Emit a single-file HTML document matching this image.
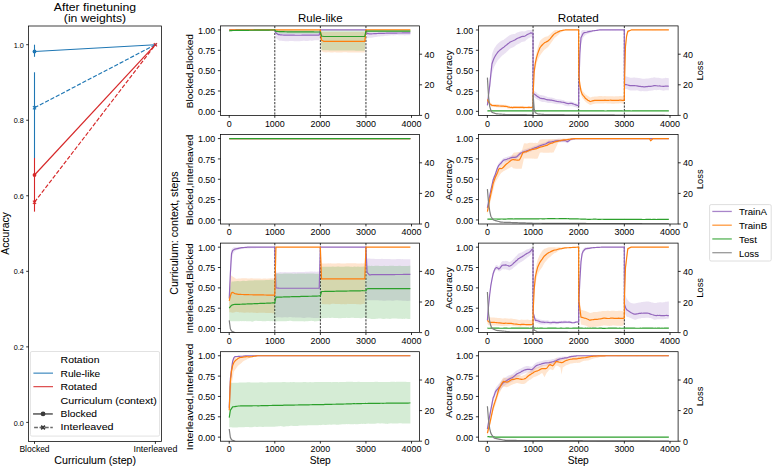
<!DOCTYPE html>
<html><head><meta charset="utf-8"><title>Figure</title>
<style>html,body{margin:0;padding:0;background:#fff;}svg{display:block;}</style>
</head><body>
<svg width="774" height="468" viewBox="0 0 774 468" font-family='"Liberation Sans", sans-serif'>
<rect x="0" y="0" width="774" height="468" fill="#ffffff"/>
<defs>
<clipPath id="c00"><rect x="220.50" y="25.90" width="199.00" height="89.50"/></clipPath>
<clipPath id="c01"><rect x="220.50" y="134.50" width="199.00" height="89.50"/></clipPath>
<clipPath id="c02"><rect x="220.50" y="243.10" width="199.00" height="89.50"/></clipPath>
<clipPath id="c03"><rect x="220.50" y="351.70" width="199.00" height="89.50"/></clipPath>
<clipPath id="c10"><rect x="478.50" y="25.90" width="199.60" height="89.50"/></clipPath>
<clipPath id="c11"><rect x="478.50" y="134.50" width="199.60" height="89.50"/></clipPath>
<clipPath id="c12"><rect x="478.50" y="243.10" width="199.60" height="89.50"/></clipPath>
<clipPath id="c13"><rect x="478.50" y="351.70" width="199.60" height="89.50"/></clipPath>
</defs>
<g clip-path="url(#c00)">
<polygon points="229.23,29.97 230.37,29.97 231.51,29.97 232.65,29.97 233.79,29.97 234.93,29.97 236.07,29.97 237.20,29.97 238.34,29.97 239.48,29.97 240.62,29.97 241.76,29.97 242.90,29.97 244.04,29.97 245.18,29.97 246.32,29.97 247.46,29.97 248.60,29.97 249.74,29.97 250.88,29.97 252.01,29.97 253.15,29.97 254.29,29.97 255.43,29.97 256.57,29.97 257.71,29.97 258.85,29.97 259.99,29.97 261.13,29.97 262.27,29.97 263.41,29.97 264.55,29.97 265.69,29.97 266.83,29.97 267.96,29.97 269.10,29.97 270.24,29.97 271.38,29.97 272.52,29.97 273.66,29.97 274.75,29.97 274.80,30.00 274.85,30.03 275.94,30.78 277.08,30.79 278.22,30.80 279.36,30.81 280.50,30.82 281.64,30.84 282.77,30.85 283.91,30.86 285.05,30.87 286.19,30.88 287.33,30.89 288.47,30.90 289.61,30.91 290.75,30.92 291.89,30.93 293.03,30.94 294.17,30.95 295.31,30.96 296.45,30.97 297.58,30.99 298.72,31.00 299.86,31.01 301.00,31.02 302.14,31.03 303.28,31.04 304.42,31.05 305.56,31.06 306.70,31.07 307.84,31.08 308.98,31.09 310.12,31.10 311.26,31.11 312.40,31.12 313.53,31.14 314.67,31.15 315.81,31.16 316.95,31.17 318.09,31.18 319.23,31.19 320.32,30.02 320.37,29.97 320.42,29.97 321.51,29.97 322.65,29.97 323.79,29.97 324.93,29.97 326.07,29.97 327.21,29.97 328.34,29.97 329.48,29.97 330.62,29.97 331.76,29.97 332.90,29.97 334.04,29.97 335.18,29.97 336.32,29.97 337.46,29.97 338.60,29.97 339.74,29.97 340.88,29.97 342.02,29.97 343.15,29.97 344.29,29.97 345.43,29.97 346.57,29.97 347.71,29.97 348.85,29.97 349.99,29.97 351.13,29.97 352.27,29.97 353.41,29.97 354.55,29.97 355.69,29.97 356.83,29.97 357.97,29.97 359.10,29.97 360.24,29.97 361.38,29.97 362.52,29.97 363.66,29.97 364.80,29.97 365.89,29.97 365.94,30.02 365.99,30.06 367.08,31.19 368.22,31.18 369.36,31.17 370.50,31.16 371.64,31.15 372.78,31.14 373.91,31.12 375.05,31.11 376.19,31.10 377.33,31.09 378.47,31.08 379.61,31.07 380.75,31.06 381.89,31.05 383.03,31.04 384.17,31.03 385.31,31.02 386.45,31.01 387.59,31.00 388.73,30.99 389.86,30.97 391.00,30.96 392.14,30.95 393.28,30.94 394.42,30.93 395.56,30.92 396.70,30.91 397.84,30.90 398.98,30.89 400.12,30.88 401.26,30.87 402.40,30.86 403.54,30.85 404.67,30.84 405.81,30.82 406.95,30.81 408.09,30.80 409.23,30.79 410.37,30.78 410.37,35.24 409.23,35.26 408.09,35.23 406.95,35.32 405.81,35.34 404.67,35.43 403.54,35.36 402.40,35.34 401.26,35.27 400.12,35.28 398.98,35.24 397.84,35.09 396.70,35.02 395.56,35.21 394.42,35.37 393.28,35.39 392.14,35.32 391.00,35.36 389.86,35.50 388.73,35.61 387.59,35.72 386.45,35.77 385.31,35.83 384.17,35.97 383.03,36.13 381.89,36.29 380.75,36.33 379.61,36.50 378.47,36.61 377.33,36.85 376.19,36.88 375.05,37.02 373.91,37.21 372.78,37.45 371.64,37.64 370.50,37.66 369.36,37.84 368.22,37.96 367.08,38.05 365.99,30.55 365.94,30.27 365.89,29.97 364.80,29.97 363.66,29.97 362.52,29.97 361.38,29.97 360.24,29.97 359.10,29.97 357.97,29.97 356.83,29.97 355.69,29.97 354.55,29.97 353.41,29.97 352.27,29.97 351.13,29.97 349.99,29.97 348.85,29.97 347.71,29.97 346.57,29.97 345.43,29.97 344.29,29.97 343.15,29.97 342.02,29.97 340.88,29.97 339.74,29.97 338.60,29.97 337.46,29.97 336.32,29.97 335.18,29.97 334.04,29.97 332.90,29.97 331.76,29.97 330.62,29.97 329.48,29.97 328.34,29.97 327.21,29.97 326.07,29.97 324.93,29.97 323.79,29.97 322.65,29.97 321.51,29.97 320.42,29.97 320.37,29.97 320.32,30.37 319.23,40.15 318.09,40.18 316.95,40.22 315.81,40.21 314.67,40.35 313.53,40.56 312.40,40.66 311.26,40.64 310.12,40.56 308.98,40.68 307.84,40.90 306.70,41.06 305.56,40.95 304.42,40.82 303.28,40.72 302.14,40.93 301.00,41.07 299.86,41.22 298.72,41.25 297.58,41.26 296.45,41.27 295.31,41.22 294.17,41.26 293.03,41.12 291.89,41.10 290.75,41.05 289.61,41.10 288.47,41.15 287.33,41.24 286.19,41.22 285.05,41.16 283.91,41.02 282.77,40.96 281.64,40.82 280.50,40.82 279.36,40.84 278.22,40.03 277.08,38.98 275.94,38.04 274.85,30.59 274.80,30.29 274.75,29.97 273.66,29.97 272.52,29.97 271.38,29.97 270.24,29.97 269.10,29.97 267.96,29.97 266.83,29.97 265.69,29.97 264.55,29.97 263.41,29.97 262.27,29.97 261.13,29.97 259.99,29.97 258.85,29.97 257.71,29.97 256.57,29.97 255.43,29.97 254.29,29.97 253.15,29.97 252.01,29.97 250.88,29.97 249.74,29.97 248.60,29.97 247.46,29.97 246.32,29.97 245.18,29.97 244.04,29.97 242.90,29.97 241.76,29.97 240.62,29.97 239.48,29.97 238.34,29.97 237.20,29.97 236.07,29.97 234.93,29.97 233.79,29.97 232.65,29.97 231.51,29.97 230.37,29.97 229.23,29.97" fill="#9467bd" fill-opacity="0.20" stroke="none"/>
<polygon points="229.23,29.97 230.37,29.97 231.51,29.97 232.65,29.97 233.79,29.97 234.93,29.97 236.07,29.97 237.20,29.97 238.34,29.97 239.48,29.97 240.62,29.97 241.76,29.97 242.90,29.97 244.04,29.97 245.18,29.97 246.32,29.97 247.46,29.97 248.60,29.97 249.74,29.97 250.88,29.97 252.01,29.97 253.15,29.97 254.29,29.97 255.43,29.97 256.57,29.97 257.71,29.97 258.85,29.97 259.99,29.97 261.13,29.97 262.27,29.97 263.41,29.97 264.55,29.97 265.69,29.97 266.83,29.97 267.96,29.97 269.10,29.97 270.24,29.97 271.38,29.97 272.52,29.97 273.66,29.97 274.75,29.97 274.80,29.97 274.85,29.97 275.94,29.97 277.08,29.97 278.22,29.97 279.36,29.97 280.50,29.97 281.64,29.97 282.77,29.97 283.91,29.97 285.05,29.97 286.19,29.97 287.33,29.97 288.47,29.97 289.61,29.97 290.75,29.97 291.89,29.97 293.03,29.97 294.17,29.97 295.31,29.97 296.45,29.97 297.58,29.97 298.72,29.97 299.86,29.97 301.00,29.97 302.14,29.97 303.28,29.97 304.42,29.97 305.56,29.97 306.70,29.97 307.84,29.97 308.98,29.97 310.12,29.97 311.26,29.97 312.40,29.97 313.53,29.97 314.67,29.97 315.81,29.97 316.95,29.97 318.09,29.97 319.23,29.97 320.32,29.97 320.37,30.05 320.42,30.12 321.51,32.00 322.65,32.00 323.79,32.00 324.93,32.00 326.07,32.00 327.21,32.00 328.34,32.00 329.48,32.00 330.62,32.00 331.76,32.00 332.90,32.00 334.04,32.00 335.18,32.00 336.32,32.00 337.46,32.00 338.60,32.00 339.74,32.00 340.88,32.00 342.02,32.00 343.15,32.00 344.29,32.00 345.43,32.00 346.57,32.00 347.71,32.00 348.85,32.00 349.99,32.00 351.13,32.00 352.27,32.00 353.41,32.00 354.55,32.00 355.69,32.00 356.83,32.00 357.97,32.00 359.10,32.00 360.24,32.00 361.38,32.00 362.52,32.00 363.66,32.00 364.80,32.00 365.89,30.05 365.94,29.97 365.99,29.97 367.08,29.97 368.22,29.97 369.36,29.97 370.50,29.97 371.64,29.97 372.78,29.97 373.91,29.97 375.05,29.97 376.19,29.97 377.33,29.97 378.47,29.97 379.61,29.97 380.75,29.97 381.89,29.97 383.03,29.97 384.17,29.97 385.31,29.97 386.45,29.97 387.59,29.97 388.73,29.97 389.86,29.97 391.00,29.97 392.14,29.97 393.28,29.97 394.42,29.97 395.56,29.97 396.70,29.97 397.84,29.97 398.98,29.97 400.12,29.97 401.26,29.97 402.40,29.97 403.54,29.97 404.67,29.97 405.81,29.97 406.95,29.97 408.09,29.97 409.23,29.97 410.37,29.97 410.37,29.97 409.23,29.97 408.09,29.97 406.95,29.97 405.81,29.97 404.67,29.97 403.54,29.97 402.40,29.97 401.26,29.97 400.12,29.97 398.98,29.97 397.84,29.97 396.70,29.97 395.56,29.97 394.42,29.97 393.28,29.97 392.14,29.97 391.00,29.97 389.86,29.97 388.73,29.97 387.59,29.97 386.45,29.97 385.31,29.97 384.17,29.97 383.03,29.97 381.89,29.97 380.75,29.97 379.61,29.97 378.47,29.97 377.33,29.97 376.19,29.97 375.05,29.97 373.91,29.97 372.78,29.97 371.64,29.97 370.50,29.97 369.36,29.97 368.22,29.97 367.08,29.97 365.99,29.97 365.94,29.97 365.89,30.83 364.80,52.38 363.66,52.40 362.52,52.47 361.38,52.53 360.24,52.42 359.10,52.42 357.97,52.38 356.83,52.53 355.69,52.50 354.55,52.49 353.41,52.51 352.27,52.52 351.13,52.51 349.99,52.50 348.85,52.50 347.71,52.47 346.57,52.35 345.43,52.19 344.29,52.22 343.15,52.29 342.02,52.47 340.88,52.44 339.74,52.40 338.60,52.46 337.46,52.42 336.32,52.49 335.18,52.36 334.04,52.37 332.90,52.44 331.76,52.39 330.62,52.43 329.48,52.32 328.34,52.37 327.21,52.36 326.07,52.41 324.93,52.37 323.79,52.32 322.65,51.72 321.51,51.14 320.42,31.61 320.37,30.76 320.32,29.97 319.23,29.97 318.09,29.97 316.95,29.97 315.81,29.97 314.67,29.97 313.53,29.97 312.40,29.97 311.26,29.97 310.12,29.97 308.98,29.97 307.84,29.97 306.70,29.97 305.56,29.97 304.42,29.97 303.28,29.97 302.14,29.97 301.00,29.97 299.86,29.97 298.72,29.97 297.58,29.97 296.45,29.97 295.31,29.97 294.17,29.97 293.03,29.97 291.89,29.97 290.75,29.97 289.61,29.97 288.47,29.97 287.33,29.97 286.19,29.97 285.05,29.97 283.91,29.97 282.77,29.97 281.64,29.97 280.50,29.97 279.36,29.97 278.22,29.97 277.08,29.97 275.94,29.97 274.85,29.97 274.80,29.97 274.75,29.97 273.66,29.97 272.52,29.97 271.38,29.97 270.24,29.97 269.10,29.97 267.96,29.97 266.83,29.97 265.69,29.97 264.55,29.97 263.41,29.97 262.27,29.97 261.13,29.97 259.99,29.97 258.85,29.97 257.71,29.97 256.57,29.97 255.43,29.97 254.29,29.97 253.15,29.97 252.01,29.97 250.88,29.97 249.74,29.97 248.60,29.97 247.46,29.97 246.32,29.97 245.18,29.97 244.04,29.97 242.90,29.97 241.76,29.97 240.62,29.97 239.48,29.97 238.34,29.97 237.20,29.97 236.07,29.97 234.93,29.97 233.79,29.97 232.65,29.97 231.51,29.97 230.37,29.97 229.23,29.97" fill="#ff7f0e" fill-opacity="0.20" stroke="none"/>
<polygon points="229.23,30.38 230.37,30.36 231.51,30.35 232.65,30.34 233.79,30.33 234.93,30.32 236.07,30.31 237.20,30.30 238.34,30.29 239.48,30.28 240.62,30.27 241.76,30.26 242.90,30.25 244.04,30.24 245.18,30.23 246.32,30.22 247.46,30.21 248.60,30.20 249.74,30.19 250.88,30.18 252.01,30.17 253.15,30.16 254.29,30.15 255.43,30.14 256.57,30.13 257.71,30.12 258.85,30.11 259.99,30.10 261.13,30.09 262.27,30.08 263.41,30.07 264.55,30.06 265.69,30.05 266.83,30.04 267.96,30.03 269.10,30.02 270.24,30.01 271.38,30.00 272.52,29.99 273.66,29.98 274.75,29.97 274.80,29.97 274.85,29.97 275.94,29.98 277.08,29.99 278.22,30.00 279.36,30.01 280.50,30.02 281.64,30.03 282.77,30.04 283.91,30.05 285.05,30.06 286.19,30.07 287.33,30.08 288.47,30.09 289.61,30.10 290.75,30.11 291.89,30.12 293.03,30.14 294.17,30.15 295.31,30.16 296.45,30.17 297.58,30.18 298.72,30.19 299.86,30.20 301.00,30.21 302.14,30.22 303.28,30.23 304.42,30.24 305.56,30.25 306.70,30.26 307.84,30.27 308.98,30.28 310.12,30.29 311.26,30.30 312.40,30.31 313.53,30.32 314.67,30.33 315.81,30.34 316.95,30.35 318.09,30.36 319.23,30.38 320.32,30.38 320.37,30.38 320.42,30.37 321.51,30.13 322.65,30.13 323.79,30.13 324.93,30.13 326.07,30.13 327.21,30.13 328.34,30.13 329.48,30.13 330.62,30.13 331.76,30.13 332.90,30.13 334.04,30.13 335.18,30.13 336.32,30.13 337.46,30.13 338.60,30.13 339.74,30.13 340.88,30.13 342.02,30.13 343.15,30.13 344.29,30.13 345.43,30.13 346.57,30.13 347.71,30.13 348.85,30.13 349.99,30.13 351.13,30.13 352.27,30.13 353.41,30.13 354.55,30.13 355.69,30.13 356.83,30.13 357.97,30.13 359.10,30.13 360.24,30.13 361.38,30.13 362.52,30.13 363.66,30.13 364.80,30.13 365.89,29.97 365.94,29.97 365.99,29.97 367.08,29.98 368.22,29.99 369.36,30.00 370.50,30.01 371.64,30.02 372.78,30.03 373.91,30.04 375.05,30.05 376.19,30.06 377.33,30.07 378.47,30.08 379.61,30.09 380.75,30.10 381.89,30.11 383.03,30.12 384.17,30.14 385.31,30.15 386.45,30.16 387.59,30.17 388.73,30.18 389.86,30.19 391.00,30.20 392.14,30.21 393.28,30.22 394.42,30.23 395.56,30.24 396.70,30.25 397.84,30.26 398.98,30.27 400.12,30.28 401.26,30.29 402.40,30.30 403.54,30.31 404.67,30.32 405.81,30.33 406.95,30.34 408.09,30.35 409.23,30.36 410.37,30.38 410.37,32.00 409.23,32.01 408.09,32.02 406.95,32.03 405.81,32.04 404.67,32.05 403.54,32.06 402.40,32.08 401.26,32.09 400.12,32.10 398.98,32.11 397.84,32.12 396.70,32.13 395.56,32.14 394.42,32.15 393.28,32.16 392.14,32.17 391.00,32.18 389.86,32.19 388.73,32.20 387.59,32.21 386.45,32.22 385.31,32.23 384.17,32.24 383.03,32.25 381.89,32.26 380.75,32.27 379.61,32.28 378.47,32.29 377.33,32.30 376.19,32.32 375.05,32.33 373.91,32.34 372.78,32.35 371.64,32.36 370.50,32.37 369.36,32.38 368.22,32.39 367.08,32.40 365.99,32.41 365.94,32.41 365.89,33.14 364.80,50.72 363.66,50.71 362.52,50.69 361.38,50.68 360.24,50.67 359.10,50.66 357.97,50.65 356.83,50.64 355.69,50.63 354.55,50.62 353.41,50.61 352.27,50.60 351.13,50.59 349.99,50.58 348.85,50.57 347.71,50.56 346.57,50.54 345.43,50.53 344.29,50.52 343.15,50.51 342.02,50.50 340.88,50.49 339.74,50.48 338.60,50.47 337.46,50.46 336.32,50.45 335.18,50.44 334.04,50.43 332.90,50.42 331.76,50.41 330.62,50.39 329.48,50.38 328.34,50.37 327.21,50.36 326.07,50.35 324.93,50.34 323.79,50.33 322.65,50.32 321.51,50.31 320.42,34.30 320.37,33.63 320.32,33.63 319.23,33.63 318.09,33.63 316.95,33.63 315.81,33.63 314.67,33.63 313.53,33.63 312.40,33.63 311.26,33.63 310.12,33.63 308.98,33.63 307.84,33.63 306.70,33.63 305.56,33.63 304.42,33.63 303.28,33.63 302.14,33.63 301.00,33.63 299.86,33.63 298.72,33.63 297.58,33.63 296.45,33.63 295.31,33.63 294.17,33.63 293.03,33.63 291.89,33.63 290.75,33.63 289.61,33.63 288.47,33.63 287.33,33.63 286.19,33.63 285.05,33.63 283.91,33.63 282.77,33.63 281.64,33.63 280.50,33.63 279.36,33.63 278.22,33.63 277.08,33.63 275.94,33.63 274.85,30.63 274.80,30.50 274.75,30.38 273.66,30.39 272.52,30.41 271.38,30.44 270.24,30.46 269.10,30.48 267.96,30.50 266.83,30.52 265.69,30.54 264.55,30.56 263.41,30.58 262.27,30.60 261.13,30.62 259.99,30.64 258.85,30.66 257.71,30.68 256.57,30.70 255.43,30.72 254.29,30.74 253.15,30.76 252.01,30.78 250.88,30.80 249.74,30.82 248.60,30.84 247.46,30.86 246.32,30.88 245.18,30.90 244.04,30.92 242.90,30.94 241.76,30.96 240.62,30.99 239.48,31.01 238.34,31.03 237.20,31.05 236.07,31.07 234.93,31.09 233.79,31.11 232.65,31.13 231.51,31.15 230.37,31.17 229.23,31.19" fill="#2ca02c" fill-opacity="0.20" stroke="none"/>
<line x1="274.80" y1="25.90" x2="274.80" y2="115.40" stroke="#000" stroke-width="0.80" stroke-dasharray="2.2,1.26"/>
<line x1="320.37" y1="25.90" x2="320.37" y2="115.40" stroke="#000" stroke-width="0.80" stroke-dasharray="2.2,1.26"/>
<line x1="365.94" y1="25.90" x2="365.94" y2="115.40" stroke="#000" stroke-width="0.80" stroke-dasharray="2.2,1.26"/>
<polyline points="229.23,29.97 230.37,29.97 231.51,29.97 232.65,29.97 233.79,29.97 234.93,29.97 236.07,29.97 237.20,29.97 238.34,29.97 239.48,29.97 240.62,29.97 241.76,29.97 242.90,29.97 244.04,29.97 245.18,29.97 246.32,29.97 247.46,29.97 248.60,29.97 249.74,29.97 250.88,29.97 252.01,29.97 253.15,29.97 254.29,29.97 255.43,29.97 256.57,29.97 257.71,29.97 258.85,29.97 259.99,29.97 261.13,29.97 262.27,29.97 263.41,29.97 264.55,29.97 265.69,29.97 266.83,29.97 267.96,29.97 269.10,29.97 270.24,29.97 271.38,29.97 272.52,29.97 273.66,29.97 274.75,29.97 274.80,30.09 274.85,30.21 275.94,33.06 277.08,33.83 278.22,34.61 279.36,34.70 280.50,34.80 281.64,34.90 282.77,35.00 283.91,35.09 285.05,35.11 286.19,35.12 287.33,35.13 288.47,35.15 289.61,35.16 290.75,35.18 291.89,35.19 293.03,35.20 294.17,35.22 295.31,35.23 296.45,35.24 297.58,35.26 298.72,35.25 299.86,35.24 301.00,35.23 302.14,35.22 303.28,35.21 304.42,35.20 305.56,35.19 306.70,35.18 307.84,35.17 308.98,35.16 310.12,35.15 311.26,35.15 312.40,35.14 313.53,35.13 314.67,35.12 315.81,35.12 316.95,35.11 318.09,35.10 319.23,35.09 320.32,30.17 320.37,29.97 320.42,29.97 321.51,29.97 322.65,29.97 323.79,29.97 324.93,29.97 326.07,29.97 327.21,29.97 328.34,29.97 329.48,29.97 330.62,29.97 331.76,29.97 332.90,29.97 334.04,29.97 335.18,29.97 336.32,29.97 337.46,29.97 338.60,29.97 339.74,29.97 340.88,29.97 342.02,29.97 343.15,29.97 344.29,29.97 345.43,29.97 346.57,29.97 347.71,29.97 348.85,29.97 349.99,29.97 351.13,29.97 352.27,29.97 353.41,29.97 354.55,29.97 355.69,29.97 356.83,29.97 357.97,29.97 359.10,29.97 360.24,29.97 361.38,29.97 362.52,29.97 363.66,29.97 364.80,29.97 365.89,29.97 365.94,30.11 365.99,30.25 367.08,33.63 368.22,33.71 369.36,33.79 370.50,33.87 371.64,33.81 372.78,33.75 373.91,33.69 375.05,33.63 376.19,33.57 377.33,33.51 378.47,33.45 379.61,33.39 380.75,33.36 381.89,33.33 383.03,33.30 384.17,33.28 385.31,33.25 386.45,33.22 387.59,33.20 388.73,33.17 389.86,33.14 391.00,33.11 392.14,33.09 393.28,33.06 394.42,33.05 395.56,33.04 396.70,33.03 397.84,33.02 398.98,33.01 400.12,32.99 401.26,32.98 402.40,32.97 403.54,32.96 404.67,32.95 405.81,32.94 406.95,32.93 408.09,32.92 409.23,32.91 410.37,32.90" fill="none" stroke="#9467bd" stroke-width="1.20" stroke-linejoin="round"/>
<polyline points="229.23,29.97 230.37,29.97 231.51,29.97 232.65,29.97 233.79,29.97 234.93,29.97 236.07,29.97 237.20,29.97 238.34,29.97 239.48,29.97 240.62,29.97 241.76,29.97 242.90,29.97 244.04,29.97 245.18,29.97 246.32,29.97 247.46,29.97 248.60,29.97 249.74,29.97 250.88,29.97 252.01,29.97 253.15,29.97 254.29,29.97 255.43,29.97 256.57,29.97 257.71,29.97 258.85,29.97 259.99,29.97 261.13,29.97 262.27,29.97 263.41,29.97 264.55,29.97 265.69,29.97 266.83,29.97 267.96,29.97 269.10,29.97 270.24,29.97 271.38,29.97 272.52,29.97 273.66,29.97 274.75,29.97 274.80,29.97 274.85,29.97 275.94,29.97 277.08,29.97 278.22,29.97 279.36,29.97 280.50,29.97 281.64,29.97 282.77,29.97 283.91,29.97 285.05,29.97 286.19,29.97 287.33,29.97 288.47,29.97 289.61,29.97 290.75,29.97 291.89,29.97 293.03,29.97 294.17,29.97 295.31,29.97 296.45,29.97 297.58,29.97 298.72,29.97 299.86,29.97 301.00,29.97 302.14,29.97 303.28,29.97 304.42,29.97 305.56,29.97 306.70,29.97 307.84,29.97 308.98,29.97 310.12,29.97 311.26,29.97 312.40,29.97 313.53,29.97 314.67,29.97 315.81,29.97 316.95,29.97 318.09,29.97 319.23,29.97 320.32,29.97 320.37,30.36 320.42,30.75 321.51,40.14 322.65,40.75 323.79,41.36 324.93,41.36 326.07,41.36 327.21,41.36 328.34,41.36 329.48,41.36 330.62,41.36 331.76,41.36 332.90,41.36 334.04,41.36 335.18,41.36 336.32,41.36 337.46,41.36 338.60,41.36 339.74,41.36 340.88,41.36 342.02,41.36 343.15,41.36 344.29,41.36 345.43,41.36 346.57,41.36 347.71,41.36 348.85,41.36 349.99,41.36 351.13,41.36 352.27,41.36 353.41,41.36 354.55,41.36 355.69,41.36 356.83,41.36 357.97,41.36 359.10,41.36 360.24,41.36 361.38,41.36 362.52,41.36 363.66,41.36 364.80,41.36 365.89,30.42 365.94,29.97 365.99,29.97 367.08,29.97 368.22,29.97 369.36,29.97 370.50,29.97 371.64,29.97 372.78,29.97 373.91,29.97 375.05,29.97 376.19,29.97 377.33,29.97 378.47,29.97 379.61,29.97 380.75,29.97 381.89,29.97 383.03,29.97 384.17,29.97 385.31,29.97 386.45,29.97 387.59,29.97 388.73,29.97 389.86,29.97 391.00,29.97 392.14,29.97 393.28,29.97 394.42,29.97 395.56,29.97 396.70,29.97 397.84,29.97 398.98,29.97 400.12,29.97 401.26,29.97 402.40,29.97 403.54,29.97 404.67,29.97 405.81,29.97 406.95,29.97 408.09,29.97 409.23,29.97 410.37,29.97" fill="none" stroke="#ff7f0e" stroke-width="1.20" stroke-linejoin="round"/>
<polyline points="229.23,30.78 230.37,30.66 231.51,30.54 232.65,30.52 233.79,30.50 234.93,30.49 236.07,30.47 237.20,30.45 238.34,30.43 239.48,30.42 240.62,30.40 241.76,30.38 242.90,30.36 244.04,30.35 245.18,30.33 246.32,30.31 247.46,30.29 248.60,30.28 249.74,30.27 250.88,30.25 252.01,30.24 253.15,30.23 254.29,30.21 255.43,30.20 256.57,30.18 257.71,30.17 258.85,30.16 259.99,30.14 261.13,30.13 262.27,30.12 263.41,30.10 264.55,30.09 265.69,30.08 266.83,30.06 267.96,30.05 269.10,30.04 270.24,30.02 271.38,30.01 272.52,29.99 273.66,29.98 274.75,29.97 274.80,30.02 274.85,30.08 275.94,31.43 277.08,31.47 278.22,31.51 279.36,31.54 280.50,31.58 281.64,31.62 282.77,31.65 283.91,31.69 285.05,31.73 286.19,31.77 287.33,31.80 288.47,31.84 289.61,31.85 290.75,31.85 291.89,31.86 293.03,31.86 294.17,31.87 295.31,31.88 296.45,31.88 297.58,31.89 298.72,31.89 299.86,31.90 301.00,31.91 302.14,31.91 303.28,31.92 304.42,31.92 305.56,31.93 306.70,31.94 307.84,31.94 308.98,31.95 310.12,31.95 311.26,31.96 312.40,31.97 313.53,31.97 314.67,31.98 315.81,31.98 316.95,31.99 318.09,32.00 319.23,32.00 320.32,32.00 320.37,32.00 320.42,32.17 321.51,36.07 322.65,36.27 323.79,36.48 324.93,36.48 326.07,36.48 327.21,36.48 328.34,36.48 329.48,36.48 330.62,36.48 331.76,36.48 332.90,36.48 334.04,36.48 335.18,36.48 336.32,36.48 337.46,36.48 338.60,36.48 339.74,36.48 340.88,36.48 342.02,36.48 343.15,36.48 344.29,36.48 345.43,36.48 346.57,36.48 347.71,36.48 348.85,36.48 349.99,36.48 351.13,36.48 352.27,36.48 353.41,36.48 354.55,36.48 355.69,36.48 356.83,36.48 357.97,36.48 359.10,36.48 360.24,36.48 361.38,36.48 362.52,36.48 363.66,36.48 364.80,36.48 365.89,31.40 365.94,31.19 365.99,31.19 367.08,31.19 368.22,31.19 369.36,31.19 370.50,31.19 371.64,31.19 372.78,31.19 373.91,31.19 375.05,31.19 376.19,31.19 377.33,31.19 378.47,31.19 379.61,31.19 380.75,31.19 381.89,31.19 383.03,31.19 384.17,31.19 385.31,31.19 386.45,31.19 387.59,31.19 388.73,31.19 389.86,31.19 391.00,31.19 392.14,31.19 393.28,31.19 394.42,31.19 395.56,31.19 396.70,31.19 397.84,31.19 398.98,31.19 400.12,31.19 401.26,31.19 402.40,31.19 403.54,31.19 404.67,31.19 405.81,31.19 406.95,31.19 408.09,31.19 409.23,31.19 410.37,31.19" fill="none" stroke="#2ca02c" stroke-width="1.20" stroke-linejoin="round"/>
</g>
<g clip-path="url(#c01)">
<polyline points="229.23,138.57 230.37,138.57 231.51,138.57 232.65,138.57 233.79,138.57 234.93,138.57 236.07,138.57 237.20,138.57 238.34,138.57 239.48,138.57 240.62,138.57 241.76,138.57 242.90,138.57 244.04,138.57 245.18,138.57 246.32,138.57 247.46,138.57 248.60,138.57 249.74,138.57 250.88,138.57 252.01,138.57 253.15,138.57 254.29,138.57 255.43,138.57 256.57,138.57 257.71,138.57 258.85,138.57 259.99,138.57 261.13,138.57 262.27,138.57 263.41,138.57 264.55,138.57 265.69,138.57 266.83,138.57 267.96,138.57 269.10,138.57 270.24,138.57 271.38,138.57 272.52,138.57 273.66,138.57 274.75,138.57 274.80,138.57 274.85,138.57 275.94,138.57 277.08,138.57 278.22,138.57 279.36,138.57 280.50,138.57 281.64,138.57 282.77,138.57 283.91,138.57 285.05,138.57 286.19,138.57 287.33,138.57 288.47,138.57 289.61,138.57 290.75,138.57 291.89,138.57 293.03,138.57 294.17,138.57 295.31,138.57 296.45,138.57 297.58,138.57 298.72,138.57 299.86,138.57 301.00,138.57 302.14,138.57 303.28,138.57 304.42,138.57 305.56,138.57 306.70,138.57 307.84,138.57 308.98,138.57 310.12,138.57 311.26,138.57 312.40,138.57 313.53,138.57 314.67,138.57 315.81,138.57 316.95,138.57 318.09,138.57 319.23,138.57 320.32,138.57 320.37,138.57 320.42,138.57 321.51,138.57 322.65,138.57 323.79,138.57 324.93,138.57 326.07,138.57 327.21,138.57 328.34,138.57 329.48,138.57 330.62,138.57 331.76,138.57 332.90,138.57 334.04,138.57 335.18,138.57 336.32,138.57 337.46,138.57 338.60,138.57 339.74,138.57 340.88,138.57 342.02,138.57 343.15,138.57 344.29,138.57 345.43,138.57 346.57,138.57 347.71,138.57 348.85,138.57 349.99,138.57 351.13,138.57 352.27,138.57 353.41,138.57 354.55,138.57 355.69,138.57 356.83,138.57 357.97,138.57 359.10,138.57 360.24,138.57 361.38,138.57 362.52,138.57 363.66,138.57 364.80,138.57 365.89,138.57 365.94,138.57 365.99,138.57 367.08,138.57 368.22,138.57 369.36,138.57 370.50,138.57 371.64,138.57 372.78,138.57 373.91,138.57 375.05,138.57 376.19,138.57 377.33,138.57 378.47,138.57 379.61,138.57 380.75,138.57 381.89,138.57 383.03,138.57 384.17,138.57 385.31,138.57 386.45,138.57 387.59,138.57 388.73,138.57 389.86,138.57 391.00,138.57 392.14,138.57 393.28,138.57 394.42,138.57 395.56,138.57 396.70,138.57 397.84,138.57 398.98,138.57 400.12,138.57 401.26,138.57 402.40,138.57 403.54,138.57 404.67,138.57 405.81,138.57 406.95,138.57 408.09,138.57 409.23,138.57 410.37,138.57" fill="none" stroke="#9467bd" stroke-width="1.20" stroke-linejoin="round"/>
<polyline points="229.23,138.57 230.37,138.57 231.51,138.57 232.65,138.57 233.79,138.57 234.93,138.57 236.07,138.57 237.20,138.57 238.34,138.57 239.48,138.57 240.62,138.57 241.76,138.57 242.90,138.57 244.04,138.57 245.18,138.57 246.32,138.57 247.46,138.57 248.60,138.57 249.74,138.57 250.88,138.57 252.01,138.57 253.15,138.57 254.29,138.57 255.43,138.57 256.57,138.57 257.71,138.57 258.85,138.57 259.99,138.57 261.13,138.57 262.27,138.57 263.41,138.57 264.55,138.57 265.69,138.57 266.83,138.57 267.96,138.57 269.10,138.57 270.24,138.57 271.38,138.57 272.52,138.57 273.66,138.57 274.75,138.57 274.80,138.57 274.85,138.57 275.94,138.57 277.08,138.57 278.22,138.57 279.36,138.57 280.50,138.57 281.64,138.57 282.77,138.57 283.91,138.57 285.05,138.57 286.19,138.57 287.33,138.57 288.47,138.57 289.61,138.57 290.75,138.57 291.89,138.57 293.03,138.57 294.17,138.57 295.31,138.57 296.45,138.57 297.58,138.57 298.72,138.57 299.86,138.57 301.00,138.57 302.14,138.57 303.28,138.57 304.42,138.57 305.56,138.57 306.70,138.57 307.84,138.57 308.98,138.57 310.12,138.57 311.26,138.57 312.40,138.57 313.53,138.57 314.67,138.57 315.81,138.57 316.95,138.57 318.09,138.57 319.23,138.57 320.32,138.57 320.37,138.57 320.42,138.57 321.51,138.57 322.65,138.57 323.79,138.57 324.93,138.57 326.07,138.57 327.21,138.57 328.34,138.57 329.48,138.57 330.62,138.57 331.76,138.57 332.90,138.57 334.04,138.57 335.18,138.57 336.32,138.57 337.46,138.57 338.60,138.57 339.74,138.57 340.88,138.57 342.02,138.57 343.15,138.57 344.29,138.57 345.43,138.57 346.57,138.57 347.71,138.57 348.85,138.57 349.99,138.57 351.13,138.57 352.27,138.57 353.41,138.57 354.55,138.57 355.69,138.57 356.83,138.57 357.97,138.57 359.10,138.57 360.24,138.57 361.38,138.57 362.52,138.57 363.66,138.57 364.80,138.57 365.89,138.57 365.94,138.57 365.99,138.57 367.08,138.57 368.22,138.57 369.36,138.57 370.50,138.57 371.64,138.57 372.78,138.57 373.91,138.57 375.05,138.57 376.19,138.57 377.33,138.57 378.47,138.57 379.61,138.57 380.75,138.57 381.89,138.57 383.03,138.57 384.17,138.57 385.31,138.57 386.45,138.57 387.59,138.57 388.73,138.57 389.86,138.57 391.00,138.57 392.14,138.57 393.28,138.57 394.42,138.57 395.56,138.57 396.70,138.57 397.84,138.57 398.98,138.57 400.12,138.57 401.26,138.57 402.40,138.57 403.54,138.57 404.67,138.57 405.81,138.57 406.95,138.57 408.09,138.57 409.23,138.57 410.37,138.57" fill="none" stroke="#ff7f0e" stroke-width="1.20" stroke-linejoin="round"/>
<polyline points="229.23,138.57 230.37,138.57 231.51,138.57 232.65,138.57 233.79,138.57 234.93,138.57 236.07,138.57 237.20,138.57 238.34,138.57 239.48,138.57 240.62,138.57 241.76,138.57 242.90,138.57 244.04,138.57 245.18,138.57 246.32,138.57 247.46,138.57 248.60,138.57 249.74,138.57 250.88,138.57 252.01,138.57 253.15,138.57 254.29,138.57 255.43,138.57 256.57,138.57 257.71,138.57 258.85,138.57 259.99,138.57 261.13,138.57 262.27,138.57 263.41,138.57 264.55,138.57 265.69,138.57 266.83,138.57 267.96,138.57 269.10,138.57 270.24,138.57 271.38,138.57 272.52,138.57 273.66,138.57 274.75,138.57 274.80,138.57 274.85,138.57 275.94,138.57 277.08,138.57 278.22,138.57 279.36,138.57 280.50,138.57 281.64,138.57 282.77,138.57 283.91,138.57 285.05,138.57 286.19,138.57 287.33,138.57 288.47,138.57 289.61,138.57 290.75,138.57 291.89,138.57 293.03,138.57 294.17,138.57 295.31,138.57 296.45,138.57 297.58,138.57 298.72,138.57 299.86,138.57 301.00,138.57 302.14,138.57 303.28,138.57 304.42,138.57 305.56,138.57 306.70,138.57 307.84,138.57 308.98,138.57 310.12,138.57 311.26,138.57 312.40,138.57 313.53,138.57 314.67,138.57 315.81,138.57 316.95,138.57 318.09,138.57 319.23,138.57 320.32,138.57 320.37,138.57 320.42,138.57 321.51,138.57 322.65,138.57 323.79,138.57 324.93,138.57 326.07,138.57 327.21,138.57 328.34,138.57 329.48,138.57 330.62,138.57 331.76,138.57 332.90,138.57 334.04,138.57 335.18,138.57 336.32,138.57 337.46,138.57 338.60,138.57 339.74,138.57 340.88,138.57 342.02,138.57 343.15,138.57 344.29,138.57 345.43,138.57 346.57,138.57 347.71,138.57 348.85,138.57 349.99,138.57 351.13,138.57 352.27,138.57 353.41,138.57 354.55,138.57 355.69,138.57 356.83,138.57 357.97,138.57 359.10,138.57 360.24,138.57 361.38,138.57 362.52,138.57 363.66,138.57 364.80,138.57 365.89,138.57 365.94,138.57 365.99,138.57 367.08,138.57 368.22,138.57 369.36,138.57 370.50,138.57 371.64,138.57 372.78,138.57 373.91,138.57 375.05,138.57 376.19,138.57 377.33,138.57 378.47,138.57 379.61,138.57 380.75,138.57 381.89,138.57 383.03,138.57 384.17,138.57 385.31,138.57 386.45,138.57 387.59,138.57 388.73,138.57 389.86,138.57 391.00,138.57 392.14,138.57 393.28,138.57 394.42,138.57 395.56,138.57 396.70,138.57 397.84,138.57 398.98,138.57 400.12,138.57 401.26,138.57 402.40,138.57 403.54,138.57 404.67,138.57 405.81,138.57 406.95,138.57 408.09,138.57 409.23,138.57 410.37,138.57" fill="none" stroke="#2ca02c" stroke-width="1.20" stroke-linejoin="round"/>
</g>
<g clip-path="url(#c02)">
<polygon points="229.23,291.84 230.37,261.73 231.51,249.61 232.65,247.99 233.79,247.17 234.93,247.17 236.07,247.17 237.20,247.17 238.34,247.17 239.48,247.17 240.62,247.17 241.76,247.17 242.90,247.17 244.04,247.17 245.18,247.17 246.32,247.17 247.46,247.17 248.60,247.17 249.74,247.17 250.88,247.17 252.01,247.17 253.15,247.17 254.29,247.17 255.43,247.17 256.57,247.17 257.71,247.17 258.85,247.17 259.99,247.17 261.13,247.17 262.27,247.17 263.41,247.17 264.55,247.17 265.69,247.17 266.83,247.17 267.96,247.17 269.10,247.17 270.24,247.17 271.38,247.17 272.52,247.17 273.66,247.17 274.75,247.17 274.80,248.11 274.85,249.12 275.94,272.51 277.08,272.65 278.22,272.55 279.36,272.27 280.50,272.12 281.64,272.15 282.77,272.15 283.91,272.14 285.05,272.07 286.19,272.16 287.33,272.16 288.47,272.17 289.61,272.26 290.75,272.19 291.89,272.16 293.03,271.97 294.17,272.00 295.31,272.10 296.45,272.16 297.58,272.00 298.72,271.88 299.86,271.91 301.00,272.08 302.14,272.10 303.28,272.04 304.42,272.02 305.56,271.83 306.70,271.81 307.84,271.71 308.98,271.69 310.12,271.55 311.26,271.55 312.40,271.60 313.53,271.63 314.67,271.61 315.81,271.72 316.95,271.71 318.09,271.61 319.23,271.45 320.32,248.14 320.37,247.17 320.42,247.17 321.51,247.17 322.65,247.17 323.79,247.17 324.93,247.17 326.07,247.17 327.21,247.17 328.34,247.17 329.48,247.17 330.62,247.17 331.76,247.17 332.90,247.17 334.04,247.17 335.18,247.17 336.32,247.17 337.46,247.17 338.60,247.17 339.74,247.17 340.88,247.17 342.02,247.17 343.15,247.17 344.29,247.17 345.43,247.17 346.57,247.17 347.71,247.17 348.85,247.17 349.99,247.17 351.13,247.17 352.27,247.17 353.41,247.17 354.55,247.17 355.69,247.17 356.83,247.17 357.97,247.17 359.10,247.17 360.24,247.17 361.38,247.17 362.52,247.17 363.66,247.17 364.80,247.17 365.89,247.17 365.94,247.60 365.99,248.02 367.08,258.44 368.22,258.48 369.36,258.56 370.50,258.67 371.64,258.74 372.78,258.71 373.91,258.78 375.05,258.88 376.19,258.91 377.33,258.95 378.47,258.98 379.61,258.98 380.75,258.97 381.89,258.83 383.03,258.91 384.17,258.96 385.31,259.09 386.45,259.11 387.59,259.08 388.73,259.07 389.86,259.08 391.00,259.18 392.14,259.15 393.28,259.27 394.42,259.20 395.56,259.18 396.70,259.01 397.84,258.91 398.98,259.08 400.12,259.12 401.26,259.17 402.40,259.03 403.54,259.16 404.67,259.24 405.81,259.20 406.95,259.26 408.09,259.28 409.23,259.35 410.37,259.27 410.37,300.79 409.23,300.76 408.09,300.90 406.95,300.92 405.81,300.83 404.67,300.81 403.54,300.69 402.40,300.64 401.26,300.49 400.12,300.49 398.98,300.43 397.84,300.35 396.70,300.23 395.56,300.36 394.42,300.54 393.28,300.73 392.14,300.64 391.00,300.54 389.86,300.53 388.73,300.49 387.59,300.57 386.45,300.40 385.31,300.82 384.17,300.73 383.03,300.70 381.89,300.48 380.75,300.38 379.61,300.44 378.47,300.28 377.33,300.27 376.19,300.22 375.05,300.20 373.91,300.16 372.78,300.16 371.64,300.15 370.50,300.22 369.36,300.25 368.22,300.23 367.08,300.29 365.99,251.44 365.94,249.33 365.89,247.17 364.80,247.17 363.66,247.17 362.52,247.17 361.38,247.17 360.24,247.17 359.10,247.17 357.97,247.17 356.83,247.17 355.69,247.17 354.55,247.17 353.41,247.17 352.27,247.17 351.13,247.17 349.99,247.17 348.85,247.17 347.71,247.17 346.57,247.17 345.43,247.17 344.29,247.17 343.15,247.17 342.02,247.17 340.88,247.17 339.74,247.17 338.60,247.17 337.46,247.17 336.32,247.17 335.18,247.17 334.04,247.17 332.90,247.17 331.76,247.17 330.62,247.17 329.48,247.17 328.34,247.17 327.21,247.17 326.07,247.17 324.93,247.17 323.79,247.17 322.65,247.17 321.51,247.17 320.42,247.17 320.37,247.17 320.32,250.02 319.23,318.04 318.09,317.82 316.95,317.91 315.81,318.04 314.67,318.02 313.53,318.06 312.40,317.86 311.26,317.66 310.12,317.43 308.98,317.40 307.84,317.46 306.70,317.57 305.56,317.80 304.42,317.97 303.28,317.92 302.14,317.77 301.00,317.61 299.86,317.56 298.72,317.47 297.58,317.57 296.45,317.57 295.31,317.45 294.17,317.30 293.03,317.38 291.89,317.30 290.75,317.10 289.61,317.07 288.47,317.16 287.33,317.40 286.19,317.23 285.05,317.21 283.91,317.25 282.77,317.39 281.64,317.49 280.50,317.25 279.36,317.30 278.22,317.21 277.08,317.22 275.94,317.14 274.85,252.58 274.80,249.85 274.75,247.17 273.66,247.22 272.52,247.29 271.38,247.36 270.24,247.42 269.10,247.47 267.96,247.50 266.83,247.55 265.69,247.63 264.55,247.71 263.41,247.77 262.27,247.81 261.13,247.84 259.99,247.88 258.85,247.95 257.71,248.01 256.57,248.12 255.43,248.18 254.29,248.21 253.15,248.24 252.01,248.23 250.88,248.32 249.74,248.40 248.60,248.48 247.46,248.56 246.32,248.61 245.18,248.61 244.04,248.69 242.90,248.72 241.76,248.90 240.62,249.16 239.48,249.33 238.34,249.91 237.20,250.04 236.07,250.37 234.93,251.28 233.79,252.29 232.65,255.61 231.51,261.81 230.37,287.79 229.23,304.08" fill="#9467bd" fill-opacity="0.20" stroke="none"/>
<polygon points="229.23,287.87 230.37,274.92 231.51,275.74 232.65,276.56 233.79,277.19 234.93,277.97 236.07,278.66 237.20,278.64 238.34,278.58 239.48,278.51 240.62,278.38 241.76,278.32 242.90,278.31 244.04,278.31 245.18,278.30 246.32,278.25 247.46,278.42 248.60,278.46 249.74,278.48 250.88,278.37 252.01,278.36 253.15,278.39 254.29,278.41 255.43,278.38 256.57,278.46 257.71,278.47 258.85,278.48 259.99,278.49 261.13,278.64 262.27,278.67 263.41,278.47 264.55,278.51 265.69,278.57 266.83,278.74 267.96,278.55 269.10,278.42 270.24,278.33 271.38,278.27 272.52,278.25 273.66,278.36 274.75,278.45 274.80,277.37 274.85,276.09 275.94,247.17 277.08,247.17 278.22,247.17 279.36,247.17 280.50,247.17 281.64,247.17 282.77,247.17 283.91,247.17 285.05,247.17 286.19,247.17 287.33,247.17 288.47,247.17 289.61,247.17 290.75,247.17 291.89,247.17 293.03,247.17 294.17,247.17 295.31,247.17 296.45,247.17 297.58,247.17 298.72,247.17 299.86,247.17 301.00,247.17 302.14,247.17 303.28,247.17 304.42,247.17 305.56,247.17 306.70,247.17 307.84,247.17 308.98,247.17 310.12,247.17 311.26,247.17 312.40,247.17 313.53,247.17 314.67,247.17 315.81,247.17 316.95,247.17 318.09,247.17 319.23,247.17 320.32,247.17 320.37,247.78 320.42,248.36 321.51,263.32 322.65,263.43 323.79,263.44 324.93,263.52 326.07,263.38 327.21,263.45 328.34,263.35 329.48,263.38 330.62,263.37 331.76,263.54 332.90,263.45 334.04,263.46 335.18,263.38 336.32,263.38 337.46,263.35 338.60,263.31 339.74,263.36 340.88,263.39 342.02,263.48 343.15,263.59 344.29,263.53 345.43,263.40 346.57,263.28 347.71,263.32 348.85,263.32 349.99,263.28 351.13,263.28 352.27,263.27 353.41,263.29 354.55,263.35 355.69,263.36 356.83,263.49 357.97,263.60 359.10,263.61 360.24,263.57 361.38,263.30 362.52,263.42 363.66,263.33 364.80,263.48 365.89,247.81 365.94,247.17 365.99,247.17 367.08,247.17 368.22,247.17 369.36,247.17 370.50,247.17 371.64,247.17 372.78,247.17 373.91,247.17 375.05,247.17 376.19,247.17 377.33,247.17 378.47,247.17 379.61,247.17 380.75,247.17 381.89,247.17 383.03,247.17 384.17,247.17 385.31,247.17 386.45,247.17 387.59,247.17 388.73,247.17 389.86,247.17 391.00,247.17 392.14,247.17 393.28,247.17 394.42,247.17 395.56,247.17 396.70,247.17 397.84,247.17 398.98,247.17 400.12,247.17 401.26,247.17 402.40,247.17 403.54,247.17 404.67,247.17 405.81,247.17 406.95,247.17 408.09,247.17 409.23,247.17 410.37,247.17 410.37,247.17 409.23,247.17 408.09,247.17 406.95,247.17 405.81,247.17 404.67,247.17 403.54,247.17 402.40,247.17 401.26,247.17 400.12,247.17 398.98,247.17 397.84,247.17 396.70,247.17 395.56,247.17 394.42,247.17 393.28,247.17 392.14,247.17 391.00,247.17 389.86,247.17 388.73,247.17 387.59,247.17 386.45,247.17 385.31,247.17 384.17,247.17 383.03,247.17 381.89,247.17 380.75,247.17 379.61,247.17 378.47,247.17 377.33,247.17 376.19,247.17 375.05,247.17 373.91,247.17 372.78,247.17 371.64,247.17 370.50,247.17 369.36,247.17 368.22,247.17 367.08,247.17 365.99,247.17 365.94,247.17 365.89,249.42 364.80,303.98 363.66,303.87 362.52,304.09 361.38,304.34 360.24,304.48 359.10,304.34 357.97,304.27 356.83,304.13 355.69,304.11 354.55,304.09 353.41,304.06 352.27,303.98 351.13,304.11 349.99,304.03 348.85,303.96 347.71,303.86 346.57,304.17 345.43,304.20 344.29,304.15 343.15,304.08 342.02,304.17 340.88,304.14 339.74,304.03 338.60,304.04 337.46,304.08 336.32,303.95 335.18,303.93 334.04,303.82 332.90,303.82 331.76,303.86 330.62,304.13 329.48,304.44 328.34,304.37 327.21,304.27 326.07,304.16 324.93,304.30 323.79,304.16 322.65,304.13 321.51,304.01 320.42,251.49 320.37,249.33 320.32,247.17 319.23,247.17 318.09,247.17 316.95,247.17 315.81,247.17 314.67,247.17 313.53,247.17 312.40,247.17 311.26,247.17 310.12,247.17 308.98,247.17 307.84,247.17 306.70,247.17 305.56,247.17 304.42,247.17 303.28,247.17 302.14,247.17 301.00,247.17 299.86,247.17 298.72,247.17 297.58,247.17 296.45,247.17 295.31,247.17 294.17,247.17 293.03,247.17 291.89,247.17 290.75,247.17 289.61,247.17 288.47,247.17 287.33,247.17 286.19,247.17 285.05,247.17 283.91,247.17 282.77,247.17 281.64,247.17 280.50,247.17 279.36,247.17 278.22,247.17 277.08,247.17 275.94,247.17 274.85,307.98 274.80,310.60 274.75,313.18 273.66,313.20 272.52,313.20 271.38,313.11 270.24,313.09 269.10,312.98 267.96,312.99 266.83,312.92 265.69,312.91 264.55,312.79 263.41,312.83 262.27,312.77 261.13,312.78 259.99,312.66 258.85,312.69 257.71,312.90 256.57,312.89 255.43,312.84 254.29,312.74 253.15,312.64 252.01,312.62 250.88,312.56 249.74,312.67 248.60,312.56 247.46,312.60 246.32,312.59 245.18,312.69 244.04,312.70 242.90,312.49 241.76,312.51 240.62,312.32 239.48,312.39 238.34,312.10 237.20,312.02 236.07,311.87 234.93,312.21 233.79,312.44 232.65,312.78 231.51,312.48 230.37,312.34 229.23,312.16" fill="#ff7f0e" fill-opacity="0.20" stroke="none"/>
<polygon points="229.23,291.82 230.37,286.57 231.51,281.56 232.65,281.50 233.79,281.45 234.93,281.27 236.07,281.20 237.20,281.11 238.34,281.11 239.48,281.14 240.62,281.16 241.76,281.00 242.90,280.86 244.04,280.87 245.18,280.95 246.32,280.89 247.46,280.66 248.60,280.55 249.74,280.60 250.88,280.59 252.01,280.56 253.15,280.43 254.29,280.36 255.43,280.25 256.57,280.25 257.71,280.26 258.85,280.30 259.99,280.27 261.13,280.32 262.27,280.25 263.41,280.22 264.55,280.15 265.69,280.12 266.83,280.04 267.96,279.98 269.10,279.90 270.24,279.77 271.38,279.83 272.52,279.72 273.66,279.79 274.75,279.72 274.80,279.59 274.85,279.33 275.94,273.55 277.08,273.61 278.22,273.60 279.36,273.66 280.50,273.70 281.64,273.79 282.77,273.76 283.91,273.60 285.05,273.46 286.19,273.46 287.33,273.48 288.47,273.54 289.61,273.50 290.75,273.58 291.89,273.60 293.03,273.65 294.17,273.70 295.31,273.60 296.45,273.68 297.58,273.58 298.72,273.53 299.86,273.53 301.00,273.56 302.14,273.60 303.28,273.61 304.42,273.61 305.56,273.68 306.70,273.58 307.84,273.51 308.98,273.52 310.12,273.46 311.26,273.43 312.40,273.42 313.53,273.55 314.67,273.66 315.81,273.83 316.95,273.74 318.09,273.81 319.23,273.63 320.32,270.23 320.37,270.05 320.42,270.01 321.51,266.84 322.65,266.72 323.79,266.73 324.93,266.71 326.07,266.79 327.21,266.75 328.34,266.66 329.48,266.69 330.62,266.67 331.76,266.74 332.90,266.62 334.04,266.70 335.18,266.65 336.32,266.68 337.46,266.54 338.60,266.61 339.74,266.74 340.88,266.84 342.02,266.79 343.15,266.68 344.29,266.64 345.43,266.58 346.57,266.44 347.71,266.44 348.85,266.43 349.99,266.70 351.13,266.83 352.27,266.90 353.41,266.79 354.55,266.62 355.69,266.64 356.83,266.63 357.97,266.62 359.10,266.65 360.24,266.74 361.38,266.77 362.52,266.77 363.66,266.55 364.80,266.64 365.89,266.26 365.94,266.39 365.99,266.31 367.08,265.81 368.22,265.76 369.36,265.78 370.50,265.88 371.64,265.85 372.78,265.89 373.91,265.91 375.05,265.86 376.19,265.74 377.33,265.73 378.47,265.86 379.61,265.93 380.75,266.02 381.89,265.93 383.03,265.90 384.17,265.79 385.31,265.94 386.45,266.00 387.59,265.98 388.73,265.88 389.86,265.86 391.00,265.86 392.14,265.82 393.28,265.83 394.42,265.90 395.56,266.02 396.70,266.05 397.84,265.96 398.98,265.87 400.12,265.77 401.26,265.90 402.40,266.00 403.54,266.03 404.67,265.98 405.81,265.91 406.95,265.95 408.09,265.88 409.23,265.77 410.37,265.72 410.37,319.11 409.23,319.04 408.09,318.88 406.95,318.66 405.81,318.61 404.67,318.95 403.54,318.85 402.40,318.91 401.26,318.69 400.12,318.78 398.98,318.85 397.84,318.74 396.70,318.61 395.56,318.55 394.42,318.55 393.28,318.57 392.14,318.58 391.00,318.66 389.86,318.88 388.73,318.76 387.59,318.68 386.45,318.62 385.31,318.78 384.17,318.95 383.03,318.93 381.89,318.79 380.75,318.46 379.61,318.43 378.47,318.44 377.33,318.66 376.19,318.78 375.05,318.88 373.91,318.92 372.78,318.91 371.64,318.96 370.50,318.84 369.36,318.56 368.22,318.52 367.08,318.49 365.99,318.23 365.94,318.09 365.89,317.94 364.80,317.46 363.66,317.72 362.52,318.02 361.38,318.30 360.24,318.14 359.10,318.07 357.97,317.96 356.83,318.02 355.69,318.06 354.55,318.09 353.41,317.82 352.27,317.84 351.13,317.74 349.99,318.05 348.85,317.93 347.71,317.88 346.57,317.83 345.43,317.94 344.29,318.04 343.15,317.96 342.02,318.01 340.88,318.19 339.74,318.22 338.60,318.32 337.46,318.05 336.32,318.06 335.18,317.91 334.04,317.90 332.90,317.84 331.76,317.87 330.62,317.96 329.48,318.01 328.34,317.83 327.21,318.02 326.07,318.02 324.93,318.09 323.79,317.90 322.65,318.13 321.51,318.17 320.42,319.75 320.37,319.79 320.32,319.68 319.23,321.03 318.09,320.92 316.95,321.20 315.81,321.33 314.67,321.40 313.53,321.05 312.40,321.08 311.26,320.84 310.12,321.10 308.98,321.09 307.84,321.15 306.70,321.14 305.56,321.23 304.42,321.39 303.28,321.28 302.14,321.30 301.00,321.17 299.86,321.34 298.72,321.17 297.58,321.22 296.45,321.17 295.31,321.32 294.17,321.28 293.03,321.17 291.89,320.90 290.75,320.87 289.61,320.87 288.47,321.04 287.33,321.11 286.19,321.16 285.05,321.24 283.91,321.20 282.77,321.17 281.64,321.14 280.50,321.16 279.36,321.23 278.22,321.34 277.08,321.36 275.94,321.43 274.85,321.38 274.80,321.27 274.75,321.25 273.66,321.09 272.52,321.19 271.38,321.08 270.24,321.18 269.10,321.02 267.96,321.11 266.83,321.11 265.69,321.30 264.55,321.28 263.41,321.23 262.27,321.20 261.13,321.04 259.99,321.09 258.85,320.90 257.71,320.93 256.57,320.70 255.43,320.84 254.29,321.12 253.15,321.55 252.01,321.68 250.88,321.36 249.74,321.16 248.60,321.16 247.46,321.26 246.32,321.25 245.18,321.04 244.04,321.18 242.90,321.09 241.76,321.14 240.62,321.07 239.48,321.18 238.34,321.22 237.20,321.17 236.07,321.24 234.93,321.19 233.79,321.22 232.65,321.30 231.51,321.29 230.37,321.16 229.23,321.01" fill="#2ca02c" fill-opacity="0.20" stroke="none"/>
<line x1="274.80" y1="243.10" x2="274.80" y2="332.60" stroke="#000" stroke-width="0.80" stroke-dasharray="2.2,1.26"/>
<line x1="320.37" y1="243.10" x2="320.37" y2="332.60" stroke="#000" stroke-width="0.80" stroke-dasharray="2.2,1.26"/>
<line x1="365.94" y1="243.10" x2="365.94" y2="332.60" stroke="#000" stroke-width="0.80" stroke-dasharray="2.2,1.26"/>
<polyline points="229.23,298.43 230.37,273.20 231.51,253.68 232.65,250.42 233.79,249.73 234.93,249.04 236.07,248.80 237.20,248.55 238.34,248.31 239.48,248.06 240.62,247.82 241.76,247.71 242.90,247.60 244.04,247.49 245.18,247.39 246.32,247.28 247.46,247.17 248.60,247.17 249.74,247.17 250.88,247.17 252.01,247.17 253.15,247.17 254.29,247.17 255.43,247.17 256.57,247.17 257.71,247.17 258.85,247.17 259.99,247.17 261.13,247.17 262.27,247.17 263.41,247.17 264.55,247.17 265.69,247.17 266.83,247.17 267.96,247.17 269.10,247.17 270.24,247.17 271.38,247.17 272.52,247.17 273.66,247.17 274.75,247.17 274.80,248.73 274.85,250.30 275.94,287.85 277.08,287.99 278.22,288.12 279.36,288.26 280.50,288.26 281.64,288.26 282.77,288.26 283.91,288.26 285.05,288.26 286.19,288.26 287.33,288.26 288.47,288.26 289.61,288.26 290.75,288.26 291.89,288.26 293.03,288.26 294.17,288.26 295.31,288.26 296.45,288.26 297.58,288.26 298.72,288.26 299.86,288.26 301.00,288.26 302.14,288.26 303.28,288.26 304.42,288.26 305.56,288.26 306.70,288.26 307.84,288.26 308.98,288.26 310.12,288.26 311.26,288.26 312.40,288.26 313.53,288.26 314.67,288.26 315.81,288.26 316.95,288.26 318.09,288.26 319.23,288.26 320.32,248.81 320.37,247.17 320.42,247.17 321.51,247.17 322.65,247.17 323.79,247.17 324.93,247.17 326.07,247.17 327.21,247.17 328.34,247.17 329.48,247.17 330.62,247.17 331.76,247.17 332.90,247.17 334.04,247.17 335.18,247.17 336.32,247.17 337.46,247.17 338.60,247.17 339.74,247.17 340.88,247.17 342.02,247.17 343.15,247.17 344.29,247.17 345.43,247.17 346.57,247.17 347.71,247.17 348.85,247.17 349.99,247.17 351.13,247.17 352.27,247.17 353.41,247.17 354.55,247.17 355.69,247.17 356.83,247.17 357.97,247.17 359.10,247.17 360.24,247.17 361.38,247.17 362.52,247.17 363.66,247.17 364.80,247.17 365.89,247.17 365.94,248.14 365.99,249.11 367.08,272.39 368.22,273.61 369.36,274.83 370.50,274.78 371.64,274.72 372.78,274.67 373.91,274.66 375.05,274.65 376.19,274.65 377.33,274.64 378.47,274.63 379.61,274.62 380.75,274.62 381.89,274.61 383.03,274.60 384.17,274.60 385.31,274.59 386.45,274.58 387.59,274.57 388.73,274.57 389.86,274.56 391.00,274.55 392.14,274.54 393.28,274.54 394.42,274.53 395.56,274.52 396.70,274.51 397.84,274.51 398.98,274.50 400.12,274.49 401.26,274.48 402.40,274.48 403.54,274.47 404.67,274.46 405.81,274.45 406.95,274.45 408.09,274.44 409.23,274.43 410.37,274.43" fill="none" stroke="#9467bd" stroke-width="1.20" stroke-linejoin="round"/>
<polyline points="229.23,300.87 230.37,295.99 231.51,292.73 232.65,292.33 233.79,293.00 234.93,293.60 236.07,293.85 237.20,294.10 238.34,294.36 239.48,294.40 240.62,294.44 241.76,294.48 242.90,294.52 244.04,294.56 245.18,294.60 246.32,294.64 247.46,294.68 248.60,294.70 249.74,294.73 250.88,294.75 252.01,294.77 253.15,294.79 254.29,294.81 255.43,294.83 256.57,294.85 257.71,294.87 258.85,294.89 259.99,294.91 261.13,294.93 262.27,294.95 263.41,294.97 264.55,294.99 265.69,295.01 266.83,295.03 267.96,295.05 269.10,295.07 270.24,295.09 271.38,295.11 272.52,295.13 273.66,295.15 274.75,295.17 274.80,293.33 274.85,291.48 275.94,247.17 277.08,247.17 278.22,247.17 279.36,247.17 280.50,247.17 281.64,247.17 282.77,247.17 283.91,247.17 285.05,247.17 286.19,247.17 287.33,247.17 288.47,247.17 289.61,247.17 290.75,247.17 291.89,247.17 293.03,247.17 294.17,247.17 295.31,247.17 296.45,247.17 297.58,247.17 298.72,247.17 299.86,247.17 301.00,247.17 302.14,247.17 303.28,247.17 304.42,247.17 305.56,247.17 306.70,247.17 307.84,247.17 308.98,247.17 310.12,247.17 311.26,247.17 312.40,247.17 313.53,247.17 314.67,247.17 315.81,247.17 316.95,247.17 318.09,247.17 319.23,247.17 320.32,247.17 320.37,248.39 320.42,249.61 321.51,278.90 322.65,278.90 323.79,278.90 324.93,278.90 326.07,278.90 327.21,278.90 328.34,278.90 329.48,278.90 330.62,278.90 331.76,278.90 332.90,278.90 334.04,278.90 335.18,278.90 336.32,278.90 337.46,278.90 338.60,278.90 339.74,278.90 340.88,278.90 342.02,278.90 343.15,278.90 344.29,278.90 345.43,278.90 346.57,278.90 347.71,278.90 348.85,278.90 349.99,278.90 351.13,278.90 352.27,278.90 353.41,278.90 354.55,278.90 355.69,278.90 356.83,278.90 357.97,278.90 359.10,278.90 360.24,278.90 361.38,278.90 362.52,278.90 363.66,278.90 364.80,278.90 365.89,248.44 365.94,247.17 365.99,247.17 367.08,247.17 368.22,247.17 369.36,247.17 370.50,247.17 371.64,247.17 372.78,247.17 373.91,247.17 375.05,247.17 376.19,247.17 377.33,247.17 378.47,247.17 379.61,247.17 380.75,247.17 381.89,247.17 383.03,247.17 384.17,247.17 385.31,247.17 386.45,247.17 387.59,247.17 388.73,247.17 389.86,247.17 391.00,247.17 392.14,247.17 393.28,247.17 394.42,247.17 395.56,247.17 396.70,247.17 397.84,247.17 398.98,247.17 400.12,247.17 401.26,247.17 402.40,247.17 403.54,247.17 404.67,247.17 405.81,247.17 406.95,247.17 408.09,247.17 409.23,247.17 410.37,247.17" fill="none" stroke="#ff7f0e" stroke-width="1.20" stroke-linejoin="round"/>
<polyline points="229.23,308.19 230.37,306.73 231.51,305.31 232.65,304.90 233.79,304.51 234.93,304.47 236.07,304.43 237.20,304.40 238.34,304.34 239.48,304.30 240.62,304.25 241.76,304.20 242.90,304.12 244.04,304.10 245.18,304.06 246.32,304.01 247.46,303.91 248.60,303.88 249.74,303.84 250.88,303.85 252.01,303.79 253.15,303.77 254.29,303.72 255.43,303.65 256.57,303.58 257.71,303.53 258.85,303.50 259.99,303.47 261.13,303.43 262.27,303.37 263.41,303.34 264.55,303.29 265.69,303.26 266.83,303.21 267.96,303.16 269.10,303.11 270.24,303.05 271.38,303.01 272.52,302.94 273.66,302.93 274.75,302.89 274.80,302.69 274.85,302.46 275.94,297.20 277.08,297.14 278.22,297.10 279.36,297.06 280.50,297.06 281.64,297.05 282.77,297.00 283.91,296.96 285.05,296.94 286.19,296.95 287.33,296.93 288.47,296.86 289.61,296.81 290.75,296.74 291.89,296.71 293.03,296.68 294.17,296.69 295.31,296.65 296.45,296.62 297.58,296.60 298.72,296.57 299.86,296.54 301.00,296.47 302.14,296.45 303.28,296.46 304.42,296.44 305.56,296.44 306.70,296.33 307.84,296.28 308.98,296.23 310.12,296.24 311.26,296.26 312.40,296.21 313.53,296.16 314.67,296.11 315.81,296.10 316.95,296.03 318.09,295.98 319.23,295.93 320.32,295.96 320.37,295.95 320.42,295.76 321.51,291.49 322.65,291.49 323.79,291.50 324.93,291.47 326.07,291.43 327.21,291.41 328.34,291.37 329.48,291.38 330.62,291.36 331.76,291.33 332.90,291.30 334.04,291.28 335.18,291.26 336.32,291.22 337.46,291.18 338.60,291.17 339.74,291.18 340.88,291.16 342.02,291.14 343.15,291.07 344.29,291.07 345.43,291.02 346.57,291.03 347.71,290.99 348.85,291.00 349.99,290.97 351.13,290.95 352.27,290.93 353.41,290.94 354.55,290.95 355.69,290.92 356.83,290.82 357.97,290.81 359.10,290.79 360.24,290.78 361.38,290.73 362.52,290.71 363.66,290.74 364.80,290.76 365.89,290.76 365.94,290.74 365.99,290.67 367.08,288.73 368.22,288.72 369.36,288.69 370.50,288.68 371.64,288.69 372.78,288.70 373.91,288.67 375.05,288.64 376.19,288.59 377.33,288.59 378.47,288.61 379.61,288.62 380.75,288.60 381.89,288.59 383.03,288.59 384.17,288.63 385.31,288.68 386.45,288.69 387.59,288.68 388.73,288.65 389.86,288.68 391.00,288.70 392.14,288.68 393.28,288.65 394.42,288.65 395.56,288.67 396.70,288.67 397.84,288.64 398.98,288.61 400.12,288.62 401.26,288.65 402.40,288.68 403.54,288.69 404.67,288.66 405.81,288.66 406.95,288.65 408.09,288.66 409.23,288.66 410.37,288.67" fill="none" stroke="#2ca02c" stroke-width="1.20" stroke-linejoin="round"/>
<polyline points="229.23,320.36 230.37,328.78 231.51,331.07 232.65,331.61 233.79,332.14 234.93,332.75 236.07,333.37 237.20,333.37 238.34,333.37 239.48,333.37 240.62,333.37 241.76,333.37 242.90,333.37 244.04,333.37 245.18,333.37 246.32,333.37 247.46,333.37 248.60,333.37 249.74,333.37 250.88,333.37 252.01,333.37 253.15,333.37 254.29,333.37 255.43,333.37 256.57,333.37 257.71,333.37 258.85,333.37 259.99,333.37 261.13,333.37 262.27,333.37 263.41,333.37 264.55,333.37 265.69,333.37 266.83,333.37 267.96,333.37 269.10,333.37 270.24,333.37 271.38,333.37 272.52,333.37 273.66,333.37 274.75,333.37 274.80,333.37 274.85,333.37 275.94,333.37 277.08,333.37 278.22,333.37 279.36,333.37 280.50,333.37 281.64,333.37 282.77,333.37 283.91,333.37 285.05,333.37 286.19,333.37 287.33,333.37 288.47,333.37 289.61,333.37 290.75,333.37 291.89,333.37 293.03,333.37 294.17,333.37 295.31,333.37 296.45,333.37 297.58,333.37 298.72,333.37 299.86,333.37 301.00,333.37 302.14,333.37 303.28,333.37 304.42,333.37 305.56,333.37 306.70,333.37 307.84,333.37 308.98,333.37 310.12,333.37 311.26,333.37 312.40,333.37 313.53,333.37 314.67,333.37 315.81,333.37 316.95,333.37 318.09,333.37 319.23,333.37 320.32,333.37 320.37,333.37 320.42,333.37 321.51,333.37 322.65,333.37 323.79,333.37 324.93,333.37 326.07,333.37 327.21,333.37 328.34,333.37 329.48,333.37 330.62,333.37 331.76,333.37 332.90,333.37 334.04,333.37 335.18,333.37 336.32,333.37 337.46,333.37 338.60,333.37 339.74,333.37 340.88,333.37 342.02,333.37 343.15,333.37 344.29,333.37 345.43,333.37 346.57,333.37 347.71,333.37 348.85,333.37 349.99,333.37 351.13,333.37 352.27,333.37 353.41,333.37 354.55,333.37 355.69,333.37 356.83,333.37 357.97,333.37 359.10,333.37 360.24,333.37 361.38,333.37 362.52,333.37 363.66,333.37 364.80,333.37 365.89,333.37 365.94,333.37 365.99,333.37 367.08,333.37 368.22,333.37 369.36,333.37 370.50,333.37 371.64,333.37 372.78,333.37 373.91,333.37 375.05,333.37 376.19,333.37 377.33,333.37 378.47,333.37 379.61,333.37 380.75,333.37 381.89,333.37 383.03,333.37 384.17,333.37 385.31,333.37 386.45,333.37 387.59,333.37 388.73,333.37 389.86,333.37 391.00,333.37 392.14,333.37 393.28,333.37 394.42,333.37 395.56,333.37 396.70,333.37 397.84,333.37 398.98,333.37 400.12,333.37 401.26,333.37 402.40,333.37 403.54,333.37 404.67,333.37 405.81,333.37 406.95,333.37 408.09,333.37 409.23,333.37 410.37,333.37" fill="none" stroke="#7f7f7f" stroke-width="1.20" stroke-linejoin="round"/>
</g>
<g clip-path="url(#c03)">
<polygon points="229.23,400.52 230.37,372.04 231.51,363.90 232.65,360.65 233.79,357.40 234.93,356.99 236.07,356.58 237.20,356.17 238.34,355.77 239.48,355.77 240.62,355.77 241.76,355.77 242.90,355.77 244.04,355.77 245.18,355.77 246.32,355.77 247.46,355.77 248.60,355.77 249.74,355.77 250.88,355.77 252.01,355.77 253.15,355.77 254.29,355.77 255.43,355.77 256.57,355.77 257.71,355.77 258.85,355.77 259.99,355.77 261.13,355.77 262.27,355.77 263.41,355.77 264.55,355.77 265.69,355.77 266.83,355.77 267.96,355.77 269.10,355.77 270.24,355.77 271.38,355.77 272.52,355.77 273.66,355.77 274.75,355.77 274.80,355.77 274.85,355.77 275.94,355.77 277.08,355.77 278.22,355.77 279.36,355.77 280.50,355.77 281.64,355.77 282.77,355.77 283.91,355.77 285.05,355.77 286.19,355.77 287.33,355.77 288.47,355.77 289.61,355.77 290.75,355.77 291.89,355.77 293.03,355.77 294.17,355.77 295.31,355.77 296.45,355.77 297.58,355.77 298.72,355.77 299.86,355.77 301.00,355.77 302.14,355.77 303.28,355.77 304.42,355.77 305.56,355.77 306.70,355.77 307.84,355.77 308.98,355.77 310.12,355.77 311.26,355.77 312.40,355.77 313.53,355.77 314.67,355.77 315.81,355.77 316.95,355.77 318.09,355.77 319.23,355.77 320.32,355.77 320.37,355.77 320.42,355.77 321.51,355.77 322.65,355.77 323.79,355.77 324.93,355.77 326.07,355.77 327.21,355.77 328.34,355.77 329.48,355.77 330.62,355.77 331.76,355.77 332.90,355.77 334.04,355.77 335.18,355.77 336.32,355.77 337.46,355.77 338.60,355.77 339.74,355.77 340.88,355.77 342.02,355.77 343.15,355.77 344.29,355.77 345.43,355.77 346.57,355.77 347.71,355.77 348.85,355.77 349.99,355.77 351.13,355.77 352.27,355.77 353.41,355.77 354.55,355.77 355.69,355.77 356.83,355.77 357.97,355.77 359.10,355.77 360.24,355.77 361.38,355.77 362.52,355.77 363.66,355.77 364.80,355.77 365.89,355.77 365.94,355.77 365.99,355.77 367.08,355.77 368.22,355.77 369.36,355.77 370.50,355.77 371.64,355.77 372.78,355.77 373.91,355.77 375.05,355.77 376.19,355.77 377.33,355.77 378.47,355.77 379.61,355.77 380.75,355.77 381.89,355.77 383.03,355.77 384.17,355.77 385.31,355.77 386.45,355.77 387.59,355.77 388.73,355.77 389.86,355.77 391.00,355.77 392.14,355.77 393.28,355.77 394.42,355.77 395.56,355.77 396.70,355.77 397.84,355.77 398.98,355.77 400.12,355.77 401.26,355.77 402.40,355.77 403.54,355.77 404.67,355.77 405.81,355.77 406.95,355.77 408.09,355.77 409.23,355.77 410.37,355.77 410.37,355.77 409.23,355.77 408.09,355.77 406.95,355.77 405.81,355.77 404.67,355.77 403.54,355.77 402.40,355.77 401.26,355.77 400.12,355.77 398.98,355.77 397.84,355.77 396.70,355.77 395.56,355.77 394.42,355.77 393.28,355.77 392.14,355.77 391.00,355.77 389.86,355.77 388.73,355.77 387.59,355.77 386.45,355.77 385.31,355.77 384.17,355.77 383.03,355.77 381.89,355.77 380.75,355.77 379.61,355.77 378.47,355.77 377.33,355.77 376.19,355.77 375.05,355.77 373.91,355.77 372.78,355.77 371.64,355.77 370.50,355.77 369.36,355.77 368.22,355.77 367.08,355.77 365.99,355.77 365.94,355.77 365.89,355.77 364.80,355.77 363.66,355.77 362.52,355.77 361.38,355.77 360.24,355.77 359.10,355.77 357.97,355.77 356.83,355.77 355.69,355.77 354.55,355.77 353.41,355.77 352.27,355.77 351.13,355.77 349.99,355.77 348.85,355.77 347.71,355.77 346.57,355.77 345.43,355.77 344.29,355.77 343.15,355.77 342.02,355.77 340.88,355.77 339.74,355.77 338.60,355.77 337.46,355.77 336.32,355.77 335.18,355.77 334.04,355.77 332.90,355.77 331.76,355.77 330.62,355.77 329.48,355.77 328.34,355.77 327.21,355.77 326.07,355.77 324.93,355.77 323.79,355.77 322.65,355.77 321.51,355.77 320.42,355.77 320.37,355.77 320.32,355.77 319.23,355.77 318.09,355.77 316.95,355.77 315.81,355.77 314.67,355.77 313.53,355.77 312.40,355.77 311.26,355.77 310.12,355.77 308.98,355.77 307.84,355.77 306.70,355.77 305.56,355.77 304.42,355.77 303.28,355.77 302.14,355.77 301.00,355.77 299.86,355.77 298.72,355.77 297.58,355.77 296.45,355.77 295.31,355.77 294.17,355.77 293.03,355.77 291.89,355.77 290.75,355.77 289.61,355.77 288.47,355.77 287.33,355.77 286.19,355.77 285.05,355.77 283.91,355.77 282.77,355.77 281.64,355.77 280.50,355.77 279.36,355.77 278.22,355.77 277.08,355.77 275.94,355.77 274.85,355.77 274.80,355.77 274.75,355.77 273.66,355.77 272.52,355.77 271.38,355.77 270.24,355.77 269.10,355.77 267.96,355.77 266.83,355.77 265.69,355.77 264.55,355.77 263.41,355.77 262.27,355.77 261.13,355.77 259.99,355.77 258.85,355.77 257.71,355.77 256.57,355.77 255.43,356.18 254.29,356.56 253.15,356.95 252.01,357.39 250.88,357.83 249.74,358.01 248.60,358.49 247.46,359.04 246.32,359.70 245.18,360.28 244.04,360.80 242.90,361.56 241.76,362.63 240.62,363.80 239.48,364.55 238.34,365.41 237.20,366.80 236.07,368.52 234.93,370.10 233.79,371.81 232.65,378.38 231.51,384.95 230.37,396.45 229.23,420.86" fill="#ff7f0e" fill-opacity="0.20" stroke="none"/>
<polygon points="229.23,386.69 230.37,384.66 231.51,382.63 232.65,382.63 233.79,382.70 234.93,382.71 236.07,382.77 237.20,382.69 238.34,382.65 239.48,382.59 240.62,382.55 241.76,382.48 242.90,382.44 244.04,382.47 245.18,382.47 246.32,382.49 247.46,382.37 248.60,382.35 249.74,382.33 250.88,382.41 252.01,382.48 253.15,382.46 254.29,382.50 255.43,382.43 256.57,382.51 257.71,382.50 258.85,382.44 259.99,382.26 261.13,382.13 262.27,382.28 263.41,382.42 264.55,382.54 265.69,382.52 266.83,382.43 267.96,382.37 269.10,382.28 270.24,382.30 271.38,382.31 272.52,382.20 273.66,382.13 274.75,382.13 274.80,382.17 274.85,382.23 275.94,382.19 277.08,382.18 278.22,382.18 279.36,382.18 280.50,382.26 281.64,382.13 282.77,382.02 283.91,381.99 285.05,381.98 286.19,382.14 287.33,382.16 288.47,382.18 289.61,382.13 290.75,382.10 291.89,382.14 293.03,382.10 294.17,382.10 295.31,382.18 296.45,382.23 297.58,382.27 298.72,382.17 299.86,382.23 301.00,382.23 302.14,382.20 303.28,382.09 304.42,381.93 305.56,381.98 306.70,382.13 307.84,382.20 308.98,382.18 310.12,382.06 311.26,382.18 312.40,382.19 313.53,382.14 314.67,382.06 315.81,382.04 316.95,382.03 318.09,382.04 319.23,382.09 320.32,382.10 320.37,382.09 320.42,381.94 321.51,381.95 322.65,382.02 323.79,382.06 324.93,382.02 326.07,381.99 327.21,382.10 328.34,382.06 329.48,382.11 330.62,382.08 331.76,382.14 332.90,382.11 334.04,382.08 335.18,382.07 336.32,382.03 337.46,382.08 338.60,382.13 339.74,382.11 340.88,381.99 342.02,382.01 343.15,381.93 344.29,382.02 345.43,381.90 346.57,381.86 347.71,381.76 348.85,381.83 349.99,381.85 351.13,381.85 352.27,381.82 353.41,381.90 354.55,381.98 355.69,382.00 356.83,381.88 357.97,381.83 359.10,381.80 360.24,381.93 361.38,381.94 362.52,381.97 363.66,381.98 364.80,381.99 365.89,381.99 365.94,381.95 365.99,381.96 367.08,381.97 368.22,381.95 369.36,381.91 370.50,382.01 371.64,382.04 372.78,382.08 373.91,381.95 375.05,381.87 376.19,381.85 377.33,381.86 378.47,381.95 379.61,381.92 380.75,381.98 381.89,381.95 383.03,382.01 384.17,381.95 385.31,381.94 386.45,381.97 387.59,382.00 388.73,381.99 389.86,381.97 391.00,381.84 392.14,381.82 393.28,381.82 394.42,381.87 395.56,381.89 396.70,381.82 397.84,381.77 398.98,381.71 400.12,381.76 401.26,381.81 402.40,381.87 403.54,381.77 404.67,381.79 405.81,381.85 406.95,382.06 408.09,382.09 409.23,382.05 410.37,381.88 410.37,423.43 409.23,423.45 408.09,423.45 406.95,423.45 405.81,423.48 404.67,423.48 403.54,423.55 402.40,423.47 401.26,423.30 400.12,423.22 398.98,423.17 397.84,423.44 396.70,423.44 395.56,423.58 394.42,423.45 393.28,423.40 392.14,423.40 391.00,423.30 389.86,423.51 388.73,423.61 387.59,423.91 386.45,423.86 385.31,423.86 384.17,423.53 383.03,423.40 381.89,423.21 380.75,423.38 379.61,423.40 378.47,423.34 377.33,423.35 376.19,423.47 375.05,423.67 373.91,423.74 372.78,423.69 371.64,423.85 370.50,423.69 369.36,423.71 368.22,423.57 367.08,423.65 365.99,423.76 365.94,423.94 365.89,423.96 364.80,423.88 363.66,423.79 362.52,423.90 361.38,423.85 360.24,423.90 359.10,423.93 357.97,424.32 356.83,424.26 355.69,424.30 354.55,424.11 353.41,424.29 352.27,424.37 351.13,424.34 349.99,424.25 348.85,424.12 347.71,424.13 346.57,424.07 345.43,424.24 344.29,424.28 343.15,424.34 342.02,424.28 340.88,424.38 339.74,424.50 338.60,424.71 337.46,424.73 336.32,424.77 335.18,424.49 334.04,424.57 332.90,424.61 331.76,424.69 330.62,424.64 329.48,424.59 328.34,424.67 327.21,424.81 326.07,424.93 324.93,424.88 323.79,424.72 322.65,424.85 321.51,425.01 320.42,425.16 320.37,425.05 320.32,425.07 319.23,425.12 318.09,425.23 316.95,425.28 315.81,425.24 314.67,425.15 313.53,425.13 312.40,425.24 311.26,425.32 310.12,425.26 308.98,425.13 307.84,425.24 306.70,425.58 305.56,425.60 304.42,425.62 303.28,425.48 302.14,425.50 301.00,425.47 299.86,425.58 298.72,425.75 297.58,425.99 296.45,426.05 295.31,426.05 294.17,425.99 293.03,425.93 291.89,425.80 290.75,425.79 289.61,425.91 288.47,426.16 287.33,426.18 286.19,426.28 285.05,426.51 283.91,426.63 282.77,426.53 281.64,426.28 280.50,426.10 279.36,426.18 278.22,426.20 277.08,426.44 275.94,426.46 274.85,426.67 274.80,426.61 274.75,426.66 273.66,426.69 272.52,426.83 271.38,426.84 270.24,426.83 269.10,426.74 267.96,426.82 266.83,426.72 265.69,426.72 264.55,426.78 263.41,426.91 262.27,426.91 261.13,426.75 259.99,426.70 258.85,426.81 257.71,426.94 256.57,426.94 255.43,426.80 254.29,426.71 253.15,426.93 252.01,427.19 250.88,427.30 249.74,427.16 248.60,426.96 247.46,426.92 246.32,427.02 245.18,427.05 244.04,427.21 242.90,427.22 241.76,427.31 240.62,427.16 239.48,427.23 238.34,427.22 237.20,427.45 236.07,427.42 234.93,427.62 233.79,427.53 232.65,427.52 231.51,427.35 230.37,427.22 229.23,427.24" fill="#2ca02c" fill-opacity="0.20" stroke="none"/>
<polyline points="229.23,407.87 230.37,378.59 231.51,369.82 232.65,361.19 233.79,357.99 234.93,356.60 236.07,356.52 237.20,356.48 238.34,356.39 239.48,356.34 240.62,356.27 241.76,356.23 242.90,356.17 244.04,356.07 245.18,355.97 246.32,355.87 247.46,355.77 248.60,355.77 249.74,355.77 250.88,355.77 252.01,355.77 253.15,355.77 254.29,355.77 255.43,355.77 256.57,355.77 257.71,355.77 258.85,355.77 259.99,355.77 261.13,355.77 262.27,355.77 263.41,355.77 264.55,355.77 265.69,355.77 266.83,355.77 267.96,355.77 269.10,355.77 270.24,355.77 271.38,355.77 272.52,355.77 273.66,355.77 274.75,355.77 274.80,355.77 274.85,355.77 275.94,355.77 277.08,355.77 278.22,355.77 279.36,355.77 280.50,355.77 281.64,355.77 282.77,355.77 283.91,355.77 285.05,355.77 286.19,355.77 287.33,355.77 288.47,355.77 289.61,355.77 290.75,355.77 291.89,355.77 293.03,355.77 294.17,355.77 295.31,355.77 296.45,355.77 297.58,355.77 298.72,355.77 299.86,355.77 301.00,355.77 302.14,355.77 303.28,355.77 304.42,355.77 305.56,355.77 306.70,355.77 307.84,355.77 308.98,355.77 310.12,355.77 311.26,355.77 312.40,355.77 313.53,355.77 314.67,355.77 315.81,355.77 316.95,355.77 318.09,355.77 319.23,355.77 320.32,355.77 320.37,355.77 320.42,355.77 321.51,355.77 322.65,355.77 323.79,355.77 324.93,355.77 326.07,355.77 327.21,355.77 328.34,355.77 329.48,355.77 330.62,355.77 331.76,355.77 332.90,355.77 334.04,355.77 335.18,355.77 336.32,355.77 337.46,355.77 338.60,355.77 339.74,355.77 340.88,355.77 342.02,355.77 343.15,355.77 344.29,355.77 345.43,355.77 346.57,355.77 347.71,355.77 348.85,355.77 349.99,355.77 351.13,355.77 352.27,355.77 353.41,355.77 354.55,355.77 355.69,355.77 356.83,355.77 357.97,355.77 359.10,355.77 360.24,355.77 361.38,355.77 362.52,355.77 363.66,355.77 364.80,355.77 365.89,355.77 365.94,355.77 365.99,355.77 367.08,355.77 368.22,355.77 369.36,355.77 370.50,355.77 371.64,355.77 372.78,355.77 373.91,355.77 375.05,355.77 376.19,355.77 377.33,355.77 378.47,355.77 379.61,355.77 380.75,355.77 381.89,355.77 383.03,355.77 384.17,355.77 385.31,355.77 386.45,355.77 387.59,355.77 388.73,355.77 389.86,355.77 391.00,355.77 392.14,355.77 393.28,355.77 394.42,355.77 395.56,355.77 396.70,355.77 397.84,355.77 398.98,355.77 400.12,355.77 401.26,355.77 402.40,355.77 403.54,355.77 404.67,355.77 405.81,355.77 406.95,355.77 408.09,355.77 409.23,355.77 410.37,355.77" fill="none" stroke="#9467bd" stroke-width="1.20" stroke-linejoin="round"/>
<polyline points="229.23,410.28 230.37,381.80 231.51,371.13 232.65,365.60 233.79,362.68 234.93,361.21 236.07,359.96 237.20,359.15 238.34,358.25 239.48,357.70 240.62,357.52 241.76,357.31 242.90,357.17 244.04,357.01 245.18,356.82 246.32,356.64 247.46,356.76 248.60,356.88 249.74,356.95 250.88,356.75 252.01,356.62 253.15,356.45 254.29,356.26 255.43,356.05 256.57,355.86 257.71,355.77 258.85,355.77 259.99,355.77 261.13,355.77 262.27,355.77 263.41,355.77 264.55,355.77 265.69,355.77 266.83,355.77 267.96,355.77 269.10,355.77 270.24,355.77 271.38,355.77 272.52,355.77 273.66,355.77 274.75,355.77 274.80,355.77 274.85,355.77 275.94,355.77 277.08,355.77 278.22,355.77 279.36,355.77 280.50,355.77 281.64,355.77 282.77,355.77 283.91,355.77 285.05,355.77 286.19,355.77 287.33,355.77 288.47,355.77 289.61,355.77 290.75,355.77 291.89,355.77 293.03,355.77 294.17,355.77 295.31,355.77 296.45,355.77 297.58,355.77 298.72,355.77 299.86,355.77 301.00,355.77 302.14,355.77 303.28,355.77 304.42,355.77 305.56,355.77 306.70,355.77 307.84,355.77 308.98,355.77 310.12,355.77 311.26,355.77 312.40,355.77 313.53,355.77 314.67,355.77 315.81,355.77 316.95,355.77 318.09,355.77 319.23,355.77 320.32,355.77 320.37,355.77 320.42,355.77 321.51,355.77 322.65,355.77 323.79,355.77 324.93,355.77 326.07,355.77 327.21,355.77 328.34,355.77 329.48,355.77 330.62,355.77 331.76,355.77 332.90,355.77 334.04,355.77 335.18,355.77 336.32,355.77 337.46,355.77 338.60,355.77 339.74,355.77 340.88,355.77 342.02,355.77 343.15,355.77 344.29,355.77 345.43,355.77 346.57,355.77 347.71,355.77 348.85,355.77 349.99,355.77 351.13,355.77 352.27,355.77 353.41,355.77 354.55,355.77 355.69,355.77 356.83,355.77 357.97,355.77 359.10,355.77 360.24,355.77 361.38,355.77 362.52,355.77 363.66,355.77 364.80,355.77 365.89,355.77 365.94,355.77 365.99,355.77 367.08,355.77 368.22,355.77 369.36,355.77 370.50,355.77 371.64,355.77 372.78,355.77 373.91,355.77 375.05,355.77 376.19,355.77 377.33,355.77 378.47,355.77 379.61,355.77 380.75,355.77 381.89,355.77 383.03,355.77 384.17,355.77 385.31,355.77 386.45,355.77 387.59,355.77 388.73,355.77 389.86,355.77 391.00,355.77 392.14,355.77 393.28,355.77 394.42,355.77 395.56,355.77 396.70,355.77 397.84,355.77 398.98,355.77 400.12,355.77 401.26,355.77 402.40,355.77 403.54,355.77 404.67,355.77 405.81,355.77 406.95,355.77 408.09,355.77 409.23,355.77 410.37,355.77" fill="none" stroke="#ff7f0e" stroke-width="1.20" stroke-linejoin="round"/>
<polyline points="229.23,417.61 230.37,410.28 231.51,408.61 232.65,406.88 233.79,406.74 234.93,406.55 236.07,406.40 237.20,406.23 238.34,406.02 239.48,406.01 240.62,405.97 241.76,405.97 242.90,405.96 244.04,405.93 245.18,405.93 246.32,405.87 247.46,405.89 248.60,405.88 249.74,405.86 250.88,405.82 252.01,405.78 253.15,405.77 254.29,405.74 255.43,405.75 256.57,405.77 257.71,405.79 258.85,405.78 259.99,405.76 261.13,405.72 262.27,405.68 263.41,405.62 264.55,405.59 265.69,405.57 266.83,405.55 267.96,405.53 269.10,405.52 270.24,405.51 271.38,405.49 272.52,405.46 273.66,405.44 274.75,405.42 274.80,405.39 274.85,405.37 275.94,405.36 277.08,405.37 278.22,405.36 279.36,405.29 280.50,405.31 281.64,405.28 282.77,405.30 283.91,405.21 285.05,405.22 286.19,405.17 287.33,405.14 288.47,405.11 289.61,405.12 290.75,405.13 291.89,405.10 293.03,405.09 294.17,405.04 295.31,405.02 296.45,404.99 297.58,404.98 298.72,404.95 299.86,404.93 301.00,404.94 302.14,404.92 303.28,404.92 304.42,404.89 305.56,404.89 306.70,404.84 307.84,404.78 308.98,404.79 310.12,404.75 311.26,404.73 312.40,404.69 313.53,404.69 314.67,404.71 315.81,404.69 316.95,404.69 318.09,404.69 319.23,404.66 320.32,404.61 320.37,404.56 320.42,404.57 321.51,404.58 322.65,404.58 323.79,404.54 324.93,404.47 326.07,404.45 327.21,404.44 328.34,404.43 329.48,404.38 330.62,404.32 331.76,404.30 332.90,404.27 334.04,404.27 335.18,404.23 336.32,404.22 337.46,404.19 338.60,404.17 339.74,404.14 340.88,404.09 342.02,404.05 343.15,404.03 344.29,404.02 345.43,404.00 346.57,403.91 347.71,403.88 348.85,403.81 349.99,403.84 351.13,403.78 352.27,403.76 353.41,403.71 354.55,403.72 355.69,403.73 356.83,403.69 357.97,403.67 359.10,403.64 360.24,403.61 361.38,403.53 362.52,403.48 363.66,403.48 364.80,403.49 365.89,403.46 365.94,403.46 365.99,403.47 367.08,403.48 368.22,403.46 369.36,403.44 370.50,403.43 371.64,403.42 372.78,403.36 373.91,403.33 375.05,403.32 376.19,403.30 377.33,403.31 378.47,403.31 379.61,403.31 380.75,403.27 381.89,403.23 383.03,403.28 384.17,403.27 385.31,403.25 386.45,403.20 387.59,403.19 388.73,403.16 389.86,403.15 391.00,403.16 392.14,403.20 393.28,403.19 394.42,403.17 395.56,403.14 396.70,403.15 397.84,403.12 398.98,403.09 400.12,403.05 401.26,403.06 402.40,403.04 403.54,403.03 404.67,403.04 405.81,403.03 406.95,403.06 408.09,403.03 409.23,403.01 410.37,402.96" fill="none" stroke="#2ca02c" stroke-width="1.20" stroke-linejoin="round"/>
<polyline points="229.23,428.96 230.37,437.37 231.51,439.67 232.65,440.21 233.79,440.74 234.93,441.35 236.07,441.96 237.20,441.96 238.34,441.96 239.48,441.96 240.62,441.96 241.76,441.96 242.90,441.96 244.04,441.96 245.18,441.96 246.32,441.96 247.46,441.96 248.60,441.96 249.74,441.96 250.88,441.96 252.01,441.96 253.15,441.96 254.29,441.96 255.43,441.96 256.57,441.96 257.71,441.96 258.85,441.96 259.99,441.96 261.13,441.96 262.27,441.96 263.41,441.96 264.55,441.96 265.69,441.96 266.83,441.96 267.96,441.96 269.10,441.96 270.24,441.96 271.38,441.96 272.52,441.96 273.66,441.96 274.75,441.96 274.80,441.96 274.85,441.96 275.94,441.96 277.08,441.96 278.22,441.96 279.36,441.96 280.50,441.96 281.64,441.96 282.77,441.96 283.91,441.96 285.05,441.96 286.19,441.96 287.33,441.96 288.47,441.96 289.61,441.96 290.75,441.96 291.89,441.96 293.03,441.96 294.17,441.96 295.31,441.96 296.45,441.96 297.58,441.96 298.72,441.96 299.86,441.96 301.00,441.96 302.14,441.96 303.28,441.96 304.42,441.96 305.56,441.96 306.70,441.96 307.84,441.96 308.98,441.96 310.12,441.96 311.26,441.96 312.40,441.96 313.53,441.96 314.67,441.96 315.81,441.96 316.95,441.96 318.09,441.96 319.23,441.96 320.32,441.96 320.37,441.96 320.42,441.96 321.51,441.96 322.65,441.96 323.79,441.96 324.93,441.96 326.07,441.96 327.21,441.96 328.34,441.96 329.48,441.96 330.62,441.96 331.76,441.96 332.90,441.96 334.04,441.96 335.18,441.96 336.32,441.96 337.46,441.96 338.60,441.96 339.74,441.96 340.88,441.96 342.02,441.96 343.15,441.96 344.29,441.96 345.43,441.96 346.57,441.96 347.71,441.96 348.85,441.96 349.99,441.96 351.13,441.96 352.27,441.96 353.41,441.96 354.55,441.96 355.69,441.96 356.83,441.96 357.97,441.96 359.10,441.96 360.24,441.96 361.38,441.96 362.52,441.96 363.66,441.96 364.80,441.96 365.89,441.96 365.94,441.96 365.99,441.96 367.08,441.96 368.22,441.96 369.36,441.96 370.50,441.96 371.64,441.96 372.78,441.96 373.91,441.96 375.05,441.96 376.19,441.96 377.33,441.96 378.47,441.96 379.61,441.96 380.75,441.96 381.89,441.96 383.03,441.96 384.17,441.96 385.31,441.96 386.45,441.96 387.59,441.96 388.73,441.96 389.86,441.96 391.00,441.96 392.14,441.96 393.28,441.96 394.42,441.96 395.56,441.96 396.70,441.96 397.84,441.96 398.98,441.96 400.12,441.96 401.26,441.96 402.40,441.96 403.54,441.96 404.67,441.96 405.81,441.96 406.95,441.96 408.09,441.96 409.23,441.96 410.37,441.96" fill="none" stroke="#7f7f7f" stroke-width="1.20" stroke-linejoin="round"/>
</g>
<g clip-path="url(#c10)">
<polygon points="487.40,102.84 488.54,90.66 489.68,79.58 490.82,66.56 491.96,54.36 493.11,51.11 494.25,48.23 495.39,46.63 496.53,44.96 497.67,43.76 498.81,42.65 499.95,41.65 501.09,40.99 502.24,40.26 503.38,40.03 504.52,38.90 505.66,38.22 506.80,37.24 507.94,36.57 509.08,35.54 510.22,35.11 511.37,34.47 512.51,34.35 513.65,33.92 514.79,33.95 515.93,33.34 517.07,32.61 518.21,32.17 519.36,31.78 520.50,31.49 521.64,31.29 522.78,31.35 523.92,31.49 525.06,31.18 526.20,30.87 527.34,30.35 528.49,30.02 529.63,29.97 530.77,29.97 531.91,30.05 533.00,30.26 533.05,60.21 533.10,90.25 534.19,90.81 535.33,91.67 536.47,92.61 537.62,93.66 538.76,94.28 539.90,94.94 541.04,95.04 542.18,95.18 543.32,95.57 544.46,95.76 545.60,96.32 546.75,96.59 547.89,97.20 549.03,97.29 550.17,97.60 551.31,97.48 552.45,97.75 553.59,97.88 554.73,98.58 555.88,98.93 557.02,99.36 558.16,99.26 559.30,99.50 560.44,99.55 561.58,99.76 562.72,100.01 563.86,100.36 565.00,100.95 566.15,101.24 567.29,101.47 568.43,101.48 569.57,101.52 570.71,101.50 571.85,101.64 572.99,102.04 574.13,102.41 575.28,102.78 576.42,103.29 577.56,103.94 578.65,97.52 578.70,90.23 578.75,82.81 579.84,46.41 580.98,31.55 582.12,29.99 583.26,29.97 584.41,29.97 585.55,30.32 586.69,30.35 587.83,30.01 588.97,30.07 590.11,29.99 591.25,30.26 592.39,30.12 593.54,30.14 594.68,30.17 595.82,30.42 596.96,30.43 598.10,30.18 599.24,30.06 600.38,30.03 601.52,30.13 602.67,29.97 603.81,29.97 604.95,29.97 606.09,29.97 607.23,29.97 608.37,29.97 609.51,29.97 610.65,30.01 611.80,30.09 612.94,30.17 614.08,30.11 615.22,30.07 616.36,30.03 617.50,29.97 618.64,29.97 619.78,29.97 620.93,29.97 622.07,29.97 623.21,29.97 624.30,29.97 624.35,48.61 624.40,75.54 625.49,76.61 626.63,76.56 627.77,76.91 628.91,77.23 630.06,77.64 631.20,77.63 632.34,77.74 633.48,77.54 634.62,77.62 635.76,77.70 636.90,77.84 638.04,78.00 639.19,77.92 640.33,78.22 641.47,78.45 642.61,78.70 643.75,78.66 644.89,78.80 646.03,78.56 647.17,78.62 648.32,78.39 649.46,78.19 650.60,78.04 651.74,77.75 652.88,77.78 654.02,77.29 655.16,77.57 656.30,77.72 657.45,77.85 658.59,77.87 659.73,77.90 660.87,78.35 662.01,78.43 663.15,78.34 664.29,78.19 665.43,77.83 666.58,77.96 667.72,78.03 668.86,78.18 668.86,90.22 667.72,90.23 666.58,90.22 665.43,90.34 664.29,90.40 663.15,90.63 662.01,90.28 660.87,90.24 659.73,89.79 658.59,89.97 657.45,90.09 656.30,90.21 655.16,90.07 654.02,89.95 652.88,90.43 651.74,90.62 650.60,90.84 649.46,90.85 648.32,90.96 647.17,91.26 646.03,91.14 644.89,91.32 643.75,91.14 642.61,91.11 641.47,91.31 640.33,91.14 639.19,90.93 638.04,90.52 636.90,90.34 635.76,90.51 634.62,90.62 633.48,90.57 632.34,90.58 631.20,90.41 630.06,90.50 628.91,89.97 627.77,89.60 626.63,89.08 625.49,89.16 624.40,88.54 624.35,61.84 624.30,34.74 623.21,29.97 622.07,29.97 620.93,29.97 619.78,29.97 618.64,29.97 617.50,29.97 616.36,30.08 615.22,30.29 614.08,30.07 612.94,29.97 611.80,29.97 610.65,30.16 609.51,30.09 608.37,30.05 607.23,30.00 606.09,30.12 604.95,30.10 603.81,29.97 602.67,29.97 601.52,29.97 600.38,30.14 599.24,30.20 598.10,30.31 596.96,30.49 595.82,30.65 594.68,31.14 593.54,31.52 592.39,32.12 591.25,32.77 590.11,33.07 588.97,33.43 587.83,33.86 586.69,34.35 585.55,34.97 584.41,35.89 583.26,37.40 582.12,40.54 580.98,44.10 579.84,60.78 578.75,98.98 578.70,106.30 578.65,112.96 577.56,107.76 576.42,107.54 575.28,107.10 574.13,106.91 572.99,106.33 571.85,106.14 570.71,106.12 569.57,106.16 568.43,106.17 567.29,106.22 566.15,106.05 565.00,105.81 563.86,105.21 562.72,104.80 561.58,104.37 560.44,104.21 559.30,104.22 558.16,104.10 557.02,104.26 555.88,103.92 554.73,103.79 553.59,103.39 552.45,103.29 551.31,103.11 550.17,103.09 549.03,102.93 547.89,102.96 546.75,102.58 545.60,102.34 544.46,102.03 543.32,102.06 542.18,101.89 541.04,101.39 539.90,101.04 538.76,100.25 537.62,99.81 536.47,99.01 535.33,98.17 534.19,97.24 533.10,96.44 533.05,66.53 533.00,36.58 531.91,37.31 530.77,37.09 529.63,37.80 528.49,38.30 527.34,39.17 526.20,39.96 525.06,41.13 523.92,41.50 522.78,41.81 521.64,42.09 520.50,42.77 519.36,43.58 518.21,43.98 517.07,44.62 515.93,45.32 514.79,46.20 513.65,46.91 512.51,47.54 511.37,47.95 510.22,48.44 509.08,49.44 507.94,50.64 506.80,51.81 505.66,52.88 504.52,53.78 503.38,54.78 502.24,55.61 501.09,56.79 499.95,58.06 498.81,59.37 497.67,60.46 496.53,62.41 495.39,64.47 494.25,66.79 493.11,69.76 491.96,73.38 490.82,81.96 489.68,91.55 488.54,99.27 487.40,107.90" fill="#9467bd" fill-opacity="0.20" stroke="none"/>
<polygon points="487.40,97.78 488.54,100.17 489.68,102.08 490.82,102.85 491.96,103.88 493.11,103.94 494.25,104.08 495.39,104.02 496.53,104.12 497.67,104.12 498.81,104.31 499.95,104.45 501.09,104.60 502.24,104.70 503.38,104.76 504.52,104.82 505.66,104.87 506.80,105.08 507.94,105.49 509.08,105.71 510.22,106.13 511.37,106.04 512.51,106.14 513.65,105.98 514.79,106.00 515.93,105.95 517.07,106.19 518.21,106.19 519.36,106.31 520.50,106.03 521.64,106.07 522.78,105.87 523.92,106.05 525.06,106.06 526.20,106.20 527.34,106.24 528.49,106.12 529.63,106.13 530.77,106.15 531.91,106.14 533.00,103.43 533.05,97.17 533.10,90.94 534.19,67.01 535.33,58.11 536.47,52.56 537.62,48.21 538.76,44.50 539.90,41.07 541.04,39.72 542.18,38.77 543.32,37.94 544.46,37.21 545.60,36.85 546.75,36.41 547.89,36.25 549.03,35.29 550.17,34.29 551.31,33.00 552.45,32.11 553.59,31.00 554.73,30.24 555.88,29.97 557.02,29.97 558.16,29.97 559.30,29.97 560.44,29.97 561.58,29.97 562.72,29.97 563.86,29.97 565.00,30.15 566.15,30.11 567.29,30.08 568.43,29.98 569.57,29.97 570.71,29.97 571.85,29.97 572.99,29.97 574.13,29.97 575.28,29.97 576.42,29.97 577.56,29.97 578.65,29.97 578.70,48.41 578.75,70.74 579.84,80.46 580.98,86.84 582.12,90.21 583.26,91.75 584.41,92.94 585.55,94.40 586.69,95.12 587.83,95.91 588.97,96.62 590.11,97.39 591.25,97.14 592.39,96.84 593.54,96.64 594.68,96.48 595.82,96.43 596.96,96.41 598.10,96.16 599.24,96.06 600.38,96.03 601.52,96.10 602.67,96.15 603.81,96.21 604.95,96.12 606.09,96.24 607.23,96.17 608.37,96.37 609.51,96.36 610.65,96.31 611.80,96.31 612.94,96.27 614.08,96.43 615.22,96.23 616.36,96.32 617.50,96.20 618.64,96.13 619.78,95.96 620.93,96.10 622.07,96.20 623.21,96.19 624.30,96.09 624.35,89.53 624.40,82.90 625.49,42.86 626.63,33.05 627.77,29.97 628.91,29.97 630.06,29.97 631.20,30.01 632.34,29.97 633.48,29.97 634.62,29.97 635.76,29.97 636.90,30.03 638.04,30.06 639.19,30.04 640.33,29.97 641.47,29.97 642.61,29.97 643.75,29.97 644.89,29.97 646.03,29.97 647.17,30.05 648.32,30.02 649.46,29.97 650.60,29.98 651.74,29.97 652.88,30.02 654.02,30.06 655.16,30.22 656.30,30.03 657.45,29.97 658.59,29.97 659.73,30.01 660.87,30.18 662.01,30.05 663.15,30.08 664.29,29.97 665.43,30.02 666.58,30.04 667.72,30.03 668.86,29.97 668.86,29.99 667.72,30.09 666.58,29.98 665.43,30.05 664.29,29.97 663.15,29.97 662.01,29.97 660.87,29.99 659.73,29.98 658.59,29.97 657.45,29.97 656.30,29.97 655.16,29.98 654.02,29.97 652.88,30.13 651.74,30.09 650.60,30.04 649.46,29.97 648.32,30.05 647.17,29.99 646.03,30.01 644.89,29.97 643.75,29.97 642.61,30.02 641.47,30.08 640.33,29.97 639.19,29.97 638.04,29.97 636.90,29.97 635.76,29.97 634.62,29.97 633.48,29.97 632.34,29.97 631.20,29.98 630.06,31.09 628.91,32.21 627.77,33.43 626.63,38.50 625.49,49.56 624.40,91.00 624.35,97.68 624.30,104.55 623.21,103.55 622.07,103.57 620.93,103.18 619.78,103.30 618.64,103.41 617.50,103.56 616.36,103.51 615.22,103.42 614.08,103.64 612.94,103.66 611.80,103.63 610.65,103.47 609.51,103.47 608.37,103.56 607.23,103.39 606.09,103.34 604.95,103.28 603.81,103.60 602.67,103.58 601.52,103.59 600.38,103.39 599.24,103.49 598.10,103.41 596.96,103.52 595.82,103.50 594.68,103.63 593.54,104.03 592.39,104.37 591.25,104.80 590.11,105.01 588.97,104.31 587.83,103.59 586.69,102.70 585.55,101.87 584.41,100.39 583.26,99.10 582.12,97.75 580.98,94.46 579.84,88.46 578.75,78.74 578.70,56.14 578.65,33.55 577.56,29.97 576.42,30.01 575.28,30.04 574.13,29.98 572.99,29.97 571.85,29.97 570.71,29.99 569.57,30.00 568.43,30.06 567.29,29.97 566.15,29.97 565.00,30.05 563.86,30.75 562.72,31.53 561.58,32.12 560.44,32.82 559.30,33.75 558.16,34.88 557.02,36.02 555.88,37.07 554.73,37.87 553.59,39.14 552.45,40.89 551.31,42.44 550.17,44.18 549.03,45.76 547.89,47.28 546.75,48.01 545.60,48.91 544.46,49.76 543.32,51.11 542.18,52.46 541.04,54.03 539.90,55.80 538.76,58.04 537.62,60.57 536.47,63.92 535.33,68.47 534.19,76.34 533.10,99.14 533.05,105.43 533.00,111.57 531.91,108.64 530.77,108.70 529.63,108.75 528.49,108.88 527.34,108.79 526.20,108.72 525.06,108.60 523.92,108.76 522.78,108.70 521.64,108.78 520.50,108.80 519.36,108.88 518.21,108.86 517.07,108.78 515.93,108.83 514.79,108.87 513.65,108.87 512.51,108.97 511.37,108.82 510.22,109.08 509.08,108.66 507.94,108.65 506.80,108.10 505.66,107.80 504.52,107.62 503.38,107.53 502.24,107.61 501.09,107.45 499.95,107.48 498.81,107.46 497.67,107.36 496.53,107.23 495.39,107.01 494.25,107.11 493.11,107.09 491.96,107.14 490.82,106.19 489.68,105.31 488.54,103.44 487.40,100.99" fill="#ff7f0e" fill-opacity="0.20" stroke="none"/>
<line x1="533.05" y1="25.90" x2="533.05" y2="115.40" stroke="#000" stroke-width="0.80" stroke-dasharray="2.2,1.26"/>
<line x1="578.70" y1="25.90" x2="578.70" y2="115.40" stroke="#000" stroke-width="0.80" stroke-dasharray="2.2,1.26"/>
<line x1="624.35" y1="25.90" x2="624.35" y2="115.40" stroke="#000" stroke-width="0.80" stroke-dasharray="2.2,1.26"/>
<polyline points="487.40,105.41 488.54,94.97 489.68,85.65 490.82,74.26 491.96,63.95 493.11,60.49 494.25,57.69 495.39,55.70 496.53,53.97 497.67,52.30 498.81,51.17 499.95,50.09 501.09,49.18 502.24,48.33 503.38,47.61 504.52,46.58 505.66,45.64 506.80,44.73 507.94,43.76 509.08,42.90 510.22,41.96 511.37,41.48 512.51,41.05 513.65,40.57 514.79,39.98 515.93,39.19 517.07,38.44 518.21,37.99 519.36,37.59 520.50,37.13 521.64,36.57 522.78,36.38 523.92,36.31 525.06,36.00 526.20,35.35 527.34,34.59 528.49,33.94 529.63,33.45 530.77,32.84 531.91,33.15 533.00,33.15 533.05,63.32 533.10,93.27 534.19,94.02 535.33,94.76 536.47,95.70 537.62,96.63 538.76,97.26 539.90,98.10 541.04,98.31 542.18,98.57 543.32,98.66 544.46,98.85 545.60,99.32 546.75,99.59 547.89,99.94 549.03,99.90 550.17,100.18 551.31,100.19 552.45,100.47 553.59,100.55 554.73,100.94 555.88,101.20 557.02,101.50 558.16,101.55 559.30,101.76 560.44,101.93 561.58,102.12 562.72,102.23 563.86,102.45 565.00,102.74 566.15,103.13 567.29,103.45 568.43,103.65 569.57,103.47 570.71,103.35 571.85,103.38 572.99,103.82 574.13,104.29 575.28,104.66 576.42,105.07 577.56,105.52 578.65,105.58 578.70,98.25 578.75,90.78 579.84,53.57 580.98,37.81 582.12,35.40 583.26,33.22 584.41,32.62 585.55,32.50 586.69,32.22 587.83,31.87 588.97,31.58 590.11,31.34 591.25,31.23 592.39,30.93 593.54,30.78 594.68,30.63 595.82,30.49 596.96,30.30 598.10,30.13 599.24,29.97 600.38,29.97 601.52,29.97 602.67,29.97 603.81,29.97 604.95,29.97 606.09,29.97 607.23,29.97 608.37,29.97 609.51,29.97 610.65,29.97 611.80,29.97 612.94,29.97 614.08,29.97 615.22,29.97 616.36,29.97 617.50,29.97 618.64,29.97 619.78,29.97 620.93,29.97 622.07,29.97 623.21,29.97 624.30,29.97 624.35,57.14 624.40,83.91 625.49,84.71 626.63,84.71 627.77,85.03 628.91,85.35 630.06,85.68 631.20,85.63 632.34,85.57 633.48,85.59 634.62,85.62 635.76,85.75 636.90,85.85 638.04,86.06 639.19,86.33 640.33,86.43 641.47,86.72 642.61,86.70 643.75,86.78 644.89,86.82 646.03,86.63 647.17,86.63 648.32,86.43 649.46,86.41 650.60,86.32 651.74,86.17 652.88,85.99 654.02,85.57 655.16,85.63 656.30,85.75 657.45,85.89 658.59,86.00 659.73,85.90 660.87,86.23 662.01,86.24 663.15,86.41 664.29,86.28 665.43,86.07 666.58,86.16 667.72,86.13 668.86,86.23" fill="none" stroke="#9467bd" stroke-width="1.20" stroke-linejoin="round"/>
<polyline points="487.40,99.47 488.54,101.89 489.68,103.74 490.82,104.52 491.96,105.51 493.11,105.52 494.25,105.65 495.39,105.63 496.53,105.81 497.67,105.83 498.81,105.97 499.95,105.98 501.09,106.03 502.24,106.17 503.38,106.22 504.52,106.31 505.66,106.26 506.80,106.48 507.94,106.87 509.08,107.06 510.22,107.51 511.37,107.45 512.51,107.55 513.65,107.38 514.79,107.30 515.93,107.29 517.07,107.33 518.21,107.44 519.36,107.46 520.50,107.33 521.64,107.42 522.78,107.44 523.92,107.61 525.06,107.51 526.20,107.50 527.34,107.49 528.49,107.44 529.63,107.44 530.77,107.52 531.91,107.46 533.00,107.50 533.05,101.32 533.10,95.04 534.19,71.57 535.33,63.05 536.47,57.81 537.62,53.91 538.76,50.66 539.90,47.81 541.04,46.25 542.18,45.01 543.32,43.86 544.46,42.84 545.60,42.26 546.75,41.62 547.89,41.13 549.03,40.04 550.17,38.78 551.31,37.33 552.45,36.01 553.59,34.63 554.73,33.66 555.88,32.94 557.02,32.43 558.16,31.83 559.30,31.35 560.44,30.76 561.58,30.56 562.72,30.35 563.86,30.16 565.00,29.97 566.15,29.97 567.29,29.97 568.43,29.97 569.57,29.97 570.71,29.97 571.85,29.97 572.99,29.97 574.13,29.97 575.28,29.97 576.42,29.97 577.56,29.97 578.65,29.97 578.70,52.31 578.75,74.78 579.84,84.55 580.98,90.84 582.12,94.13 583.26,95.60 584.41,96.94 585.55,98.53 586.69,99.30 587.83,100.15 588.97,100.80 590.11,101.53 591.25,101.24 592.39,100.91 593.54,100.62 594.68,100.36 595.82,100.26 596.96,100.35 598.10,100.25 599.24,100.34 600.38,100.32 601.52,100.35 602.67,100.35 603.81,100.35 604.95,100.21 606.09,100.30 607.23,100.27 608.37,100.34 609.51,100.24 610.65,100.17 611.80,100.34 612.94,100.39 614.08,100.46 615.22,100.28 616.36,100.32 617.50,100.32 618.64,100.28 619.78,100.20 620.93,100.17 622.07,100.30 623.21,100.25 624.30,100.40 624.35,93.73 624.40,87.13 625.49,46.32 626.63,35.81 627.77,31.38 628.91,30.91 630.06,30.45 631.20,29.97 632.34,29.97 633.48,29.97 634.62,29.97 635.76,29.97 636.90,29.97 638.04,29.97 639.19,29.97 640.33,29.97 641.47,29.97 642.61,29.97 643.75,29.97 644.89,29.97 646.03,29.97 647.17,29.97 648.32,29.97 649.46,29.97 650.60,29.97 651.74,29.97 652.88,29.97 654.02,29.97 655.16,29.97 656.30,29.97 657.45,29.97 658.59,29.97 659.73,29.97 660.87,29.97 662.01,29.97 663.15,29.97 664.29,29.97 665.43,29.97 666.58,29.97 667.72,29.97 668.86,29.97" fill="none" stroke="#ff7f0e" stroke-width="1.20" stroke-linejoin="round"/>
<polyline points="487.40,110.83 488.54,110.85 489.68,110.84 490.82,110.82 491.96,110.83 493.11,110.86 494.25,110.91 495.39,110.92 496.53,110.86 497.67,110.85 498.81,110.80 499.95,110.83 501.09,110.82 502.24,110.87 503.38,110.90 504.52,110.89 505.66,110.84 506.80,110.86 507.94,110.89 509.08,110.93 510.22,110.86 511.37,110.82 512.51,110.80 513.65,110.82 514.79,110.85 515.93,110.88 517.07,110.85 518.21,110.83 519.36,110.85 520.50,110.85 521.64,110.84 522.78,110.80 523.92,110.78 525.06,110.81 526.20,110.84 527.34,110.95 528.49,110.94 529.63,110.91 530.77,110.85 531.91,110.85 533.00,110.84 533.05,110.83 533.10,110.82 534.19,110.85 535.33,110.86 536.47,110.84 537.62,110.84 538.76,110.85 539.90,110.89 541.04,110.89 542.18,110.88 543.32,110.85 544.46,110.85 545.60,110.86 546.75,110.91 547.89,110.90 549.03,110.92 550.17,110.88 551.31,110.87 552.45,110.84 553.59,110.86 554.73,110.87 555.88,110.88 557.02,110.88 558.16,110.86 559.30,110.84 560.44,110.75 561.58,110.81 562.72,110.83 563.86,110.89 565.00,110.84 566.15,110.84 567.29,110.81 568.43,110.84 569.57,110.85 570.71,110.90 571.85,110.90 572.99,110.89 574.13,110.90 575.28,110.90 576.42,110.88 577.56,110.84 578.65,110.79 578.70,110.83 578.75,110.88 579.84,110.88 580.98,110.85 582.12,110.81 583.26,110.89 584.41,110.89 585.55,110.89 586.69,110.87 587.83,110.85 588.97,110.88 590.11,110.87 591.25,110.95 592.39,110.92 593.54,110.95 594.68,110.86 595.82,110.91 596.96,110.84 598.10,110.91 599.24,110.91 600.38,110.95 601.52,110.92 602.67,110.91 603.81,110.94 604.95,111.01 606.09,110.99 607.23,110.96 608.37,110.95 609.51,110.94 610.65,110.91 611.80,110.90 612.94,110.89 614.08,110.92 615.22,110.89 616.36,110.90 617.50,110.94 618.64,110.91 619.78,110.88 620.93,110.86 622.07,110.89 623.21,110.98 624.30,110.92 624.35,110.86 624.40,110.83 625.49,110.87 626.63,110.92 627.77,110.87 628.91,110.91 630.06,110.90 631.20,110.98 632.34,110.93 633.48,110.97 634.62,110.88 635.76,110.88 636.90,110.88 638.04,110.93 639.19,110.97 640.33,110.92 641.47,110.87 642.61,110.86 643.75,110.94 644.89,110.95 646.03,110.93 647.17,110.91 648.32,110.92 649.46,110.91 650.60,110.90 651.74,110.89 652.88,110.90 654.02,110.90 655.16,110.93 656.30,110.91 657.45,110.91 658.59,110.90 659.73,110.92 660.87,110.93 662.01,110.93 663.15,110.92 664.29,110.89 665.43,110.93 666.58,110.95 667.72,110.97 668.86,110.93" fill="none" stroke="#2ca02c" stroke-width="1.20" stroke-linejoin="round"/>
<polyline points="487.40,77.61 488.54,96.43 489.68,106.37 490.82,110.13 491.96,112.34 493.11,112.72 494.25,113.11 495.39,113.49 496.53,113.87 497.67,113.95 498.81,114.02 499.95,114.10 501.09,114.18 502.24,114.25 503.38,114.33 504.52,114.41 505.66,114.48 506.80,114.50 507.94,114.51 509.08,114.52 510.22,114.54 511.37,114.55 512.51,114.56 513.65,114.58 514.79,114.59 515.93,114.60 517.07,114.62 518.21,114.63 519.36,114.64 520.50,114.65 521.64,114.67 522.78,114.68 523.92,114.69 525.06,114.71 526.20,114.72 527.34,114.73 528.49,114.75 529.63,114.76 530.77,114.77 531.91,114.79 533.00,114.79 533.05,104.38 533.10,93.98 534.19,109.28 535.33,112.65 536.47,113.33 537.62,114.02 538.76,114.10 539.90,114.18 541.04,114.25 542.18,114.33 543.32,114.41 544.46,114.48 545.60,114.56 546.75,114.64 547.89,114.64 549.03,114.65 550.17,114.65 551.31,114.66 552.45,114.66 553.59,114.67 554.73,114.68 555.88,114.68 557.02,114.69 558.16,114.69 559.30,114.70 560.44,114.70 561.58,114.71 562.72,114.72 563.86,114.72 565.00,114.73 566.15,114.73 567.29,114.74 568.43,114.74 569.57,114.75 570.71,114.76 571.85,114.76 572.99,114.77 574.13,114.77 575.28,114.78 576.42,114.78 577.56,114.79 578.65,114.79 578.70,114.80 578.75,114.80 579.84,114.80 580.98,114.81 582.12,114.81 583.26,114.82 584.41,114.82 585.55,114.83 586.69,114.84 587.83,114.84 588.97,114.85 590.11,114.85 591.25,114.86 592.39,114.86 593.54,114.87 594.68,114.88 595.82,114.88 596.96,114.89 598.10,114.89 599.24,114.90 600.38,114.90 601.52,114.91 602.67,114.92 603.81,114.92 604.95,114.93 606.09,114.93 607.23,114.94 608.37,114.94 609.51,114.95 610.65,114.96 611.80,114.96 612.94,114.97 614.08,114.97 615.22,114.98 616.36,114.98 617.50,114.99 618.64,115.00 619.78,115.00 620.93,115.01 622.07,115.01 623.21,115.02 624.30,115.02 624.35,115.02 624.40,115.02 625.49,115.03 626.63,115.04 627.77,115.04 628.91,115.05 630.06,115.05 631.20,115.06 632.34,115.06 633.48,115.07 634.62,115.08 635.76,115.08 636.90,115.09 638.04,115.09 639.19,115.10 640.33,115.10 641.47,115.11 642.61,115.12 643.75,115.12 644.89,115.13 646.03,115.13 647.17,115.14 648.32,115.14 649.46,115.15 650.60,115.16 651.74,115.16 652.88,115.17 654.02,115.17 655.16,115.18 656.30,115.18 657.45,115.19 658.59,115.20 659.73,115.20 660.87,115.21 662.01,115.21 663.15,115.22 664.29,115.22 665.43,115.23 666.58,115.24 667.72,115.24 668.86,115.25" fill="none" stroke="#7f7f7f" stroke-width="1.20" stroke-linejoin="round"/>
</g>
<g clip-path="url(#c11)">
<polygon points="487.40,205.35 488.54,199.42 489.68,193.53 490.82,188.02 491.96,182.86 493.11,177.64 494.25,174.66 495.39,171.80 496.53,168.38 497.67,165.15 498.81,163.07 499.95,161.87 501.09,160.70 502.24,159.31 503.38,157.98 504.52,157.64 505.66,157.36 506.80,157.00 507.94,156.54 509.08,156.25 510.22,155.76 511.37,155.38 512.51,155.18 513.65,155.15 514.79,155.17 515.93,155.03 517.07,154.31 518.21,153.23 519.36,152.17 520.50,151.11 521.64,150.61 522.78,150.05 523.92,149.65 525.06,149.29 526.20,148.94 527.34,148.50 528.49,148.17 529.63,147.84 530.77,147.53 531.91,147.04 533.00,146.57 533.05,146.52 533.10,146.38 534.19,146.03 535.33,145.62 536.47,145.41 537.62,144.87 538.76,144.27 539.90,143.82 541.04,143.44 542.18,143.06 543.32,142.68 544.46,142.41 545.60,142.14 546.75,141.38 547.89,140.76 549.03,140.29 550.17,140.30 551.31,140.16 552.45,139.83 553.59,139.68 554.73,139.42 555.88,139.20 557.02,138.97 558.16,138.80 559.30,138.76 560.44,138.84 561.58,138.89 562.72,138.85 563.86,138.85 565.00,138.88 566.15,139.41 567.29,139.95 568.43,139.49 569.57,138.57 570.71,138.57 571.85,138.57 572.99,138.57 574.13,138.57 575.28,138.57 576.42,138.57 577.56,138.57 578.65,138.57 578.70,138.57 578.75,138.57 579.84,138.57 580.98,138.57 582.12,138.57 583.26,138.57 584.41,138.57 585.55,138.57 586.69,138.57 587.83,138.57 588.97,138.57 590.11,138.57 591.25,138.57 592.39,138.57 593.54,138.57 594.68,138.57 595.82,138.57 596.96,138.57 598.10,138.57 599.24,138.57 600.38,138.57 601.52,138.57 602.67,138.57 603.81,138.57 604.95,138.57 606.09,138.57 607.23,138.57 608.37,138.57 609.51,138.57 610.65,138.57 611.80,138.57 612.94,138.57 614.08,138.57 615.22,138.57 616.36,138.57 617.50,138.57 618.64,138.57 619.78,138.57 620.93,138.57 622.07,138.57 623.21,138.57 624.30,138.57 624.35,138.57 624.40,138.57 625.49,138.57 626.63,138.57 627.77,138.57 628.91,138.57 630.06,138.57 631.20,138.57 632.34,138.57 633.48,138.57 634.62,138.57 635.76,138.57 636.90,138.57 638.04,138.57 639.19,138.57 640.33,138.57 641.47,138.57 642.61,138.57 643.75,138.57 644.89,138.57 646.03,138.57 647.17,138.57 648.32,138.57 649.46,138.57 650.60,138.57 651.74,138.57 652.88,138.57 654.02,138.57 655.16,138.57 656.30,138.57 657.45,138.57 658.59,138.57 659.73,138.57 660.87,138.57 662.01,138.57 663.15,138.57 664.29,138.57 665.43,138.57 666.58,138.57 667.72,138.57 668.86,138.57 668.86,138.57 667.72,138.57 666.58,138.57 665.43,138.57 664.29,138.57 663.15,138.57 662.01,138.57 660.87,138.57 659.73,138.57 658.59,138.57 657.45,138.57 656.30,138.57 655.16,138.57 654.02,138.57 652.88,138.57 651.74,138.57 650.60,138.57 649.46,138.57 648.32,138.57 647.17,138.57 646.03,138.57 644.89,138.57 643.75,138.57 642.61,138.57 641.47,138.57 640.33,138.57 639.19,138.57 638.04,138.57 636.90,138.57 635.76,138.57 634.62,138.57 633.48,138.57 632.34,138.57 631.20,138.57 630.06,138.57 628.91,138.57 627.77,138.57 626.63,138.57 625.49,138.57 624.40,138.57 624.35,138.57 624.30,138.57 623.21,138.57 622.07,138.57 620.93,138.57 619.78,138.57 618.64,138.57 617.50,138.57 616.36,138.57 615.22,138.57 614.08,138.57 612.94,138.57 611.80,138.57 610.65,138.57 609.51,138.57 608.37,138.57 607.23,138.57 606.09,138.57 604.95,138.57 603.81,138.57 602.67,138.57 601.52,138.57 600.38,138.57 599.24,138.57 598.10,138.57 596.96,138.57 595.82,138.57 594.68,138.57 593.54,138.57 592.39,138.57 591.25,138.57 590.11,138.57 588.97,138.57 587.83,138.57 586.69,138.57 585.55,138.57 584.41,138.57 583.26,138.57 582.12,138.57 580.98,138.57 579.84,138.57 578.75,138.57 578.70,138.57 578.65,138.58 577.56,138.83 576.42,139.11 575.28,139.36 574.13,139.64 572.99,140.01 571.85,140.43 570.71,140.79 569.57,141.83 568.43,142.77 567.29,143.25 566.15,142.73 565.00,142.23 563.86,142.22 562.72,142.24 561.58,142.30 560.44,142.27 559.30,142.21 558.16,142.28 557.02,142.47 555.88,142.72 554.73,142.97 553.59,143.25 552.45,143.42 551.31,143.78 550.17,143.94 549.03,143.96 547.89,144.45 546.75,145.08 545.60,145.87 544.46,146.16 543.32,146.45 542.18,146.86 541.04,147.26 539.90,147.66 538.76,148.14 537.62,148.76 536.47,149.32 535.33,149.55 534.19,149.98 533.10,150.36 533.05,150.50 533.00,150.55 531.91,151.04 530.77,151.55 529.63,151.89 528.49,152.24 527.34,152.59 526.20,153.06 525.06,153.42 523.92,153.81 522.78,154.23 521.64,154.81 520.50,155.34 519.36,156.42 518.21,157.50 517.07,158.60 515.93,159.35 514.79,159.51 513.65,159.51 512.51,159.56 511.37,159.79 510.22,160.19 509.08,160.70 507.94,161.02 506.80,161.50 505.66,161.88 504.52,162.18 503.38,162.55 502.24,163.90 501.09,165.31 499.95,166.51 498.81,167.73 497.67,169.83 496.53,173.08 495.39,176.52 494.25,179.41 493.11,182.41 491.96,187.65 490.82,192.83 489.68,198.36 488.54,204.28 487.40,210.23" fill="#9467bd" fill-opacity="0.20" stroke="none"/>
<polygon points="487.40,209.58 488.54,204.44 489.68,199.14 490.82,194.03 491.96,188.67 493.11,183.26 494.25,177.79 495.39,174.18 496.53,172.28 497.67,170.44 498.81,168.53 499.95,166.73 501.09,164.80 502.24,163.71 503.38,162.68 504.52,161.81 505.66,160.92 506.80,160.02 507.94,158.87 509.08,157.83 510.22,156.94 511.37,156.13 512.51,154.20 513.65,152.64 514.79,152.45 515.93,152.45 517.07,152.17 518.21,152.05 519.36,151.92 520.50,151.90 521.64,151.85 522.78,147.53 523.92,143.38 525.06,143.36 526.20,143.46 527.34,143.39 528.49,143.08 529.63,142.87 530.77,142.85 531.91,142.77 533.00,142.67 533.05,142.74 533.10,142.90 534.19,142.90 535.33,142.82 536.47,143.01 537.62,142.89 538.76,141.24 539.90,139.39 541.04,139.41 542.18,139.34 543.32,139.32 544.46,139.26 545.60,139.30 546.75,139.21 547.89,139.15 549.03,139.09 550.17,139.09 551.31,139.09 552.45,139.02 553.59,139.01 554.73,139.00 555.88,139.02 557.02,138.94 558.16,138.85 559.30,138.79 560.44,138.75 561.58,138.71 562.72,138.66 563.86,138.61 565.00,138.57 566.15,138.57 567.29,138.57 568.43,138.57 569.57,138.57 570.71,138.57 571.85,138.57 572.99,138.57 574.13,138.57 575.28,138.57 576.42,138.57 577.56,138.57 578.65,138.57 578.70,138.57 578.75,138.57 579.84,138.57 580.98,138.57 582.12,138.57 583.26,138.57 584.41,138.57 585.55,138.57 586.69,138.57 587.83,138.57 588.97,138.57 590.11,138.57 591.25,138.57 592.39,138.57 593.54,138.57 594.68,138.57 595.82,138.57 596.96,138.57 598.10,138.57 599.24,138.57 600.38,138.57 601.52,138.57 602.67,138.57 603.81,138.57 604.95,138.57 606.09,138.57 607.23,138.57 608.37,138.57 609.51,138.57 610.65,138.57 611.80,138.57 612.94,138.57 614.08,138.57 615.22,138.57 616.36,138.57 617.50,138.57 618.64,138.57 619.78,138.57 620.93,138.57 622.07,138.57 623.21,138.57 624.30,138.57 624.35,138.57 624.40,138.57 625.49,138.57 626.63,138.57 627.77,138.57 628.91,138.57 630.06,138.57 631.20,138.57 632.34,138.57 633.48,138.57 634.62,138.57 635.76,138.57 636.90,138.57 638.04,138.57 639.19,138.57 640.33,138.57 641.47,138.57 642.61,138.57 643.75,138.57 644.89,138.57 646.03,138.57 647.17,138.57 648.32,138.57 649.46,138.57 650.60,138.57 651.74,138.57 652.88,138.57 654.02,138.57 655.16,138.57 656.30,138.57 657.45,138.57 658.59,138.57 659.73,138.57 660.87,138.57 662.01,138.57 663.15,138.57 664.29,138.57 665.43,138.57 666.58,138.57 667.72,138.57 668.86,138.57 668.86,138.57 667.72,138.57 666.58,138.57 665.43,138.57 664.29,138.57 663.15,138.57 662.01,138.57 660.87,138.57 659.73,138.57 658.59,138.57 657.45,138.57 656.30,138.57 655.16,138.57 654.02,138.57 652.88,138.57 651.74,138.57 650.60,138.57 649.46,138.57 648.32,138.57 647.17,138.57 646.03,138.57 644.89,138.57 643.75,138.57 642.61,138.57 641.47,138.57 640.33,138.57 639.19,138.57 638.04,138.57 636.90,138.57 635.76,138.57 634.62,138.57 633.48,138.57 632.34,138.57 631.20,138.57 630.06,138.57 628.91,138.57 627.77,138.57 626.63,138.57 625.49,138.57 624.40,138.57 624.35,138.57 624.30,138.57 623.21,138.57 622.07,138.57 620.93,138.57 619.78,138.57 618.64,138.57 617.50,138.57 616.36,138.57 615.22,138.57 614.08,138.57 612.94,138.57 611.80,138.57 610.65,138.57 609.51,138.57 608.37,138.57 607.23,138.57 606.09,138.57 604.95,138.57 603.81,138.57 602.67,138.57 601.52,138.57 600.38,138.57 599.24,138.57 598.10,138.57 596.96,138.57 595.82,138.57 594.68,138.57 593.54,138.57 592.39,138.57 591.25,138.57 590.11,138.57 588.97,138.57 587.83,138.57 586.69,138.57 585.55,138.57 584.41,138.57 583.26,138.57 582.12,138.57 580.98,138.57 579.84,138.57 578.75,138.57 578.70,138.57 578.65,138.58 577.56,138.74 576.42,138.90 575.28,139.04 574.13,139.15 572.99,139.36 571.85,139.53 570.71,139.77 569.57,139.89 568.43,140.08 567.29,140.16 566.15,140.37 565.00,140.52 563.86,140.83 562.72,141.13 561.58,141.51 560.44,142.02 559.30,142.30 558.16,142.61 557.02,145.28 555.88,147.71 554.73,150.07 553.59,152.48 552.45,152.60 551.31,152.73 550.17,152.62 549.03,152.63 547.89,152.76 546.75,152.80 545.60,152.87 544.46,152.76 543.32,152.63 542.18,152.49 541.04,152.62 539.90,152.74 538.76,155.76 537.62,158.55 536.47,158.70 535.33,158.64 534.19,158.68 533.10,158.62 533.05,158.68 533.00,158.68 531.91,158.56 530.77,158.54 529.63,158.40 528.49,158.43 527.34,158.58 526.20,158.54 525.06,158.55 523.92,158.38 522.78,163.68 521.64,168.83 520.50,168.80 519.36,168.71 518.21,168.69 517.07,168.64 515.93,168.63 514.79,168.43 513.65,168.57 512.51,167.46 511.37,166.76 510.22,167.47 509.08,168.16 507.94,168.74 506.80,169.59 505.66,169.95 504.52,170.76 503.38,171.27 502.24,172.20 501.09,172.90 499.95,174.73 498.81,176.56 497.67,178.41 496.53,180.33 495.39,182.29 494.25,185.96 493.11,190.80 491.96,195.59 490.82,200.33 489.68,205.08 488.54,209.72 487.40,214.29" fill="#ff7f0e" fill-opacity="0.20" stroke="none"/>
<polyline points="487.40,207.79 488.54,201.85 489.68,195.95 490.82,190.42 491.96,185.26 493.11,180.02 494.25,177.04 495.39,174.16 496.53,170.73 497.67,167.49 498.81,165.40 499.95,164.19 501.09,163.00 502.24,161.61 503.38,160.27 504.52,159.91 505.66,159.62 506.80,159.25 507.94,158.78 509.08,158.47 510.22,157.97 511.37,157.58 512.51,157.37 513.65,157.33 514.79,157.34 515.93,157.19 517.07,156.46 518.21,155.36 519.36,154.29 520.50,153.23 521.64,152.71 522.78,152.14 523.92,151.73 525.06,151.36 526.20,151.00 527.34,150.55 528.49,150.20 529.63,149.87 530.77,149.54 531.91,149.04 533.00,148.56 533.05,148.51 533.10,148.37 534.19,148.01 535.33,147.59 536.47,147.36 537.62,146.81 538.76,146.20 539.90,145.74 541.04,145.35 542.18,144.96 543.32,144.57 544.46,144.29 545.60,144.00 546.75,143.23 547.89,142.61 549.03,142.13 550.17,142.12 551.31,141.97 552.45,141.63 553.59,141.47 554.73,141.20 555.88,140.96 557.02,140.72 558.16,140.54 559.30,140.48 560.44,140.56 561.58,140.60 562.72,140.55 563.86,140.54 565.00,140.55 566.15,141.07 567.29,141.60 568.43,141.13 569.57,140.20 570.71,139.37 571.85,139.21 572.99,138.99 574.13,138.83 575.28,138.75 576.42,138.70 577.56,138.63 578.65,138.57 578.70,138.57 578.75,138.57 579.84,138.57 580.98,138.57 582.12,138.57 583.26,138.57 584.41,138.57 585.55,138.57 586.69,138.57 587.83,138.57 588.97,138.57 590.11,138.57 591.25,138.57 592.39,138.57 593.54,138.57 594.68,138.57 595.82,138.57 596.96,138.57 598.10,138.57 599.24,138.57 600.38,138.57 601.52,138.57 602.67,138.57 603.81,138.57 604.95,138.57 606.09,138.57 607.23,138.57 608.37,138.57 609.51,138.57 610.65,138.57 611.80,138.57 612.94,138.57 614.08,138.57 615.22,138.57 616.36,138.57 617.50,138.57 618.64,138.57 619.78,138.57 620.93,138.57 622.07,138.57 623.21,138.57 624.30,138.57 624.35,138.57 624.40,138.57 625.49,138.57 626.63,138.57 627.77,138.57 628.91,138.57 630.06,138.57 631.20,138.57 632.34,138.57 633.48,138.57 634.62,138.57 635.76,138.57 636.90,138.57 638.04,138.57 639.19,138.57 640.33,138.57 641.47,138.57 642.61,138.57 643.75,138.57 644.89,138.57 646.03,138.57 647.17,138.57 648.32,138.57 649.46,138.57 650.60,138.57 651.74,138.57 652.88,138.57 654.02,138.57 655.16,138.57 656.30,138.57 657.45,138.57 658.59,138.57 659.73,138.57 660.87,138.57 662.01,138.57 663.15,138.57 664.29,138.57 665.43,138.57 666.58,138.57 667.72,138.57 668.86,138.57" fill="none" stroke="#9467bd" stroke-width="1.20" stroke-linejoin="round"/>
<polyline points="487.40,211.72 488.54,205.72 489.68,199.74 490.82,194.25 491.96,189.02 493.11,183.62 494.25,180.21 495.39,177.34 496.53,174.73 497.67,172.14 498.81,169.04 499.95,168.25 501.09,168.72 502.24,168.21 503.38,167.26 504.52,165.99 505.66,164.75 506.80,163.80 507.94,162.91 509.08,161.92 510.22,161.04 511.37,160.13 512.51,159.69 513.65,159.68 514.79,159.87 515.93,159.97 517.07,160.16 518.21,160.06 519.36,160.02 520.50,158.00 521.64,155.55 522.78,152.81 523.92,152.22 525.06,151.83 526.20,151.85 527.34,151.25 528.49,150.84 529.63,150.11 530.77,149.85 531.91,149.44 533.00,149.37 533.05,149.30 533.10,149.40 534.19,149.20 535.33,148.93 536.47,148.78 537.62,148.12 538.76,147.68 539.90,147.11 541.04,146.87 542.18,146.65 543.32,146.32 544.46,146.01 545.60,145.69 546.75,145.39 547.89,144.86 549.03,144.10 550.17,143.57 551.31,143.22 552.45,143.08 553.59,142.51 554.73,142.05 555.88,141.68 557.02,141.37 558.16,141.16 559.30,140.74 560.44,140.61 561.58,140.23 562.72,140.09 563.86,139.94 565.00,139.84 566.15,139.77 567.29,139.58 568.43,139.42 569.57,139.26 570.71,139.08 571.85,138.91 572.99,138.76 574.13,138.64 575.28,138.63 576.42,138.61 577.56,138.59 578.65,138.57 578.70,138.57 578.75,138.57 579.84,138.57 580.98,138.57 582.12,138.57 583.26,138.57 584.41,138.57 585.55,138.57 586.69,138.57 587.83,138.57 588.97,138.57 590.11,138.57 591.25,138.57 592.39,138.57 593.54,138.57 594.68,138.57 595.82,138.57 596.96,138.57 598.10,138.57 599.24,138.57 600.38,138.57 601.52,138.57 602.67,138.57 603.81,138.57 604.95,138.57 606.09,138.57 607.23,138.57 608.37,138.57 609.51,138.57 610.65,138.57 611.80,138.57 612.94,138.57 614.08,138.57 615.22,138.57 616.36,138.57 617.50,138.57 618.64,138.57 619.78,138.57 620.93,138.57 622.07,138.57 623.21,138.57 624.30,138.57 624.35,138.57 624.40,138.57 625.49,138.57 626.63,138.57 627.77,138.57 628.91,138.57 630.06,138.57 631.20,138.57 632.34,138.57 633.48,138.57 634.62,138.57 635.76,138.57 636.90,138.57 638.04,138.57 639.19,138.57 640.33,138.57 641.47,138.57 642.61,138.57 643.75,138.57 644.89,138.57 646.03,138.57 647.17,138.57 648.32,138.57 649.46,138.57 650.60,140.82 651.74,139.74 652.88,138.57 654.02,138.57 655.16,138.57 656.30,138.57 657.45,138.57 658.59,138.57 659.73,138.57 660.87,138.57 662.01,138.57 663.15,138.57 664.29,138.57 665.43,138.57 666.58,138.57 667.72,138.57 668.86,138.57" fill="none" stroke="#ff7f0e" stroke-width="1.20" stroke-linejoin="round"/>
<polyline points="487.40,219.17 488.54,219.19 489.68,219.19 490.82,219.15 491.96,219.10 493.11,219.08 494.25,219.02 495.39,219.02 496.53,219.00 497.67,219.04 498.81,219.05 499.95,219.05 501.09,219.01 502.24,219.01 503.38,219.06 504.52,219.10 505.66,219.04 506.80,219.01 507.94,218.97 509.08,218.94 510.22,218.89 511.37,218.94 512.51,218.96 513.65,218.99 514.79,218.94 515.93,218.97 517.07,218.94 518.21,218.90 519.36,218.88 520.50,218.91 521.64,218.95 522.78,218.89 523.92,218.85 525.06,218.83 526.20,218.85 527.34,218.85 528.49,218.84 529.63,218.87 530.77,218.84 531.91,218.82 533.00,218.75 533.05,218.76 533.10,218.78 534.19,218.83 535.33,218.81 536.47,218.81 537.62,218.78 538.76,218.80 539.90,218.74 541.04,218.76 542.18,218.78 543.32,218.81 544.46,218.78 545.60,218.75 546.75,218.73 547.89,218.70 549.03,218.67 550.17,218.63 551.31,218.66 552.45,218.64 553.59,218.69 554.73,218.66 555.88,218.75 557.02,218.74 558.16,218.74 559.30,218.64 560.44,218.62 561.58,218.65 562.72,218.65 563.86,218.60 565.00,218.61 566.15,218.67 567.29,218.73 568.43,218.71 569.57,218.78 570.71,218.81 571.85,218.85 572.99,218.86 574.13,218.87 575.28,218.89 576.42,218.92 577.56,218.94 578.65,219.02 578.70,218.96 578.75,219.02 579.84,218.99 580.98,219.10 582.12,219.09 583.26,219.14 584.41,219.16 585.55,219.19 586.69,219.27 587.83,219.29 588.97,219.31 590.11,219.29 591.25,219.26 592.39,219.26 593.54,219.19 594.68,219.19 595.82,219.20 596.96,219.27 598.10,219.30 599.24,219.30 600.38,219.31 601.52,219.27 602.67,219.27 603.81,219.28 604.95,219.35 606.09,219.34 607.23,219.31 608.37,219.31 609.51,219.35 610.65,219.39 611.80,219.36 612.94,219.35 614.08,219.37 615.22,219.37 616.36,219.43 617.50,219.41 618.64,219.39 619.78,219.31 620.93,219.35 622.07,219.41 623.21,219.45 624.30,219.37 624.35,219.35 624.40,219.29 625.49,219.30 626.63,219.30 627.77,219.36 628.91,219.39 630.06,219.42 631.20,219.43 632.34,219.39 633.48,219.37 634.62,219.38 635.76,219.39 636.90,219.43 638.04,219.37 639.19,219.41 640.33,219.41 641.47,219.46 642.61,219.49 643.75,219.48 644.89,219.50 646.03,219.45 647.17,219.46 648.32,219.42 649.46,219.43 650.60,219.44 651.74,219.48 652.88,219.45 654.02,219.46 655.16,219.45 656.30,219.48 657.45,219.43 658.59,219.42 659.73,219.46 660.87,219.44 662.01,219.42 663.15,219.39 664.29,219.43 665.43,219.42 666.58,219.39 667.72,219.39 668.86,219.41" fill="none" stroke="#2ca02c" stroke-width="1.20" stroke-linejoin="round"/>
<polyline points="487.40,189.12 488.54,202.89 489.68,210.77 490.82,216.24 491.96,217.96 493.11,219.68 494.25,220.27 495.39,220.59 496.53,220.90 497.67,221.22 498.81,221.53 499.95,221.85 501.09,222.16 502.24,222.20 503.38,222.24 504.52,222.28 505.66,222.32 506.80,222.36 507.94,222.39 509.08,222.43 510.22,222.47 511.37,222.51 512.51,222.55 513.65,222.58 514.79,222.62 515.93,222.66 517.07,222.70 518.21,222.74 519.36,222.78 520.50,222.81 521.64,222.85 522.78,222.89 523.92,222.93 525.06,222.97 526.20,223.01 527.34,223.04 528.49,223.08 529.63,223.12 530.77,223.16 531.91,223.20 533.00,223.23 533.05,223.24 533.10,223.24 534.19,223.24 535.33,223.25 536.47,223.25 537.62,223.26 538.76,223.26 539.90,223.27 541.04,223.27 542.18,223.28 543.32,223.28 544.46,223.29 545.60,223.29 546.75,223.30 547.89,223.30 549.03,223.31 550.17,223.31 551.31,223.32 552.45,223.32 553.59,223.33 554.73,223.33 555.88,223.34 557.02,223.34 558.16,223.35 559.30,223.35 560.44,223.36 561.58,223.36 562.72,223.37 563.86,223.37 565.00,223.38 566.15,223.38 567.29,223.39 568.43,223.39 569.57,223.40 570.71,223.40 571.85,223.41 572.99,223.41 574.13,223.42 575.28,223.43 576.42,223.43 577.56,223.44 578.65,223.44 578.70,223.44 578.75,223.44 579.84,223.45 580.98,223.45 582.12,223.46 583.26,223.46 584.41,223.47 585.55,223.47 586.69,223.48 587.83,223.48 588.97,223.49 590.11,223.49 591.25,223.50 592.39,223.50 593.54,223.51 594.68,223.51 595.82,223.52 596.96,223.52 598.10,223.53 599.24,223.53 600.38,223.54 601.52,223.54 602.67,223.55 603.81,223.55 604.95,223.56 606.09,223.56 607.23,223.57 608.37,223.57 609.51,223.58 610.65,223.58 611.80,223.59 612.94,223.59 614.08,223.60 615.22,223.61 616.36,223.61 617.50,223.62 618.64,223.62 619.78,223.63 620.93,223.63 622.07,223.64 623.21,223.64 624.30,223.65 624.35,223.65 624.40,223.65 625.49,223.65 626.63,223.66 627.77,223.66 628.91,223.67 630.06,223.67 631.20,223.68 632.34,223.68 633.48,223.69 634.62,223.69 635.76,223.70 636.90,223.70 638.04,223.71 639.19,223.71 640.33,223.72 641.47,223.72 642.61,223.73 643.75,223.73 644.89,223.74 646.03,223.74 647.17,223.75 648.32,223.75 649.46,223.76 650.60,223.76 651.74,223.77 652.88,223.78 654.02,223.78 655.16,223.79 656.30,223.79 657.45,223.80 658.59,223.80 659.73,223.81 660.87,223.81 662.01,223.82 663.15,223.82 664.29,223.83 665.43,223.83 666.58,223.84 667.72,223.84 668.86,223.85" fill="none" stroke="#7f7f7f" stroke-width="1.20" stroke-linejoin="round"/>
</g>
<g clip-path="url(#c12)">
<polygon points="487.40,317.94 488.54,303.43 489.68,292.29 490.82,283.38 491.96,277.43 493.11,271.73 494.25,268.43 495.39,265.74 496.53,265.08 497.67,265.40 498.81,266.55 499.95,265.06 501.09,262.57 502.24,261.37 503.38,261.03 504.52,261.21 505.66,260.75 506.80,261.02 507.94,261.29 509.08,262.02 510.22,261.72 511.37,260.93 512.51,259.95 513.65,258.64 514.79,257.48 515.93,256.32 517.07,255.18 518.21,253.78 519.36,253.31 520.50,252.74 521.64,252.54 522.78,251.86 523.92,251.20 525.06,250.48 526.20,249.67 527.34,249.33 528.49,248.98 529.63,248.52 530.77,247.64 531.91,247.17 533.00,247.17 533.05,278.32 533.10,310.03 534.19,314.18 535.33,318.17 536.47,318.33 537.62,318.64 538.76,318.93 539.90,319.44 541.04,319.73 542.18,319.93 543.32,320.01 544.46,320.34 545.60,320.39 546.75,320.35 547.89,320.33 549.03,320.73 550.17,321.01 551.31,321.07 552.45,320.65 553.59,320.76 554.73,320.64 555.88,320.91 557.02,320.81 558.16,321.04 559.30,320.84 560.44,320.88 561.58,320.87 562.72,320.95 563.86,320.61 565.00,320.61 566.15,320.76 567.29,320.89 568.43,320.82 569.57,320.76 570.71,321.20 571.85,321.67 572.99,321.78 574.13,321.44 575.28,321.11 576.42,321.02 577.56,321.33 578.65,318.49 578.70,309.58 578.75,300.07 579.84,276.98 580.98,258.71 582.12,250.88 583.26,248.74 584.41,247.85 585.55,247.31 586.69,247.29 587.83,247.33 588.97,247.26 590.11,247.29 591.25,247.18 592.39,247.17 593.54,247.28 594.68,247.33 595.82,247.46 596.96,247.27 598.10,247.25 599.24,247.17 600.38,247.22 601.52,247.17 602.67,247.20 603.81,247.17 604.95,247.19 606.09,247.29 607.23,247.17 608.37,247.26 609.51,247.17 610.65,247.17 611.80,247.17 612.94,247.26 614.08,247.46 615.22,247.41 616.36,247.32 617.50,247.38 618.64,247.25 619.78,247.18 620.93,247.17 622.07,247.27 623.21,247.17 624.30,247.17 624.35,263.81 624.40,291.89 625.49,295.68 626.63,298.62 627.77,300.05 628.91,301.57 630.06,302.52 631.20,303.08 632.34,303.28 633.48,303.48 634.62,303.46 635.76,303.25 636.90,302.97 638.04,302.76 639.19,302.54 640.33,302.38 641.47,302.05 642.61,301.96 643.75,301.82 644.89,301.77 646.03,301.48 647.17,301.42 648.32,301.38 649.46,301.83 650.60,302.10 651.74,302.50 652.88,302.57 654.02,302.97 655.16,302.91 656.30,302.95 657.45,302.60 658.59,302.51 659.73,302.28 660.87,302.32 662.01,302.39 663.15,302.29 664.29,302.15 665.43,301.82 666.58,301.64 667.72,301.59 668.86,301.62 668.86,318.57 667.72,318.77 666.58,318.74 665.43,318.94 664.29,319.01 663.15,319.24 662.01,319.32 660.87,319.20 659.73,319.20 658.59,319.17 657.45,319.23 656.30,319.57 655.16,319.82 654.02,319.69 652.88,318.92 651.74,318.48 650.60,318.02 649.46,317.92 648.32,317.70 647.17,317.74 646.03,317.74 644.89,317.95 643.75,317.90 642.61,318.10 641.47,318.06 640.33,318.45 639.19,318.41 638.04,318.80 636.90,319.14 635.76,319.65 634.62,319.76 633.48,319.35 632.34,318.72 631.20,318.15 630.06,317.66 628.91,317.21 627.77,316.93 626.63,316.87 625.49,314.82 624.40,312.08 624.35,283.50 624.30,254.95 623.21,247.34 622.07,247.17 620.93,247.17 619.78,247.32 618.64,247.41 617.50,247.34 616.36,247.25 615.22,247.17 614.08,247.17 612.94,247.17 611.80,247.17 610.65,247.17 609.51,247.17 608.37,247.17 607.23,247.17 606.09,247.17 604.95,247.17 603.81,247.20 602.67,247.19 601.52,247.20 600.38,247.36 599.24,247.28 598.10,247.53 596.96,247.33 595.82,247.63 594.68,247.81 593.54,248.27 592.39,248.60 591.25,248.81 590.11,249.10 588.97,249.23 587.83,249.64 586.69,249.76 585.55,250.29 584.41,251.59 583.26,253.56 582.12,256.55 580.98,265.23 579.84,284.07 578.75,307.97 578.70,317.30 578.65,326.02 577.56,322.88 576.42,322.66 575.28,323.04 574.13,323.38 572.99,323.49 571.85,323.67 570.71,323.35 569.57,323.45 568.43,323.19 567.29,323.31 566.15,323.22 565.00,323.37 563.86,323.53 562.72,323.74 561.58,323.70 560.44,323.57 559.30,323.74 558.16,324.07 557.02,324.16 555.88,324.23 554.73,324.09 553.59,324.17 552.45,324.21 551.31,324.41 550.17,324.68 549.03,324.51 547.89,324.32 546.75,324.16 545.60,324.20 544.46,324.56 543.32,324.48 542.18,324.54 541.04,324.42 539.90,324.18 538.76,323.66 537.62,323.11 536.47,322.81 535.33,322.56 534.19,318.68 533.10,314.52 533.05,283.03 533.00,251.37 531.91,253.19 530.77,254.72 529.63,255.84 528.49,256.75 527.34,257.60 526.20,258.46 525.06,259.31 523.92,260.25 522.78,260.93 521.64,261.73 520.50,262.31 519.36,263.18 518.21,263.57 517.07,264.98 515.93,265.74 514.79,266.82 513.65,267.51 512.51,268.80 511.37,269.61 510.22,270.11 509.08,270.49 507.94,269.83 506.80,269.73 505.66,269.27 504.52,269.38 503.38,269.23 502.24,269.22 501.09,270.59 499.95,271.22 498.81,271.49 497.67,270.37 496.53,270.06 495.39,270.79 494.25,273.03 493.11,276.13 491.96,281.44 490.82,287.90 489.68,297.24 488.54,308.48 487.40,322.91" fill="#9467bd" fill-opacity="0.20" stroke="none"/>
<polygon points="487.40,315.45 488.54,316.73 489.68,317.13 490.82,317.38 491.96,317.42 493.11,317.60 494.25,317.44 495.39,317.68 496.53,317.76 497.67,318.08 498.81,318.01 499.95,318.11 501.09,318.22 502.24,318.41 503.38,318.38 504.52,318.24 505.66,318.18 506.80,318.43 507.94,318.56 509.08,318.70 510.22,318.57 511.37,318.58 512.51,318.75 513.65,319.01 514.79,319.12 515.93,319.22 517.07,319.41 518.21,319.81 519.36,319.90 520.50,319.83 521.64,319.62 522.78,319.65 523.92,319.73 525.06,319.67 526.20,319.72 527.34,319.55 528.49,319.87 529.63,320.03 530.77,320.01 531.91,319.71 533.00,318.05 533.05,311.92 533.10,305.92 534.19,282.72 535.33,270.41 536.47,264.55 537.62,259.80 538.76,257.09 539.90,254.58 541.04,252.71 542.18,250.85 543.32,249.70 544.46,248.74 545.60,248.41 546.75,247.96 547.89,247.58 549.03,247.26 550.17,247.17 551.31,247.17 552.45,247.17 553.59,247.17 554.73,247.18 555.88,247.51 557.02,247.47 558.16,247.35 559.30,247.18 560.44,247.28 561.58,247.51 562.72,247.62 563.86,247.65 565.00,248.04 566.15,247.99 567.29,247.81 568.43,247.44 569.57,247.21 570.71,247.24 571.85,247.38 572.99,247.44 574.13,247.37 575.28,247.20 576.42,247.17 577.56,247.17 578.65,247.17 578.70,266.44 578.75,292.85 579.84,300.87 580.98,309.68 582.12,310.01 583.26,310.53 584.41,310.86 585.55,311.05 586.69,311.47 587.83,312.01 588.97,312.57 590.11,312.97 591.25,312.73 592.39,312.48 593.54,312.05 594.68,311.89 595.82,312.00 596.96,311.91 598.10,311.85 599.24,311.58 600.38,311.43 601.52,311.35 602.67,310.98 603.81,310.90 604.95,310.88 606.09,310.88 607.23,310.86 608.37,310.87 609.51,311.11 610.65,310.99 611.80,310.85 612.94,310.75 614.08,310.81 615.22,311.06 616.36,311.06 617.50,311.04 618.64,310.78 619.78,310.69 620.93,310.74 622.07,311.06 623.21,311.24 624.30,314.02 624.35,304.79 624.40,295.86 625.49,264.22 626.63,255.61 627.77,247.17 628.91,247.17 630.06,247.17 631.20,247.47 632.34,247.22 633.48,247.17 634.62,247.17 635.76,247.17 636.90,247.17 638.04,247.17 639.19,247.17 640.33,247.17 641.47,247.17 642.61,247.17 643.75,247.23 644.89,247.18 646.03,247.17 647.17,247.17 648.32,247.17 649.46,247.17 650.60,247.17 651.74,247.17 652.88,247.17 654.02,247.19 655.16,247.17 656.30,247.21 657.45,247.17 658.59,247.21 659.73,247.17 660.87,247.19 662.01,247.17 663.15,247.17 664.29,247.21 665.43,247.22 666.58,247.31 667.72,247.17 668.86,247.17 668.86,247.17 667.72,247.28 666.58,247.46 665.43,247.44 664.29,247.23 663.15,247.17 662.01,247.17 660.87,247.17 659.73,247.20 658.59,247.17 657.45,247.25 656.30,247.27 655.16,247.42 654.02,247.48 652.88,247.48 651.74,247.50 650.60,247.29 649.46,247.26 648.32,247.17 647.17,247.17 646.03,247.17 644.89,247.17 643.75,247.17 642.61,247.22 641.47,247.35 640.33,247.31 639.19,247.17 638.04,247.17 636.90,247.28 635.76,247.29 634.62,247.25 633.48,247.17 632.34,247.17 631.20,247.17 630.06,248.21 628.91,249.70 627.77,250.94 626.63,260.89 625.49,271.04 624.40,304.17 624.35,313.44 624.30,322.50 623.21,325.69 622.07,325.85 620.93,325.94 619.78,325.83 618.64,325.75 617.50,325.75 616.36,325.78 615.22,325.51 614.08,325.54 612.94,325.36 611.80,325.71 610.65,325.64 609.51,325.96 608.37,325.77 607.23,325.76 606.09,325.57 604.95,325.43 603.81,325.36 602.67,325.64 601.52,325.84 600.38,326.14 599.24,326.16 598.10,326.48 596.96,326.51 595.82,326.68 594.68,326.76 593.54,326.91 592.39,327.05 591.25,327.28 590.11,327.50 588.97,327.29 587.83,326.75 586.69,326.12 585.55,325.53 584.41,325.16 583.26,324.91 582.12,324.75 580.98,324.49 579.84,315.65 578.75,307.32 578.70,280.47 578.65,253.67 577.56,247.17 576.42,247.17 575.28,247.29 574.13,247.46 572.99,247.46 571.85,247.65 570.71,247.66 569.57,247.78 568.43,247.74 567.29,247.76 566.15,247.85 565.00,247.87 563.86,248.30 562.72,248.87 561.58,249.41 560.44,249.92 559.30,250.36 558.16,251.11 557.02,251.86 555.88,252.63 554.73,253.12 553.59,253.67 552.45,254.63 551.31,255.66 550.17,256.90 549.03,257.84 547.89,258.74 546.75,260.27 545.60,261.59 544.46,263.12 543.32,264.95 542.18,267.34 541.04,268.75 539.90,270.18 538.76,272.34 537.62,274.75 536.47,278.99 535.33,284.07 534.19,295.97 533.10,318.79 533.05,324.45 533.00,330.16 531.91,325.87 530.77,326.28 529.63,326.27 528.49,326.18 527.34,326.08 526.20,326.28 525.06,326.29 523.92,326.25 522.78,326.30 521.64,326.42 520.50,326.71 519.36,326.67 518.21,326.59 517.07,326.24 515.93,326.21 514.79,326.07 513.65,325.97 512.51,325.81 511.37,325.58 510.22,325.60 509.08,325.80 507.94,325.87 506.80,325.95 505.66,325.85 504.52,325.95 503.38,325.95 502.24,325.95 501.09,325.89 499.95,325.75 498.81,325.66 497.67,325.64 496.53,325.58 495.39,325.42 494.25,325.39 493.11,325.52 491.96,325.46 490.82,325.47 489.68,325.52 488.54,325.15 487.40,323.77" fill="#ff7f0e" fill-opacity="0.20" stroke="none"/>
<line x1="533.05" y1="243.10" x2="533.05" y2="332.60" stroke="#000" stroke-width="0.80" stroke-dasharray="2.2,1.26"/>
<line x1="578.70" y1="243.10" x2="578.70" y2="332.60" stroke="#000" stroke-width="0.80" stroke-dasharray="2.2,1.26"/>
<line x1="624.35" y1="243.10" x2="624.35" y2="332.60" stroke="#000" stroke-width="0.80" stroke-dasharray="2.2,1.26"/>
<polyline points="487.40,320.41 488.54,305.86 489.68,294.70 490.82,285.64 491.96,279.47 493.11,273.82 494.25,270.56 495.39,268.16 496.53,267.56 497.67,267.97 498.81,269.10 499.95,268.19 501.09,266.60 502.24,265.25 503.38,265.06 504.52,265.12 505.66,264.87 506.80,265.23 507.94,265.50 509.08,266.22 510.22,265.85 511.37,265.20 512.51,264.36 513.65,263.09 514.79,262.21 515.93,261.01 517.07,260.15 518.21,258.85 519.36,258.32 520.50,257.49 521.64,256.89 522.78,256.13 523.92,255.47 525.06,254.62 526.20,253.88 527.34,253.23 528.49,252.79 529.63,252.01 530.77,250.99 531.91,249.30 533.00,249.25 533.05,280.75 533.10,312.36 534.19,316.35 535.33,320.37 536.47,320.43 537.62,320.73 538.76,321.11 539.90,321.58 541.04,321.84 542.18,322.05 543.32,322.16 544.46,322.39 545.60,322.25 546.75,322.23 547.89,322.34 549.03,322.52 550.17,322.76 551.31,322.71 552.45,322.39 553.59,322.39 554.73,322.23 555.88,322.59 557.02,322.52 558.16,322.70 559.30,322.38 560.44,322.35 561.58,322.22 562.72,322.24 563.86,322.04 565.00,322.12 566.15,322.18 567.29,322.23 568.43,322.15 569.57,322.19 570.71,322.29 571.85,322.65 572.99,322.77 574.13,322.75 575.28,322.35 576.42,321.99 577.56,322.00 578.65,322.16 578.70,313.43 578.75,304.17 579.84,280.67 580.98,261.93 582.12,253.63 583.26,251.08 584.41,249.79 585.55,248.73 586.69,248.55 587.83,248.41 588.97,248.29 590.11,248.08 591.25,247.92 592.39,247.77 593.54,247.63 594.68,247.55 595.82,247.49 596.96,247.42 598.10,247.36 599.24,247.29 600.38,247.23 601.52,247.17 602.67,247.17 603.81,247.17 604.95,247.17 606.09,247.17 607.23,247.17 608.37,247.17 609.51,247.17 610.65,247.17 611.80,247.17 612.94,247.17 614.08,247.17 615.22,247.17 616.36,247.17 617.50,247.17 618.64,247.17 619.78,247.17 620.93,247.17 622.07,247.17 623.21,247.17 624.30,247.17 624.35,275.51 624.40,304.10 625.49,307.42 626.63,309.83 627.77,310.37 628.91,311.19 630.06,311.98 631.20,312.71 632.34,313.32 633.48,313.85 634.62,314.06 635.76,314.10 636.90,313.93 638.04,313.74 639.19,313.36 640.33,313.40 641.47,313.21 642.61,313.25 643.75,313.11 644.89,313.16 646.03,313.09 647.17,313.13 648.32,313.25 649.46,313.65 650.60,314.10 651.74,314.51 652.88,314.72 654.02,315.22 655.16,315.45 656.30,315.56 657.45,315.43 658.59,315.51 659.73,315.46 660.87,315.53 662.01,315.61 663.15,315.67 664.29,315.62 665.43,315.49 666.58,315.45 667.72,315.54 668.86,315.57" fill="none" stroke="#9467bd" stroke-width="1.20" stroke-linejoin="round"/>
<polyline points="487.40,320.37 488.54,321.72 489.68,322.25 490.82,322.31 491.96,322.42 493.11,322.46 494.25,322.45 495.39,322.52 496.53,322.64 497.67,322.77 498.81,322.82 499.95,322.90 501.09,323.04 502.24,323.18 503.38,323.28 504.52,323.28 505.66,323.20 506.80,323.27 507.94,323.35 509.08,323.33 510.22,323.34 511.37,323.38 512.51,323.71 513.65,323.88 514.79,324.02 515.93,324.14 517.07,324.22 518.21,324.41 519.36,324.50 520.50,324.56 521.64,324.40 522.78,324.38 523.92,324.41 525.06,324.48 526.20,324.56 527.34,324.48 528.49,324.66 529.63,324.66 530.77,324.66 531.91,324.49 533.00,324.39 533.05,318.31 533.10,312.28 534.19,289.30 535.33,277.16 536.47,271.75 537.62,267.33 538.76,264.76 539.90,262.34 541.04,260.62 542.18,259.08 543.32,257.43 544.46,255.96 545.60,254.96 546.75,253.94 547.89,253.12 549.03,252.53 550.17,252.03 551.31,251.37 552.45,250.85 553.59,250.34 554.73,250.03 555.88,249.83 557.02,249.55 558.16,249.21 559.30,248.95 560.44,248.72 561.58,248.54 562.72,248.33 563.86,248.12 565.00,247.93 566.15,247.86 567.29,247.77 568.43,247.75 569.57,247.67 570.71,247.61 571.85,247.52 572.99,247.45 574.13,247.39 575.28,247.32 576.42,247.24 577.56,247.17 578.65,247.17 578.70,273.60 578.75,300.17 579.84,308.22 580.98,317.09 582.12,317.40 583.26,317.73 584.41,318.05 585.55,318.26 586.69,318.79 587.83,319.27 588.97,319.81 590.11,320.09 591.25,319.93 592.39,319.78 593.54,319.57 594.68,319.47 595.82,319.44 596.96,319.33 598.10,319.20 599.24,319.02 600.38,318.86 601.52,318.68 602.67,318.36 603.81,318.20 604.95,318.21 606.09,318.34 607.23,318.47 608.37,318.49 609.51,318.48 610.65,318.20 611.80,318.21 612.94,318.19 614.08,318.36 615.22,318.42 616.36,318.37 617.50,318.31 618.64,318.19 619.78,318.32 620.93,318.28 622.07,318.42 623.21,318.32 624.30,318.27 624.35,309.09 624.40,300.01 625.49,267.60 626.63,258.22 627.77,248.86 628.91,248.21 630.06,247.56 631.20,247.17 632.34,247.17 633.48,247.17 634.62,247.17 635.76,247.17 636.90,247.17 638.04,247.17 639.19,247.17 640.33,247.17 641.47,247.17 642.61,247.17 643.75,247.17 644.89,247.17 646.03,247.17 647.17,247.17 648.32,247.17 649.46,247.17 650.60,247.17 651.74,247.17 652.88,247.17 654.02,247.17 655.16,247.17 656.30,247.17 657.45,247.17 658.59,247.17 659.73,247.17 660.87,247.17 662.01,247.17 663.15,247.17 664.29,247.17 665.43,247.17 666.58,247.17 667.72,247.17 668.86,247.17" fill="none" stroke="#ff7f0e" stroke-width="1.20" stroke-linejoin="round"/>
<polyline points="487.40,328.22 488.54,328.23 489.68,328.24 490.82,328.21 491.96,328.21 493.11,328.19 494.25,328.17 495.39,328.13 496.53,328.15 497.67,328.20 498.81,328.21 499.95,328.24 501.09,328.25 502.24,328.25 503.38,328.22 504.52,328.16 505.66,328.18 506.80,328.20 507.94,328.26 509.08,328.24 510.22,328.23 511.37,328.17 512.51,328.17 513.65,328.17 514.79,328.20 515.93,328.19 517.07,328.18 518.21,328.19 519.36,328.17 520.50,328.21 521.64,328.20 522.78,328.22 523.92,328.19 525.06,328.21 526.20,328.18 527.34,328.22 528.49,328.19 529.63,328.23 530.77,328.16 531.91,328.17 533.00,328.13 533.05,328.15 533.10,328.13 534.19,328.16 535.33,328.19 536.47,328.24 537.62,328.21 538.76,328.23 539.90,328.19 541.04,328.22 542.18,328.21 543.32,328.25 544.46,328.26 545.60,328.27 546.75,328.24 547.89,328.21 549.03,328.16 550.17,328.18 551.31,328.19 552.45,328.21 553.59,328.19 554.73,328.18 555.88,328.18 557.02,328.23 558.16,328.24 559.30,328.24 560.44,328.22 561.58,328.22 562.72,328.25 563.86,328.24 565.00,328.23 566.15,328.16 567.29,328.18 568.43,328.19 569.57,328.25 570.71,328.23 571.85,328.23 572.99,328.20 574.13,328.18 575.28,328.17 576.42,328.19 577.56,328.18 578.65,328.18 578.70,328.15 578.75,328.21 579.84,328.17 580.98,328.22 582.12,328.20 583.26,328.24 584.41,328.25 585.55,328.22 586.69,328.23 587.83,328.20 588.97,328.23 590.11,328.22 591.25,328.23 592.39,328.21 593.54,328.18 594.68,328.17 595.82,328.16 596.96,328.23 598.10,328.23 599.24,328.21 600.38,328.19 601.52,328.20 602.67,328.28 603.81,328.29 604.95,328.33 606.09,328.27 607.23,328.25 608.37,328.21 609.51,328.22 610.65,328.20 611.80,328.22 612.94,328.21 614.08,328.22 615.22,328.20 616.36,328.20 617.50,328.23 618.64,328.23 619.78,328.21 620.93,328.24 622.07,328.23 623.21,328.26 624.30,328.22 624.35,328.18 624.40,328.18 625.49,328.15 626.63,328.16 627.77,328.16 628.91,328.18 630.06,328.20 631.20,328.22 632.34,328.21 633.48,328.22 634.62,328.21 635.76,328.26 636.90,328.27 638.04,328.26 639.19,328.23 640.33,328.21 641.47,328.23 642.61,328.19 643.75,328.17 644.89,328.16 646.03,328.18 647.17,328.20 648.32,328.21 649.46,328.18 650.60,328.13 651.74,328.16 652.88,328.20 654.02,328.23 655.16,328.22 656.30,328.23 657.45,328.21 658.59,328.20 659.73,328.18 660.87,328.23 662.01,328.21 663.15,328.23 664.29,328.18 665.43,328.18 666.58,328.16 667.72,328.20 668.86,328.22" fill="none" stroke="#2ca02c" stroke-width="1.20" stroke-linejoin="round"/>
<polyline points="487.40,292.06 488.54,313.76 489.68,321.32 490.82,325.83 491.96,328.32 493.11,328.85 494.25,329.39 495.39,329.92 496.53,330.46 497.67,330.57 498.81,330.69 499.95,330.80 501.09,330.92 502.24,331.03 503.38,331.15 504.52,331.26 505.66,331.38 506.80,331.49 507.94,331.61 509.08,331.72 510.22,331.84 511.37,331.84 512.51,331.85 513.65,331.86 514.79,331.87 515.93,331.88 517.07,331.88 518.21,331.89 519.36,331.90 520.50,331.91 521.64,331.92 522.78,331.92 523.92,331.93 525.06,331.94 526.20,331.95 527.34,331.96 528.49,331.96 529.63,331.97 530.77,331.98 531.91,331.99 533.00,331.99 533.05,328.47 533.10,324.95 534.19,330.31 535.33,330.81 536.47,331.33 537.62,331.84 538.76,331.84 539.90,331.85 541.04,331.85 542.18,331.86 543.32,331.86 544.46,331.87 545.60,331.87 546.75,331.88 547.89,331.88 549.03,331.89 550.17,331.89 551.31,331.90 552.45,331.90 553.59,331.91 554.73,331.91 555.88,331.92 557.02,331.93 558.16,331.93 559.30,331.94 560.44,331.94 561.58,331.95 562.72,331.95 563.86,331.96 565.00,331.96 566.15,331.97 567.29,331.97 568.43,331.98 569.57,331.98 570.71,331.99 571.85,331.99 572.99,332.00 574.13,332.01 575.28,332.01 576.42,332.02 577.56,332.02 578.65,332.03 578.70,332.03 578.75,332.03 579.84,332.03 580.98,332.04 582.12,332.04 583.26,332.05 584.41,332.05 585.55,332.06 586.69,332.06 587.83,332.07 588.97,332.07 590.11,332.08 591.25,332.09 592.39,332.09 593.54,332.10 594.68,332.10 595.82,332.11 596.96,332.11 598.10,332.12 599.24,332.12 600.38,332.13 601.52,332.13 602.67,332.14 603.81,332.14 604.95,332.15 606.09,332.15 607.23,332.16 608.37,332.16 609.51,332.17 610.65,332.18 611.80,332.18 612.94,332.19 614.08,332.19 615.22,332.20 616.36,332.20 617.50,332.21 618.64,332.21 619.78,332.22 620.93,332.22 622.07,332.23 623.21,332.23 624.30,332.24 624.35,332.24 624.40,332.24 625.49,332.24 626.63,332.25 627.77,332.26 628.91,332.26 630.06,332.27 631.20,332.27 632.34,332.28 633.48,332.28 634.62,332.29 635.76,332.29 636.90,332.30 638.04,332.30 639.19,332.31 640.33,332.31 641.47,332.32 642.61,332.32 643.75,332.33 644.89,332.34 646.03,332.34 647.17,332.35 648.32,332.35 649.46,332.36 650.60,332.36 651.74,332.37 652.88,332.37 654.02,332.38 655.16,332.38 656.30,332.39 657.45,332.39 658.59,332.40 659.73,332.40 660.87,332.41 662.01,332.42 663.15,332.42 664.29,332.43 665.43,332.43 666.58,332.44 667.72,332.44 668.86,332.45" fill="none" stroke="#7f7f7f" stroke-width="1.20" stroke-linejoin="round"/>
</g>
<g clip-path="url(#c13)">
<polygon points="487.40,426.68 488.54,420.12 489.68,413.51 490.82,407.18 491.96,401.08 493.11,394.90 494.25,392.14 495.39,388.38 496.53,386.51 497.67,385.18 498.81,383.83 499.95,382.50 501.09,381.16 502.24,379.98 503.38,378.78 504.52,377.83 505.66,377.13 506.80,376.55 507.94,375.77 509.08,375.27 510.22,374.89 511.37,374.43 512.51,373.97 513.65,372.94 514.79,372.00 515.93,371.06 517.07,370.14 518.21,369.66 519.36,369.06 520.50,368.67 521.64,367.93 522.78,367.46 523.92,366.83 525.06,366.39 526.20,366.08 527.34,365.93 528.49,366.10 529.63,366.38 530.77,366.57 531.91,366.79 533.00,365.85 533.05,365.67 533.10,365.56 534.19,364.33 535.33,363.33 536.47,362.53 537.62,362.07 538.76,361.82 539.90,361.42 541.04,361.32 542.18,360.89 543.32,360.58 544.46,360.26 545.60,360.05 546.75,360.03 547.89,359.94 549.03,359.87 550.17,359.65 551.31,359.50 552.45,359.11 553.59,359.02 554.73,358.51 555.88,358.17 557.02,357.58 558.16,357.41 559.30,357.12 560.44,356.80 561.58,356.69 562.72,356.53 563.86,356.47 565.00,356.41 566.15,356.46 567.29,356.42 568.43,356.08 569.57,355.82 570.71,355.77 571.85,355.80 572.99,355.78 574.13,355.83 575.28,355.77 576.42,355.77 577.56,355.77 578.65,355.86 578.70,355.92 578.75,355.77 579.84,355.77 580.98,355.77 582.12,355.82 583.26,355.96 584.41,356.05 585.55,355.89 586.69,355.77 587.83,355.77 588.97,355.80 590.11,355.87 591.25,355.96 592.39,355.91 593.54,355.85 594.68,355.77 595.82,355.77 596.96,355.77 598.10,355.78 599.24,355.81 600.38,355.86 601.52,355.91 602.67,355.91 603.81,355.77 604.95,355.77 606.09,355.77 607.23,355.83 608.37,355.84 609.51,355.82 610.65,355.90 611.80,355.88 612.94,355.89 614.08,355.78 615.22,355.77 616.36,355.77 617.50,355.77 618.64,355.77 619.78,355.79 620.93,355.77 622.07,355.77 623.21,355.77 624.30,355.77 624.35,355.80 624.40,355.77 625.49,355.77 626.63,355.77 627.77,355.77 628.91,355.80 630.06,355.77 631.20,355.77 632.34,355.77 633.48,355.77 634.62,355.77 635.76,355.86 636.90,355.91 638.04,355.83 639.19,355.82 640.33,355.77 641.47,355.80 642.61,355.80 643.75,355.91 644.89,355.86 646.03,355.87 647.17,355.78 648.32,355.78 649.46,355.77 650.60,355.77 651.74,355.77 652.88,355.86 654.02,355.82 655.16,355.77 656.30,355.77 657.45,355.77 658.59,355.77 659.73,355.92 660.87,355.87 662.01,355.77 663.15,355.77 664.29,355.78 665.43,355.77 666.58,355.77 667.72,355.77 668.86,355.84 668.86,355.82 667.72,355.79 666.58,355.82 665.43,355.77 664.29,355.77 663.15,355.77 662.01,355.77 660.87,355.77 659.73,355.77 658.59,355.77 657.45,355.77 656.30,355.77 655.16,355.77 654.02,355.77 652.88,355.87 651.74,355.92 650.60,355.97 649.46,355.81 648.32,355.77 647.17,355.77 646.03,355.85 644.89,355.95 643.75,355.87 642.61,355.90 641.47,355.81 640.33,355.86 639.19,355.77 638.04,355.77 636.90,355.78 635.76,355.85 634.62,355.77 633.48,355.78 632.34,355.77 631.20,355.93 630.06,355.79 628.91,355.77 627.77,355.82 626.63,355.90 625.49,356.03 624.40,355.93 624.35,355.86 624.30,355.77 623.21,355.77 622.07,355.77 620.93,355.77 619.78,355.77 618.64,355.77 617.50,355.77 616.36,355.83 615.22,355.92 614.08,355.85 612.94,355.77 611.80,355.77 610.65,355.77 609.51,355.77 608.37,355.78 607.23,355.77 606.09,355.88 604.95,355.77 603.81,355.84 602.67,355.80 601.52,355.78 600.38,355.78 599.24,355.85 598.10,355.98 596.96,355.89 595.82,355.82 594.68,355.77 593.54,355.78 592.39,355.87 591.25,355.79 590.11,355.86 588.97,355.87 587.83,355.91 586.69,355.78 585.55,355.77 584.41,355.77 583.26,355.77 582.12,355.77 580.98,355.88 579.84,355.99 578.75,355.91 578.70,355.77 578.65,355.77 577.56,355.87 576.42,356.15 575.28,356.37 574.13,356.55 572.99,356.79 571.85,357.12 570.71,357.54 569.57,357.83 568.43,358.27 567.29,358.64 566.15,359.11 565.00,359.25 563.86,359.71 562.72,360.01 561.58,360.41 560.44,360.63 559.30,361.06 558.16,361.70 557.02,362.33 555.88,363.19 554.73,363.64 553.59,364.25 552.45,364.36 551.31,364.72 550.17,364.79 549.03,365.06 547.89,365.17 546.75,365.38 545.60,365.64 544.46,365.89 543.32,366.10 542.18,366.43 541.04,367.01 539.90,367.45 538.76,367.89 537.62,368.14 536.47,368.52 535.33,369.49 534.19,370.72 533.10,371.98 533.05,372.01 533.00,372.06 531.91,372.98 530.77,372.92 529.63,372.76 528.49,372.62 527.34,372.47 526.20,372.80 525.06,373.17 523.92,373.50 522.78,374.14 521.64,374.62 520.50,375.54 519.36,376.20 518.21,376.91 517.07,377.41 515.93,378.27 514.79,379.41 513.65,380.47 512.51,381.43 511.37,381.66 510.22,382.42 509.08,382.96 507.94,383.74 506.80,384.37 505.66,385.06 504.52,385.72 503.38,386.56 502.24,387.81 501.09,389.08 499.95,390.48 498.81,391.44 497.67,392.69 496.53,393.51 495.39,395.07 494.25,398.49 493.11,401.12 491.96,407.05 490.82,412.75 489.68,418.67 488.54,424.86 487.40,431.26" fill="#9467bd" fill-opacity="0.20" stroke="none"/>
<polygon points="487.40,429.91 488.54,425.24 489.68,420.62 490.82,415.22 491.96,409.52 493.11,404.19 494.25,400.41 495.39,396.96 496.53,393.26 497.67,389.45 498.81,385.60 499.95,383.42 501.09,381.08 502.24,378.90 503.38,377.47 504.52,377.75 505.66,377.99 506.80,378.20 507.94,378.07 509.08,377.20 510.22,376.47 511.37,375.60 512.51,375.33 513.65,375.18 514.79,374.96 515.93,374.68 517.07,374.46 518.21,374.69 519.36,375.19 520.50,375.65 521.64,375.94 522.78,375.53 523.92,375.04 525.06,374.68 526.20,373.85 527.34,372.79 528.49,371.98 529.63,371.42 530.77,371.07 531.91,370.19 533.00,369.42 533.05,369.13 533.10,368.91 534.19,368.17 535.33,367.85 536.47,367.55 537.62,367.52 538.76,366.86 539.90,366.17 541.04,365.20 542.18,364.99 543.32,365.10 544.46,365.19 545.60,365.04 546.75,364.43 547.89,363.07 549.03,361.77 550.17,361.52 551.31,362.03 552.45,362.70 553.59,361.90 554.73,360.41 555.88,358.52 557.02,358.46 558.16,358.70 559.30,359.18 560.44,359.37 561.58,359.80 562.72,359.42 563.86,358.70 565.00,358.09 566.15,357.60 567.29,357.40 568.43,357.06 569.57,356.88 570.71,356.65 571.85,356.45 572.99,356.14 574.13,356.22 575.28,356.08 576.42,356.29 577.56,356.26 578.65,356.18 578.70,356.04 578.75,355.83 579.84,355.99 580.98,355.97 582.12,356.04 583.26,355.87 584.41,355.77 585.55,355.77 586.69,355.77 587.83,355.77 588.97,355.77 590.11,355.77 591.25,355.77 592.39,355.77 593.54,355.77 594.68,355.77 595.82,355.77 596.96,355.77 598.10,355.77 599.24,355.77 600.38,355.77 601.52,355.77 602.67,355.77 603.81,355.77 604.95,355.77 606.09,356.09 607.23,356.11 608.37,355.80 609.51,355.77 610.65,355.77 611.80,355.96 612.94,355.78 614.08,355.77 615.22,355.77 616.36,355.99 617.50,356.24 618.64,356.33 619.78,356.23 620.93,355.95 622.07,355.81 623.21,355.77 624.30,355.83 624.35,355.97 624.40,356.01 625.49,355.91 626.63,355.77 627.77,355.77 628.91,355.77 630.06,355.77 631.20,355.77 632.34,355.82 633.48,355.77 634.62,355.77 635.76,355.77 636.90,355.77 638.04,355.77 639.19,355.77 640.33,355.77 641.47,355.93 642.61,355.91 643.75,355.78 644.89,355.77 646.03,355.77 647.17,355.82 648.32,355.86 649.46,355.80 650.60,355.81 651.74,355.80 652.88,355.78 654.02,355.77 655.16,355.84 656.30,355.99 657.45,356.12 658.59,355.90 659.73,356.04 660.87,355.96 662.01,356.20 663.15,356.13 664.29,356.10 665.43,356.10 666.58,355.89 667.72,355.92 668.86,355.83 668.86,355.97 667.72,356.19 666.58,355.93 665.43,355.81 664.29,355.79 663.15,355.87 662.01,355.90 660.87,355.82 659.73,355.91 658.59,355.80 657.45,355.82 656.30,355.89 655.16,355.95 654.02,355.82 652.88,355.77 651.74,355.77 650.60,355.77 649.46,355.78 648.32,355.80 647.17,356.14 646.03,355.85 644.89,355.84 643.75,355.77 642.61,355.77 641.47,355.77 640.33,355.77 639.19,355.83 638.04,355.89 636.90,356.18 635.76,355.96 634.62,355.77 633.48,355.77 632.34,355.82 631.20,356.08 630.06,356.07 628.91,355.93 627.77,355.77 626.63,355.77 625.49,355.77 624.40,355.77 624.35,355.77 624.30,355.77 623.21,355.77 622.07,355.77 620.93,355.77 619.78,355.81 618.64,355.88 617.50,355.77 616.36,355.77 615.22,355.77 614.08,355.77 612.94,355.77 611.80,355.88 610.65,355.86 609.51,356.05 608.37,355.77 607.23,355.77 606.09,355.77 604.95,356.14 603.81,356.57 602.67,356.86 601.52,356.95 600.38,357.10 599.24,357.35 598.10,357.63 596.96,357.97 595.82,358.09 594.68,358.20 593.54,358.46 592.39,358.94 591.25,359.26 590.11,359.78 588.97,360.15 587.83,360.51 586.69,360.61 585.55,360.69 584.41,360.81 583.26,361.03 582.12,361.47 580.98,362.00 579.84,362.67 578.75,362.85 578.70,362.98 578.65,362.70 577.56,362.91 576.42,362.80 575.28,362.93 574.13,363.10 572.99,363.14 571.85,363.44 570.71,363.57 569.57,364.09 568.43,364.52 567.29,364.95 566.15,365.36 565.00,366.09 563.86,366.86 562.72,367.47 561.58,374.85 560.44,367.44 559.30,366.96 558.16,366.04 557.02,365.66 555.88,365.48 554.73,367.58 553.59,369.51 552.45,370.34 551.31,369.62 550.17,369.35 549.03,369.92 547.89,371.48 546.75,372.85 545.60,374.97 544.46,377.36 543.32,375.05 542.18,373.11 541.04,373.59 539.90,374.39 538.76,375.03 537.62,375.71 536.47,376.22 535.33,376.64 534.19,376.95 533.10,377.45 533.05,377.42 533.00,377.72 531.91,378.39 530.77,379.38 529.63,379.72 528.49,380.72 527.34,381.58 526.20,382.82 525.06,383.44 523.92,383.89 522.78,383.93 521.64,384.07 520.50,383.84 519.36,383.51 518.21,383.19 517.07,383.03 515.93,383.24 514.79,383.68 513.65,383.92 512.51,384.39 511.37,384.92 510.22,385.42 509.08,386.14 507.94,386.81 506.80,387.31 505.66,387.02 504.52,386.78 503.38,386.49 502.24,387.83 501.09,390.08 499.95,392.20 498.81,394.13 497.67,397.75 496.53,401.48 495.39,404.88 494.25,408.06 493.11,411.55 491.96,416.82 490.82,422.29 489.68,427.43 488.54,431.84 487.40,436.33" fill="#ff7f0e" fill-opacity="0.20" stroke="none"/>
<polyline points="487.40,429.01 488.54,422.47 489.68,416.11 490.82,409.95 491.96,404.07 493.11,398.01 494.25,395.40 495.39,391.85 496.53,390.10 497.67,388.99 498.81,387.63 499.95,386.57 501.09,385.13 502.24,383.96 503.38,382.70 504.52,381.87 505.66,381.21 506.80,380.57 507.94,379.79 509.08,379.12 510.22,378.58 511.37,378.02 512.51,377.64 513.65,376.66 514.79,375.69 515.93,374.67 517.07,373.80 518.21,373.30 519.36,372.72 520.50,372.19 521.64,371.37 522.78,370.86 523.92,370.28 525.06,369.91 526.20,369.57 527.34,369.24 528.49,369.35 529.63,369.46 530.77,369.63 531.91,369.72 533.00,368.80 533.05,368.76 533.10,368.71 534.19,367.55 535.33,366.40 536.47,365.55 537.62,365.10 538.76,364.78 539.90,364.31 541.04,364.05 542.18,363.61 543.32,363.30 544.46,363.04 545.60,362.87 546.75,362.81 547.89,362.75 549.03,362.57 550.17,362.31 551.31,362.11 552.45,361.78 553.59,361.55 554.73,361.08 555.88,360.73 557.02,360.17 558.16,359.67 559.30,359.14 560.44,358.73 561.58,358.58 562.72,358.34 563.86,358.14 565.00,357.84 566.15,357.80 567.29,357.56 568.43,357.27 569.57,356.85 570.71,356.63 571.85,356.44 572.99,356.33 574.13,356.19 575.28,356.04 576.42,355.89 577.56,355.77 578.65,355.77 578.70,355.77 578.75,355.77 579.84,355.77 580.98,355.77 582.12,355.77 583.26,355.77 584.41,355.77 585.55,355.77 586.69,355.77 587.83,355.77 588.97,355.77 590.11,355.77 591.25,355.77 592.39,355.77 593.54,355.77 594.68,355.77 595.82,355.77 596.96,355.77 598.10,355.77 599.24,355.77 600.38,355.77 601.52,355.77 602.67,355.77 603.81,355.77 604.95,355.77 606.09,355.77 607.23,355.77 608.37,355.77 609.51,355.77 610.65,355.77 611.80,355.77 612.94,355.77 614.08,355.77 615.22,355.77 616.36,355.77 617.50,355.77 618.64,355.77 619.78,355.77 620.93,355.77 622.07,355.77 623.21,355.77 624.30,355.77 624.35,355.77 624.40,355.77 625.49,355.77 626.63,355.77 627.77,355.77 628.91,355.77 630.06,355.77 631.20,355.77 632.34,355.77 633.48,355.77 634.62,355.77 635.76,355.77 636.90,355.77 638.04,355.77 639.19,355.77 640.33,355.77 641.47,355.77 642.61,355.77 643.75,355.77 644.89,355.77 646.03,355.77 647.17,355.77 648.32,355.77 649.46,355.77 650.60,355.77 651.74,355.77 652.88,355.77 654.02,355.77 655.16,355.77 656.30,355.77 657.45,355.77 658.59,355.77 659.73,355.77 660.87,355.77 662.01,355.77 663.15,355.77 664.29,355.77 665.43,355.77 666.58,355.77 667.72,355.77 668.86,355.77" fill="none" stroke="#9467bd" stroke-width="1.20" stroke-linejoin="round"/>
<polyline points="487.40,433.14 488.54,428.37 489.68,423.75 490.82,418.59 491.96,413.34 493.11,407.90 494.25,404.11 495.39,400.67 496.53,397.14 497.67,393.30 498.81,389.20 499.95,387.16 501.09,384.90 502.24,382.79 503.38,381.41 504.52,381.67 505.66,381.91 506.80,382.09 507.94,381.96 509.08,381.30 510.22,380.55 511.37,379.77 512.51,379.35 513.65,379.29 514.79,379.06 515.93,378.71 517.07,378.53 518.21,378.65 519.36,378.98 520.50,379.14 521.64,379.39 522.78,379.23 523.92,378.98 525.06,378.68 526.20,377.87 527.34,376.76 528.49,375.75 529.63,374.91 530.77,374.36 531.91,373.60 533.00,372.89 533.05,372.80 533.10,372.67 534.19,372.03 535.33,371.50 536.47,371.06 537.62,370.81 538.76,370.31 539.90,369.63 541.04,368.93 542.18,368.60 543.32,368.60 544.46,368.63 545.60,368.68 546.75,368.26 547.89,366.76 549.03,365.20 550.17,364.65 551.31,365.18 552.45,365.77 553.59,364.94 554.73,363.35 555.88,361.62 557.02,361.57 558.16,361.87 559.30,362.23 560.44,362.46 561.58,362.71 562.72,362.38 563.86,361.69 565.00,361.08 566.15,360.45 567.29,360.24 568.43,359.79 569.57,359.48 570.71,359.26 571.85,359.09 572.99,358.83 574.13,358.79 575.28,358.73 576.42,358.86 577.56,358.65 578.65,358.40 578.70,358.35 578.75,358.35 579.84,358.34 580.98,358.15 582.12,357.96 583.26,357.89 584.41,357.75 585.55,357.64 586.69,357.38 587.83,357.14 588.97,356.90 590.11,356.71 591.25,356.43 592.39,356.32 593.54,356.22 594.68,356.14 595.82,356.06 596.96,355.98 598.10,355.92 599.24,355.90 600.38,355.87 601.52,355.86 602.67,355.84 603.81,355.82 604.95,355.79 606.09,355.77 607.23,355.77 608.37,355.77 609.51,355.77 610.65,355.77 611.80,355.77 612.94,355.77 614.08,355.77 615.22,355.77 616.36,355.77 617.50,355.77 618.64,355.77 619.78,355.77 620.93,355.77 622.07,355.77 623.21,355.77 624.30,355.77 624.35,355.77 624.40,355.77 625.49,355.77 626.63,355.77 627.77,355.77 628.91,355.77 630.06,355.77 631.20,355.77 632.34,355.77 633.48,355.77 634.62,355.77 635.76,355.77 636.90,355.77 638.04,355.77 639.19,355.77 640.33,355.77 641.47,355.77 642.61,355.77 643.75,355.77 644.89,355.77 646.03,355.77 647.17,355.77 648.32,355.77 649.46,355.77 650.60,355.77 651.74,355.77 652.88,355.77 654.02,355.77 655.16,355.77 656.30,355.77 657.45,355.77 658.59,355.77 659.73,355.77 660.87,355.77 662.01,355.77 663.15,355.77 664.29,355.77 665.43,355.77 666.58,355.77 667.72,355.77 668.86,355.77" fill="none" stroke="#ff7f0e" stroke-width="1.20" stroke-linejoin="round"/>
<polyline points="487.40,436.62 488.54,436.72 489.68,436.80 490.82,436.86 491.96,436.83 493.11,436.89 494.25,436.96 495.39,437.11 496.53,437.17 497.67,437.19 498.81,437.16 499.95,437.15 501.09,437.16 502.24,437.13 503.38,437.16 504.52,437.12 505.66,437.16 506.80,437.08 507.94,437.08 509.08,437.01 510.22,437.04 511.37,437.08 512.51,437.13 513.65,437.12 514.79,437.12 515.93,437.12 517.07,437.13 518.21,437.17 519.36,437.21 520.50,437.21 521.64,437.17 522.78,437.11 523.92,437.11 525.06,437.12 526.20,437.14 527.34,437.14 528.49,437.14 529.63,437.12 530.77,437.15 531.91,437.14 533.00,437.17 533.05,437.16 533.10,437.16 534.19,437.16 535.33,437.13 536.47,437.11 537.62,437.10 538.76,437.12 539.90,437.12 541.04,437.11 542.18,437.13 543.32,437.17 544.46,437.17 545.60,437.17 546.75,437.13 547.89,437.14 549.03,437.13 550.17,437.12 551.31,437.09 552.45,437.07 553.59,437.09 554.73,437.10 555.88,437.08 557.02,437.07 558.16,437.08 559.30,437.10 560.44,437.10 561.58,437.10 562.72,437.12 563.86,437.10 565.00,437.11 566.15,437.09 567.29,437.14 568.43,437.13 569.57,437.13 570.71,437.11 571.85,437.14 572.99,437.15 574.13,437.13 575.28,437.10 576.42,437.14 577.56,437.15 578.65,437.18 578.70,437.14 578.75,437.13 579.84,437.10 580.98,437.10 582.12,437.14 583.26,437.13 584.41,437.12 585.55,437.13 586.69,437.14 587.83,437.18 588.97,437.20 590.11,437.19 591.25,437.15 592.39,437.12 593.54,437.15 594.68,437.17 595.82,437.16 596.96,437.14 598.10,437.09 599.24,437.06 600.38,437.08 601.52,437.11 602.67,437.13 603.81,437.09 604.95,437.11 606.09,437.11 607.23,437.12 608.37,437.10 609.51,437.14 610.65,437.18 611.80,437.14 612.94,437.13 614.08,437.10 615.22,437.14 616.36,437.11 617.50,437.09 618.64,437.06 619.78,437.05 620.93,437.04 622.07,437.06 623.21,437.07 624.30,437.10 624.35,437.14 624.40,437.12 625.49,437.17 626.63,437.14 627.77,437.20 628.91,437.13 630.06,437.12 631.20,437.09 632.34,437.12 633.48,437.16 634.62,437.16 635.76,437.18 636.90,437.17 638.04,437.19 639.19,437.13 640.33,437.10 641.47,437.10 642.61,437.15 643.75,437.14 644.89,437.16 646.03,437.15 647.17,437.17 648.32,437.16 649.46,437.16 650.60,437.12 651.74,437.10 652.88,437.12 654.02,437.14 655.16,437.17 656.30,437.17 657.45,437.15 658.59,437.13 659.73,437.14 660.87,437.14 662.01,437.13 663.15,437.10 664.29,437.13 665.43,437.14 666.58,437.13 667.72,437.12 668.86,437.13" fill="none" stroke="#2ca02c" stroke-width="1.20" stroke-linejoin="round"/>
<polyline points="487.40,406.32 488.54,420.30 489.68,428.60 490.82,433.11 491.96,435.19 493.11,436.66 494.25,438.14 495.39,438.37 496.53,438.60 497.67,438.83 498.81,439.06 499.95,439.29 501.09,439.52 502.24,439.75 503.38,439.98 504.52,440.21 505.66,440.43 506.80,440.44 507.94,440.44 509.08,440.45 510.22,440.45 511.37,440.46 512.51,440.46 513.65,440.46 514.79,440.47 515.93,440.47 517.07,440.48 518.21,440.48 519.36,440.49 520.50,440.49 521.64,440.49 522.78,440.50 523.92,440.50 525.06,440.51 526.20,440.51 527.34,440.52 528.49,440.52 529.63,440.52 530.77,440.53 531.91,440.53 533.00,440.54 533.05,440.54 533.10,440.54 534.19,440.54 535.33,440.55 536.47,440.55 537.62,440.55 538.76,440.56 539.90,440.56 541.04,440.57 542.18,440.57 543.32,440.58 544.46,440.58 545.60,440.58 546.75,440.59 547.89,440.59 549.03,440.60 550.17,440.60 551.31,440.61 552.45,440.61 553.59,440.61 554.73,440.62 555.88,440.62 557.02,440.63 558.16,440.63 559.30,440.64 560.44,440.64 561.58,440.64 562.72,440.65 563.86,440.65 565.00,440.66 566.15,440.66 567.29,440.67 568.43,440.67 569.57,440.67 570.71,440.68 571.85,440.68 572.99,440.69 574.13,440.69 575.28,440.70 576.42,440.70 577.56,440.70 578.65,440.71 578.70,440.71 578.75,440.71 579.84,440.71 580.98,440.72 582.12,440.72 583.26,440.73 584.41,440.73 585.55,440.73 586.69,440.74 587.83,440.74 588.97,440.75 590.11,440.75 591.25,440.76 592.39,440.76 593.54,440.76 594.68,440.77 595.82,440.77 596.96,440.78 598.10,440.78 599.24,440.79 600.38,440.79 601.52,440.79 602.67,440.80 603.81,440.80 604.95,440.81 606.09,440.81 607.23,440.82 608.37,440.82 609.51,440.82 610.65,440.83 611.80,440.83 612.94,440.84 614.08,440.84 615.22,440.85 616.36,440.85 617.50,440.85 618.64,440.86 619.78,440.86 620.93,440.87 622.07,440.87 623.21,440.88 624.30,440.88 624.35,440.88 624.40,440.88 625.49,440.88 626.63,440.89 627.77,440.89 628.91,440.90 630.06,440.90 631.20,440.91 632.34,440.91 633.48,440.91 634.62,440.92 635.76,440.92 636.90,440.93 638.04,440.93 639.19,440.94 640.33,440.94 641.47,440.94 642.61,440.95 643.75,440.95 644.89,440.96 646.03,440.96 647.17,440.97 648.32,440.97 649.46,440.97 650.60,440.98 651.74,440.98 652.88,440.99 654.02,440.99 655.16,441.00 656.30,441.00 657.45,441.00 658.59,441.01 659.73,441.01 660.87,441.02 662.01,441.02 663.15,441.03 664.29,441.03 665.43,441.03 666.58,441.04 667.72,441.04 668.86,441.05" fill="none" stroke="#7f7f7f" stroke-width="1.20" stroke-linejoin="round"/>
</g>
<line x1="34.50" y1="44.70" x2="34.50" y2="56.79" stroke="#1f77b4" stroke-width="1.10"/>
<line x1="34.50" y1="72.27" x2="34.50" y2="158.01" stroke="#1f77b4" stroke-width="1.10"/>
<line x1="34.50" y1="51.50" x2="155.40" y2="44.70" stroke="#1f77b4" stroke-width="1.15"/>
<line x1="34.50" y1="107.78" x2="155.40" y2="44.70" stroke="#1f77b4" stroke-width="1.15" stroke-dasharray="4.2,1.8"/>
<circle cx="34.50" cy="51.50" r="1.90" fill="#1f77b4"/>
<path d="M32.90 106.18L36.10 109.38M32.90 109.38L36.10 106.18" stroke="#1f77b4" stroke-width="1.10" fill="none"/>
<line x1="34.50" y1="158.01" x2="34.50" y2="192.00" stroke="#d62728" stroke-width="1.10"/>
<line x1="34.50" y1="192.00" x2="34.50" y2="211.64" stroke="#d62728" stroke-width="1.10"/>
<line x1="34.50" y1="175.01" x2="155.40" y2="44.70" stroke="#d62728" stroke-width="1.15"/>
<line x1="34.50" y1="202.20" x2="155.40" y2="44.70" stroke="#d62728" stroke-width="1.15" stroke-dasharray="4.2,1.8"/>
<circle cx="34.50" cy="175.01" r="1.90" fill="#d62728"/>
<path d="M32.90 200.60L36.10 203.80M32.90 203.80L36.10 200.60" stroke="#d62728" stroke-width="1.10" fill="none"/>
<circle cx="155.40" cy="44.70" r="1.20" fill="#1f77b4"/>
<path d="M153.80 43.10L157.00 46.30M153.80 46.30L157.00 43.10" stroke="#d62728" stroke-width="1.10" fill="none"/>
<rect x="28.50" y="26.00" width="133.00" height="415.50" fill="none" stroke="#000000" stroke-width="0.75"/>
<line x1="26.20" y1="422.40" x2="28.50" y2="422.40" stroke="#000" stroke-width="0.80"/>
<text x="23.90" y="425.55" font-size="7.30" text-anchor="end" fill="#000" textLength="10.10" lengthAdjust="spacingAndGlyphs">0.0</text>
<line x1="26.20" y1="346.86" x2="28.50" y2="346.86" stroke="#000" stroke-width="0.80"/>
<text x="23.90" y="350.01" font-size="7.30" text-anchor="end" fill="#000" textLength="10.10" lengthAdjust="spacingAndGlyphs">0.2</text>
<line x1="26.20" y1="271.32" x2="28.50" y2="271.32" stroke="#000" stroke-width="0.80"/>
<text x="23.90" y="274.47" font-size="7.30" text-anchor="end" fill="#000" textLength="10.10" lengthAdjust="spacingAndGlyphs">0.4</text>
<line x1="26.20" y1="195.78" x2="28.50" y2="195.78" stroke="#000" stroke-width="0.80"/>
<text x="23.90" y="198.93" font-size="7.30" text-anchor="end" fill="#000" textLength="10.10" lengthAdjust="spacingAndGlyphs">0.6</text>
<line x1="26.20" y1="120.24" x2="28.50" y2="120.24" stroke="#000" stroke-width="0.80"/>
<text x="23.90" y="123.39" font-size="7.30" text-anchor="end" fill="#000" textLength="10.10" lengthAdjust="spacingAndGlyphs">0.8</text>
<line x1="26.20" y1="44.70" x2="28.50" y2="44.70" stroke="#000" stroke-width="0.80"/>
<text x="23.90" y="47.85" font-size="7.30" text-anchor="end" fill="#000" textLength="10.10" lengthAdjust="spacingAndGlyphs">1.0</text>
<line x1="34.50" y1="441.50" x2="34.50" y2="443.90" stroke="#000" stroke-width="0.80"/>
<text x="34.50" y="451.70" font-size="8.70" text-anchor="middle" fill="#000" textLength="30.18" lengthAdjust="spacingAndGlyphs">Blocked</text>
<line x1="155.40" y1="441.50" x2="155.40" y2="443.90" stroke="#000" stroke-width="0.80"/>
<text x="155.40" y="451.70" font-size="8.70" text-anchor="middle" fill="#000" textLength="43.85" lengthAdjust="spacingAndGlyphs">Interleaved</text>
<text x="95.20" y="463.70" font-size="10.19" text-anchor="middle" fill="#000" textLength="81.77" lengthAdjust="spacingAndGlyphs" stroke="#000" stroke-width="0.06">Curriculum (step)</text>
<text x="9.30" y="233.50" font-size="10.14" text-anchor="middle" fill="#000" textLength="42.46" lengthAdjust="spacingAndGlyphs" transform="rotate(-90 9.30 233.50)" stroke="#000" stroke-width="0.06">Accuracy</text>
<text x="95.00" y="10.75" font-size="10.97" text-anchor="middle" fill="#000" textLength="82.33" lengthAdjust="spacingAndGlyphs">After finetuning</text>
<text x="95.00" y="21.60" font-size="10.97" text-anchor="middle" fill="#000" textLength="62.27" lengthAdjust="spacingAndGlyphs">(in weights)</text>
<rect x="30.4" y="351.5" width="129.2" height="84.6" rx="1.5" ry="1.5" fill="#fff" fill-opacity="0.8" stroke="#e2e2e2" stroke-width="1"/>
<text x="60.60" y="363.15" font-size="9.95" text-anchor="start" fill="#000" textLength="38.89" lengthAdjust="spacingAndGlyphs" stroke="#000" stroke-width="0.06">Rotation</text>
<line x1="33.40" y1="373.16" x2="53.00" y2="373.16" stroke="#1f77b4" stroke-width="1.30" stroke-opacity="0.8"/>
<text x="60.60" y="376.61" font-size="9.95" text-anchor="start" fill="#000" textLength="39.54" lengthAdjust="spacingAndGlyphs" stroke="#000" stroke-width="0.06">Rule-like</text>
<line x1="33.40" y1="386.62" x2="53.00" y2="386.62" stroke="#d62728" stroke-width="1.30" stroke-opacity="0.8"/>
<text x="60.60" y="390.07" font-size="9.95" text-anchor="start" fill="#000" textLength="36.35" lengthAdjust="spacingAndGlyphs" stroke="#000" stroke-width="0.06">Rotated</text>
<text x="60.60" y="403.53" font-size="9.95" text-anchor="start" fill="#000" textLength="96.27" lengthAdjust="spacingAndGlyphs" stroke="#000" stroke-width="0.06">Curriculum (context)</text>
<line x1="33.05" y1="413.94" x2="52.80" y2="413.94" stroke="#6a6a6a" stroke-width="1.70"/>
<circle cx="43.05" cy="413.94" r="2.40" fill="#3a3a3a"/>
<text x="60.60" y="416.99" font-size="9.95" text-anchor="start" fill="#000" textLength="36.45" lengthAdjust="spacingAndGlyphs" stroke="#000" stroke-width="0.06">Blocked</text>
<line x1="33.05" y1="427.50" x2="52.8" y2="427.50" stroke="#6a6a6a" stroke-width="1.7" stroke-dasharray="3.8,1.6" stroke-dashoffset="4.35"/>
<path d="M41.15 425.60L44.95 429.40M41.15 429.40L44.95 425.60" stroke="#3a3a3a" stroke-width="1.60" fill="none"/>
<text x="60.60" y="430.45" font-size="9.95" text-anchor="start" fill="#000" textLength="52.96" lengthAdjust="spacingAndGlyphs" stroke="#000" stroke-width="0.06">Interleaved</text>
<rect x="220.50" y="25.90" width="199.00" height="89.50" fill="none" stroke="#000000" stroke-width="0.75"/>
<line x1="217.90" y1="111.33" x2="220.50" y2="111.33" stroke="#000" stroke-width="0.80"/>
<text x="215.30" y="114.93" font-size="8.81" text-anchor="end" fill="#000" textLength="17.37" lengthAdjust="spacingAndGlyphs">0.00</text>
<line x1="217.90" y1="90.99" x2="220.50" y2="90.99" stroke="#000" stroke-width="0.80"/>
<text x="215.30" y="94.59" font-size="8.81" text-anchor="end" fill="#000" textLength="17.37" lengthAdjust="spacingAndGlyphs">0.25</text>
<line x1="217.90" y1="70.65" x2="220.50" y2="70.65" stroke="#000" stroke-width="0.80"/>
<text x="215.30" y="74.25" font-size="8.81" text-anchor="end" fill="#000" textLength="17.37" lengthAdjust="spacingAndGlyphs">0.50</text>
<line x1="217.90" y1="50.31" x2="220.50" y2="50.31" stroke="#000" stroke-width="0.80"/>
<text x="215.30" y="53.91" font-size="8.81" text-anchor="end" fill="#000" textLength="17.37" lengthAdjust="spacingAndGlyphs">0.75</text>
<line x1="217.90" y1="29.97" x2="220.50" y2="29.97" stroke="#000" stroke-width="0.80"/>
<text x="215.30" y="33.57" font-size="8.81" text-anchor="end" fill="#000" textLength="17.37" lengthAdjust="spacingAndGlyphs">1.00</text>
<line x1="229.23" y1="115.40" x2="229.23" y2="117.80" stroke="#000" stroke-width="0.80"/>
<text x="229.23" y="127.10" font-size="8.81" text-anchor="middle" fill="#000" textLength="4.96" lengthAdjust="spacingAndGlyphs">0</text>
<line x1="274.80" y1="115.40" x2="274.80" y2="117.80" stroke="#000" stroke-width="0.80"/>
<text x="274.80" y="127.10" font-size="8.81" text-anchor="middle" fill="#000" textLength="19.85" lengthAdjust="spacingAndGlyphs">1000</text>
<line x1="320.37" y1="115.40" x2="320.37" y2="117.80" stroke="#000" stroke-width="0.80"/>
<text x="320.37" y="127.10" font-size="8.81" text-anchor="middle" fill="#000" textLength="19.85" lengthAdjust="spacingAndGlyphs">2000</text>
<line x1="365.94" y1="115.40" x2="365.94" y2="117.80" stroke="#000" stroke-width="0.80"/>
<text x="365.94" y="127.10" font-size="8.81" text-anchor="middle" fill="#000" textLength="19.85" lengthAdjust="spacingAndGlyphs">3000</text>
<line x1="411.51" y1="115.40" x2="411.51" y2="117.80" stroke="#000" stroke-width="0.80"/>
<text x="411.51" y="127.10" font-size="8.81" text-anchor="middle" fill="#000" textLength="19.85" lengthAdjust="spacingAndGlyphs">4000</text>
<line x1="419.50" y1="115.40" x2="422.10" y2="115.40" stroke="#000" stroke-width="0.80"/>
<text x="424.50" y="119.00" font-size="8.81" text-anchor="start" fill="#000" textLength="4.96" lengthAdjust="spacingAndGlyphs">0</text>
<line x1="419.50" y1="84.80" x2="422.10" y2="84.80" stroke="#000" stroke-width="0.80"/>
<text x="424.50" y="88.40" font-size="8.81" text-anchor="start" fill="#000" textLength="9.93" lengthAdjust="spacingAndGlyphs">20</text>
<line x1="419.50" y1="54.20" x2="422.10" y2="54.20" stroke="#000" stroke-width="0.80"/>
<text x="424.50" y="57.80" font-size="8.81" text-anchor="start" fill="#000" textLength="9.93" lengthAdjust="spacingAndGlyphs">40</text>
<rect x="220.50" y="134.50" width="199.00" height="89.50" fill="none" stroke="#000000" stroke-width="0.75"/>
<line x1="217.90" y1="219.93" x2="220.50" y2="219.93" stroke="#000" stroke-width="0.80"/>
<text x="215.30" y="223.53" font-size="8.81" text-anchor="end" fill="#000" textLength="17.37" lengthAdjust="spacingAndGlyphs">0.00</text>
<line x1="217.90" y1="199.59" x2="220.50" y2="199.59" stroke="#000" stroke-width="0.80"/>
<text x="215.30" y="203.19" font-size="8.81" text-anchor="end" fill="#000" textLength="17.37" lengthAdjust="spacingAndGlyphs">0.25</text>
<line x1="217.90" y1="179.25" x2="220.50" y2="179.25" stroke="#000" stroke-width="0.80"/>
<text x="215.30" y="182.85" font-size="8.81" text-anchor="end" fill="#000" textLength="17.37" lengthAdjust="spacingAndGlyphs">0.50</text>
<line x1="217.90" y1="158.91" x2="220.50" y2="158.91" stroke="#000" stroke-width="0.80"/>
<text x="215.30" y="162.51" font-size="8.81" text-anchor="end" fill="#000" textLength="17.37" lengthAdjust="spacingAndGlyphs">0.75</text>
<line x1="217.90" y1="138.57" x2="220.50" y2="138.57" stroke="#000" stroke-width="0.80"/>
<text x="215.30" y="142.17" font-size="8.81" text-anchor="end" fill="#000" textLength="17.37" lengthAdjust="spacingAndGlyphs">1.00</text>
<line x1="229.23" y1="224.00" x2="229.23" y2="226.40" stroke="#000" stroke-width="0.80"/>
<text x="229.23" y="235.10" font-size="8.81" text-anchor="middle" fill="#000" textLength="4.96" lengthAdjust="spacingAndGlyphs">0</text>
<line x1="274.80" y1="224.00" x2="274.80" y2="226.40" stroke="#000" stroke-width="0.80"/>
<text x="274.80" y="235.10" font-size="8.81" text-anchor="middle" fill="#000" textLength="19.85" lengthAdjust="spacingAndGlyphs">1000</text>
<line x1="320.37" y1="224.00" x2="320.37" y2="226.40" stroke="#000" stroke-width="0.80"/>
<text x="320.37" y="235.10" font-size="8.81" text-anchor="middle" fill="#000" textLength="19.85" lengthAdjust="spacingAndGlyphs">2000</text>
<line x1="365.94" y1="224.00" x2="365.94" y2="226.40" stroke="#000" stroke-width="0.80"/>
<text x="365.94" y="235.10" font-size="8.81" text-anchor="middle" fill="#000" textLength="19.85" lengthAdjust="spacingAndGlyphs">3000</text>
<line x1="411.51" y1="224.00" x2="411.51" y2="226.40" stroke="#000" stroke-width="0.80"/>
<text x="411.51" y="235.10" font-size="8.81" text-anchor="middle" fill="#000" textLength="19.85" lengthAdjust="spacingAndGlyphs">4000</text>
<line x1="419.50" y1="224.00" x2="422.10" y2="224.00" stroke="#000" stroke-width="0.80"/>
<text x="424.50" y="227.60" font-size="8.81" text-anchor="start" fill="#000" textLength="4.96" lengthAdjust="spacingAndGlyphs">0</text>
<line x1="419.50" y1="193.40" x2="422.10" y2="193.40" stroke="#000" stroke-width="0.80"/>
<text x="424.50" y="197.00" font-size="8.81" text-anchor="start" fill="#000" textLength="9.93" lengthAdjust="spacingAndGlyphs">20</text>
<line x1="419.50" y1="162.80" x2="422.10" y2="162.80" stroke="#000" stroke-width="0.80"/>
<text x="424.50" y="166.40" font-size="8.81" text-anchor="start" fill="#000" textLength="9.93" lengthAdjust="spacingAndGlyphs">40</text>
<rect x="220.50" y="243.10" width="199.00" height="89.50" fill="none" stroke="#000000" stroke-width="0.75"/>
<line x1="217.90" y1="328.53" x2="220.50" y2="328.53" stroke="#000" stroke-width="0.80"/>
<text x="215.30" y="332.13" font-size="8.81" text-anchor="end" fill="#000" textLength="17.37" lengthAdjust="spacingAndGlyphs">0.00</text>
<line x1="217.90" y1="308.19" x2="220.50" y2="308.19" stroke="#000" stroke-width="0.80"/>
<text x="215.30" y="311.79" font-size="8.81" text-anchor="end" fill="#000" textLength="17.37" lengthAdjust="spacingAndGlyphs">0.25</text>
<line x1="217.90" y1="287.85" x2="220.50" y2="287.85" stroke="#000" stroke-width="0.80"/>
<text x="215.30" y="291.45" font-size="8.81" text-anchor="end" fill="#000" textLength="17.37" lengthAdjust="spacingAndGlyphs">0.50</text>
<line x1="217.90" y1="267.51" x2="220.50" y2="267.51" stroke="#000" stroke-width="0.80"/>
<text x="215.30" y="271.11" font-size="8.81" text-anchor="end" fill="#000" textLength="17.37" lengthAdjust="spacingAndGlyphs">0.75</text>
<line x1="217.90" y1="247.17" x2="220.50" y2="247.17" stroke="#000" stroke-width="0.80"/>
<text x="215.30" y="250.77" font-size="8.81" text-anchor="end" fill="#000" textLength="17.37" lengthAdjust="spacingAndGlyphs">1.00</text>
<line x1="229.23" y1="332.60" x2="229.23" y2="335.00" stroke="#000" stroke-width="0.80"/>
<text x="229.23" y="343.70" font-size="8.81" text-anchor="middle" fill="#000" textLength="4.96" lengthAdjust="spacingAndGlyphs">0</text>
<line x1="274.80" y1="332.60" x2="274.80" y2="335.00" stroke="#000" stroke-width="0.80"/>
<text x="274.80" y="343.70" font-size="8.81" text-anchor="middle" fill="#000" textLength="19.85" lengthAdjust="spacingAndGlyphs">1000</text>
<line x1="320.37" y1="332.60" x2="320.37" y2="335.00" stroke="#000" stroke-width="0.80"/>
<text x="320.37" y="343.70" font-size="8.81" text-anchor="middle" fill="#000" textLength="19.85" lengthAdjust="spacingAndGlyphs">2000</text>
<line x1="365.94" y1="332.60" x2="365.94" y2="335.00" stroke="#000" stroke-width="0.80"/>
<text x="365.94" y="343.70" font-size="8.81" text-anchor="middle" fill="#000" textLength="19.85" lengthAdjust="spacingAndGlyphs">3000</text>
<line x1="411.51" y1="332.60" x2="411.51" y2="335.00" stroke="#000" stroke-width="0.80"/>
<text x="411.51" y="343.70" font-size="8.81" text-anchor="middle" fill="#000" textLength="19.85" lengthAdjust="spacingAndGlyphs">4000</text>
<line x1="419.50" y1="332.60" x2="422.10" y2="332.60" stroke="#000" stroke-width="0.80"/>
<text x="424.50" y="336.20" font-size="8.81" text-anchor="start" fill="#000" textLength="4.96" lengthAdjust="spacingAndGlyphs">0</text>
<line x1="419.50" y1="302.00" x2="422.10" y2="302.00" stroke="#000" stroke-width="0.80"/>
<text x="424.50" y="305.60" font-size="8.81" text-anchor="start" fill="#000" textLength="9.93" lengthAdjust="spacingAndGlyphs">20</text>
<line x1="419.50" y1="271.40" x2="422.10" y2="271.40" stroke="#000" stroke-width="0.80"/>
<text x="424.50" y="275.00" font-size="8.81" text-anchor="start" fill="#000" textLength="9.93" lengthAdjust="spacingAndGlyphs">40</text>
<rect x="220.50" y="351.70" width="199.00" height="89.50" fill="none" stroke="#000000" stroke-width="0.75"/>
<line x1="217.90" y1="437.13" x2="220.50" y2="437.13" stroke="#000" stroke-width="0.80"/>
<text x="215.30" y="440.73" font-size="8.81" text-anchor="end" fill="#000" textLength="17.37" lengthAdjust="spacingAndGlyphs">0.00</text>
<line x1="217.90" y1="416.79" x2="220.50" y2="416.79" stroke="#000" stroke-width="0.80"/>
<text x="215.30" y="420.39" font-size="8.81" text-anchor="end" fill="#000" textLength="17.37" lengthAdjust="spacingAndGlyphs">0.25</text>
<line x1="217.90" y1="396.45" x2="220.50" y2="396.45" stroke="#000" stroke-width="0.80"/>
<text x="215.30" y="400.05" font-size="8.81" text-anchor="end" fill="#000" textLength="17.37" lengthAdjust="spacingAndGlyphs">0.50</text>
<line x1="217.90" y1="376.11" x2="220.50" y2="376.11" stroke="#000" stroke-width="0.80"/>
<text x="215.30" y="379.71" font-size="8.81" text-anchor="end" fill="#000" textLength="17.37" lengthAdjust="spacingAndGlyphs">0.75</text>
<line x1="217.90" y1="355.77" x2="220.50" y2="355.77" stroke="#000" stroke-width="0.80"/>
<text x="215.30" y="359.37" font-size="8.81" text-anchor="end" fill="#000" textLength="17.37" lengthAdjust="spacingAndGlyphs">1.00</text>
<line x1="229.23" y1="441.20" x2="229.23" y2="443.60" stroke="#000" stroke-width="0.80"/>
<text x="229.23" y="452.00" font-size="8.81" text-anchor="middle" fill="#000" textLength="4.96" lengthAdjust="spacingAndGlyphs">0</text>
<line x1="274.80" y1="441.20" x2="274.80" y2="443.60" stroke="#000" stroke-width="0.80"/>
<text x="274.80" y="452.00" font-size="8.81" text-anchor="middle" fill="#000" textLength="19.85" lengthAdjust="spacingAndGlyphs">1000</text>
<line x1="320.37" y1="441.20" x2="320.37" y2="443.60" stroke="#000" stroke-width="0.80"/>
<text x="320.37" y="452.00" font-size="8.81" text-anchor="middle" fill="#000" textLength="19.85" lengthAdjust="spacingAndGlyphs">2000</text>
<line x1="365.94" y1="441.20" x2="365.94" y2="443.60" stroke="#000" stroke-width="0.80"/>
<text x="365.94" y="452.00" font-size="8.81" text-anchor="middle" fill="#000" textLength="19.85" lengthAdjust="spacingAndGlyphs">3000</text>
<line x1="411.51" y1="441.20" x2="411.51" y2="443.60" stroke="#000" stroke-width="0.80"/>
<text x="411.51" y="452.00" font-size="8.81" text-anchor="middle" fill="#000" textLength="19.85" lengthAdjust="spacingAndGlyphs">4000</text>
<line x1="419.50" y1="441.20" x2="422.10" y2="441.20" stroke="#000" stroke-width="0.80"/>
<text x="424.50" y="444.80" font-size="8.81" text-anchor="start" fill="#000" textLength="4.96" lengthAdjust="spacingAndGlyphs">0</text>
<line x1="419.50" y1="410.60" x2="422.10" y2="410.60" stroke="#000" stroke-width="0.80"/>
<text x="424.50" y="414.20" font-size="8.81" text-anchor="start" fill="#000" textLength="9.93" lengthAdjust="spacingAndGlyphs">20</text>
<line x1="419.50" y1="380.00" x2="422.10" y2="380.00" stroke="#000" stroke-width="0.80"/>
<text x="424.50" y="383.60" font-size="8.81" text-anchor="start" fill="#000" textLength="9.93" lengthAdjust="spacingAndGlyphs">40</text>
<rect x="478.50" y="25.90" width="199.60" height="89.50" fill="none" stroke="#000000" stroke-width="0.75"/>
<line x1="475.90" y1="111.33" x2="478.50" y2="111.33" stroke="#000" stroke-width="0.80"/>
<text x="473.30" y="114.93" font-size="8.81" text-anchor="end" fill="#000" textLength="17.37" lengthAdjust="spacingAndGlyphs">0.00</text>
<line x1="475.90" y1="90.99" x2="478.50" y2="90.99" stroke="#000" stroke-width="0.80"/>
<text x="473.30" y="94.59" font-size="8.81" text-anchor="end" fill="#000" textLength="17.37" lengthAdjust="spacingAndGlyphs">0.25</text>
<line x1="475.90" y1="70.65" x2="478.50" y2="70.65" stroke="#000" stroke-width="0.80"/>
<text x="473.30" y="74.25" font-size="8.81" text-anchor="end" fill="#000" textLength="17.37" lengthAdjust="spacingAndGlyphs">0.50</text>
<line x1="475.90" y1="50.31" x2="478.50" y2="50.31" stroke="#000" stroke-width="0.80"/>
<text x="473.30" y="53.91" font-size="8.81" text-anchor="end" fill="#000" textLength="17.37" lengthAdjust="spacingAndGlyphs">0.75</text>
<line x1="475.90" y1="29.97" x2="478.50" y2="29.97" stroke="#000" stroke-width="0.80"/>
<text x="473.30" y="33.57" font-size="8.81" text-anchor="end" fill="#000" textLength="17.37" lengthAdjust="spacingAndGlyphs">1.00</text>
<line x1="487.40" y1="115.40" x2="487.40" y2="117.80" stroke="#000" stroke-width="0.80"/>
<text x="487.40" y="127.10" font-size="8.81" text-anchor="middle" fill="#000" textLength="4.96" lengthAdjust="spacingAndGlyphs">0</text>
<line x1="533.05" y1="115.40" x2="533.05" y2="117.80" stroke="#000" stroke-width="0.80"/>
<text x="533.05" y="127.10" font-size="8.81" text-anchor="middle" fill="#000" textLength="19.85" lengthAdjust="spacingAndGlyphs">1000</text>
<line x1="578.70" y1="115.40" x2="578.70" y2="117.80" stroke="#000" stroke-width="0.80"/>
<text x="578.70" y="127.10" font-size="8.81" text-anchor="middle" fill="#000" textLength="19.85" lengthAdjust="spacingAndGlyphs">2000</text>
<line x1="624.35" y1="115.40" x2="624.35" y2="117.80" stroke="#000" stroke-width="0.80"/>
<text x="624.35" y="127.10" font-size="8.81" text-anchor="middle" fill="#000" textLength="19.85" lengthAdjust="spacingAndGlyphs">3000</text>
<line x1="670.00" y1="115.40" x2="670.00" y2="117.80" stroke="#000" stroke-width="0.80"/>
<text x="670.00" y="127.10" font-size="8.81" text-anchor="middle" fill="#000" textLength="19.85" lengthAdjust="spacingAndGlyphs">4000</text>
<line x1="678.10" y1="115.40" x2="680.70" y2="115.40" stroke="#000" stroke-width="0.80"/>
<text x="683.10" y="119.00" font-size="8.81" text-anchor="start" fill="#000" textLength="4.96" lengthAdjust="spacingAndGlyphs">0</text>
<line x1="678.10" y1="84.80" x2="680.70" y2="84.80" stroke="#000" stroke-width="0.80"/>
<text x="683.10" y="88.40" font-size="8.81" text-anchor="start" fill="#000" textLength="9.93" lengthAdjust="spacingAndGlyphs">20</text>
<line x1="678.10" y1="54.20" x2="680.70" y2="54.20" stroke="#000" stroke-width="0.80"/>
<text x="683.10" y="57.80" font-size="8.81" text-anchor="start" fill="#000" textLength="9.93" lengthAdjust="spacingAndGlyphs">40</text>
<text x="451.80" y="70.95" font-size="9.97" text-anchor="middle" fill="#000" textLength="41.77" lengthAdjust="spacingAndGlyphs" transform="rotate(-90 451.80 70.95)" stroke="#000" stroke-width="0.06">Accuracy</text>
<text x="702.80" y="70.65" font-size="9.81" text-anchor="middle" fill="#000" textLength="19.74" lengthAdjust="spacingAndGlyphs" transform="rotate(-90 702.80 70.65)" stroke="#000" stroke-width="0.06">Loss</text>
<rect x="478.50" y="134.50" width="199.60" height="89.50" fill="none" stroke="#000000" stroke-width="0.75"/>
<line x1="475.90" y1="219.93" x2="478.50" y2="219.93" stroke="#000" stroke-width="0.80"/>
<text x="473.30" y="223.53" font-size="8.81" text-anchor="end" fill="#000" textLength="17.37" lengthAdjust="spacingAndGlyphs">0.00</text>
<line x1="475.90" y1="199.59" x2="478.50" y2="199.59" stroke="#000" stroke-width="0.80"/>
<text x="473.30" y="203.19" font-size="8.81" text-anchor="end" fill="#000" textLength="17.37" lengthAdjust="spacingAndGlyphs">0.25</text>
<line x1="475.90" y1="179.25" x2="478.50" y2="179.25" stroke="#000" stroke-width="0.80"/>
<text x="473.30" y="182.85" font-size="8.81" text-anchor="end" fill="#000" textLength="17.37" lengthAdjust="spacingAndGlyphs">0.50</text>
<line x1="475.90" y1="158.91" x2="478.50" y2="158.91" stroke="#000" stroke-width="0.80"/>
<text x="473.30" y="162.51" font-size="8.81" text-anchor="end" fill="#000" textLength="17.37" lengthAdjust="spacingAndGlyphs">0.75</text>
<line x1="475.90" y1="138.57" x2="478.50" y2="138.57" stroke="#000" stroke-width="0.80"/>
<text x="473.30" y="142.17" font-size="8.81" text-anchor="end" fill="#000" textLength="17.37" lengthAdjust="spacingAndGlyphs">1.00</text>
<line x1="487.40" y1="224.00" x2="487.40" y2="226.40" stroke="#000" stroke-width="0.80"/>
<text x="487.40" y="235.10" font-size="8.81" text-anchor="middle" fill="#000" textLength="4.96" lengthAdjust="spacingAndGlyphs">0</text>
<line x1="533.05" y1="224.00" x2="533.05" y2="226.40" stroke="#000" stroke-width="0.80"/>
<text x="533.05" y="235.10" font-size="8.81" text-anchor="middle" fill="#000" textLength="19.85" lengthAdjust="spacingAndGlyphs">1000</text>
<line x1="578.70" y1="224.00" x2="578.70" y2="226.40" stroke="#000" stroke-width="0.80"/>
<text x="578.70" y="235.10" font-size="8.81" text-anchor="middle" fill="#000" textLength="19.85" lengthAdjust="spacingAndGlyphs">2000</text>
<line x1="624.35" y1="224.00" x2="624.35" y2="226.40" stroke="#000" stroke-width="0.80"/>
<text x="624.35" y="235.10" font-size="8.81" text-anchor="middle" fill="#000" textLength="19.85" lengthAdjust="spacingAndGlyphs">3000</text>
<line x1="670.00" y1="224.00" x2="670.00" y2="226.40" stroke="#000" stroke-width="0.80"/>
<text x="670.00" y="235.10" font-size="8.81" text-anchor="middle" fill="#000" textLength="19.85" lengthAdjust="spacingAndGlyphs">4000</text>
<line x1="678.10" y1="224.00" x2="680.70" y2="224.00" stroke="#000" stroke-width="0.80"/>
<text x="683.10" y="227.60" font-size="8.81" text-anchor="start" fill="#000" textLength="4.96" lengthAdjust="spacingAndGlyphs">0</text>
<line x1="678.10" y1="193.40" x2="680.70" y2="193.40" stroke="#000" stroke-width="0.80"/>
<text x="683.10" y="197.00" font-size="8.81" text-anchor="start" fill="#000" textLength="9.93" lengthAdjust="spacingAndGlyphs">20</text>
<line x1="678.10" y1="162.80" x2="680.70" y2="162.80" stroke="#000" stroke-width="0.80"/>
<text x="683.10" y="166.40" font-size="8.81" text-anchor="start" fill="#000" textLength="9.93" lengthAdjust="spacingAndGlyphs">40</text>
<text x="451.80" y="179.55" font-size="9.97" text-anchor="middle" fill="#000" textLength="41.77" lengthAdjust="spacingAndGlyphs" transform="rotate(-90 451.80 179.55)" stroke="#000" stroke-width="0.06">Accuracy</text>
<text x="702.80" y="179.25" font-size="9.81" text-anchor="middle" fill="#000" textLength="19.74" lengthAdjust="spacingAndGlyphs" transform="rotate(-90 702.80 179.25)" stroke="#000" stroke-width="0.06">Loss</text>
<rect x="478.50" y="243.10" width="199.60" height="89.50" fill="none" stroke="#000000" stroke-width="0.75"/>
<line x1="475.90" y1="328.53" x2="478.50" y2="328.53" stroke="#000" stroke-width="0.80"/>
<text x="473.30" y="332.13" font-size="8.81" text-anchor="end" fill="#000" textLength="17.37" lengthAdjust="spacingAndGlyphs">0.00</text>
<line x1="475.90" y1="308.19" x2="478.50" y2="308.19" stroke="#000" stroke-width="0.80"/>
<text x="473.30" y="311.79" font-size="8.81" text-anchor="end" fill="#000" textLength="17.37" lengthAdjust="spacingAndGlyphs">0.25</text>
<line x1="475.90" y1="287.85" x2="478.50" y2="287.85" stroke="#000" stroke-width="0.80"/>
<text x="473.30" y="291.45" font-size="8.81" text-anchor="end" fill="#000" textLength="17.37" lengthAdjust="spacingAndGlyphs">0.50</text>
<line x1="475.90" y1="267.51" x2="478.50" y2="267.51" stroke="#000" stroke-width="0.80"/>
<text x="473.30" y="271.11" font-size="8.81" text-anchor="end" fill="#000" textLength="17.37" lengthAdjust="spacingAndGlyphs">0.75</text>
<line x1="475.90" y1="247.17" x2="478.50" y2="247.17" stroke="#000" stroke-width="0.80"/>
<text x="473.30" y="250.77" font-size="8.81" text-anchor="end" fill="#000" textLength="17.37" lengthAdjust="spacingAndGlyphs">1.00</text>
<line x1="487.40" y1="332.60" x2="487.40" y2="335.00" stroke="#000" stroke-width="0.80"/>
<text x="487.40" y="343.70" font-size="8.81" text-anchor="middle" fill="#000" textLength="4.96" lengthAdjust="spacingAndGlyphs">0</text>
<line x1="533.05" y1="332.60" x2="533.05" y2="335.00" stroke="#000" stroke-width="0.80"/>
<text x="533.05" y="343.70" font-size="8.81" text-anchor="middle" fill="#000" textLength="19.85" lengthAdjust="spacingAndGlyphs">1000</text>
<line x1="578.70" y1="332.60" x2="578.70" y2="335.00" stroke="#000" stroke-width="0.80"/>
<text x="578.70" y="343.70" font-size="8.81" text-anchor="middle" fill="#000" textLength="19.85" lengthAdjust="spacingAndGlyphs">2000</text>
<line x1="624.35" y1="332.60" x2="624.35" y2="335.00" stroke="#000" stroke-width="0.80"/>
<text x="624.35" y="343.70" font-size="8.81" text-anchor="middle" fill="#000" textLength="19.85" lengthAdjust="spacingAndGlyphs">3000</text>
<line x1="670.00" y1="332.60" x2="670.00" y2="335.00" stroke="#000" stroke-width="0.80"/>
<text x="670.00" y="343.70" font-size="8.81" text-anchor="middle" fill="#000" textLength="19.85" lengthAdjust="spacingAndGlyphs">4000</text>
<line x1="678.10" y1="332.60" x2="680.70" y2="332.60" stroke="#000" stroke-width="0.80"/>
<text x="683.10" y="336.20" font-size="8.81" text-anchor="start" fill="#000" textLength="4.96" lengthAdjust="spacingAndGlyphs">0</text>
<line x1="678.10" y1="302.00" x2="680.70" y2="302.00" stroke="#000" stroke-width="0.80"/>
<text x="683.10" y="305.60" font-size="8.81" text-anchor="start" fill="#000" textLength="9.93" lengthAdjust="spacingAndGlyphs">20</text>
<line x1="678.10" y1="271.40" x2="680.70" y2="271.40" stroke="#000" stroke-width="0.80"/>
<text x="683.10" y="275.00" font-size="8.81" text-anchor="start" fill="#000" textLength="9.93" lengthAdjust="spacingAndGlyphs">40</text>
<text x="451.80" y="288.15" font-size="9.97" text-anchor="middle" fill="#000" textLength="41.77" lengthAdjust="spacingAndGlyphs" transform="rotate(-90 451.80 288.15)" stroke="#000" stroke-width="0.06">Accuracy</text>
<text x="702.80" y="287.85" font-size="9.81" text-anchor="middle" fill="#000" textLength="19.74" lengthAdjust="spacingAndGlyphs" transform="rotate(-90 702.80 287.85)" stroke="#000" stroke-width="0.06">Loss</text>
<rect x="478.50" y="351.70" width="199.60" height="89.50" fill="none" stroke="#000000" stroke-width="0.75"/>
<line x1="475.90" y1="437.13" x2="478.50" y2="437.13" stroke="#000" stroke-width="0.80"/>
<text x="473.30" y="440.73" font-size="8.81" text-anchor="end" fill="#000" textLength="17.37" lengthAdjust="spacingAndGlyphs">0.00</text>
<line x1="475.90" y1="416.79" x2="478.50" y2="416.79" stroke="#000" stroke-width="0.80"/>
<text x="473.30" y="420.39" font-size="8.81" text-anchor="end" fill="#000" textLength="17.37" lengthAdjust="spacingAndGlyphs">0.25</text>
<line x1="475.90" y1="396.45" x2="478.50" y2="396.45" stroke="#000" stroke-width="0.80"/>
<text x="473.30" y="400.05" font-size="8.81" text-anchor="end" fill="#000" textLength="17.37" lengthAdjust="spacingAndGlyphs">0.50</text>
<line x1="475.90" y1="376.11" x2="478.50" y2="376.11" stroke="#000" stroke-width="0.80"/>
<text x="473.30" y="379.71" font-size="8.81" text-anchor="end" fill="#000" textLength="17.37" lengthAdjust="spacingAndGlyphs">0.75</text>
<line x1="475.90" y1="355.77" x2="478.50" y2="355.77" stroke="#000" stroke-width="0.80"/>
<text x="473.30" y="359.37" font-size="8.81" text-anchor="end" fill="#000" textLength="17.37" lengthAdjust="spacingAndGlyphs">1.00</text>
<line x1="487.40" y1="441.20" x2="487.40" y2="443.60" stroke="#000" stroke-width="0.80"/>
<text x="487.40" y="452.00" font-size="8.81" text-anchor="middle" fill="#000" textLength="4.96" lengthAdjust="spacingAndGlyphs">0</text>
<line x1="533.05" y1="441.20" x2="533.05" y2="443.60" stroke="#000" stroke-width="0.80"/>
<text x="533.05" y="452.00" font-size="8.81" text-anchor="middle" fill="#000" textLength="19.85" lengthAdjust="spacingAndGlyphs">1000</text>
<line x1="578.70" y1="441.20" x2="578.70" y2="443.60" stroke="#000" stroke-width="0.80"/>
<text x="578.70" y="452.00" font-size="8.81" text-anchor="middle" fill="#000" textLength="19.85" lengthAdjust="spacingAndGlyphs">2000</text>
<line x1="624.35" y1="441.20" x2="624.35" y2="443.60" stroke="#000" stroke-width="0.80"/>
<text x="624.35" y="452.00" font-size="8.81" text-anchor="middle" fill="#000" textLength="19.85" lengthAdjust="spacingAndGlyphs">3000</text>
<line x1="670.00" y1="441.20" x2="670.00" y2="443.60" stroke="#000" stroke-width="0.80"/>
<text x="670.00" y="452.00" font-size="8.81" text-anchor="middle" fill="#000" textLength="19.85" lengthAdjust="spacingAndGlyphs">4000</text>
<line x1="678.10" y1="441.20" x2="680.70" y2="441.20" stroke="#000" stroke-width="0.80"/>
<text x="683.10" y="444.80" font-size="8.81" text-anchor="start" fill="#000" textLength="4.96" lengthAdjust="spacingAndGlyphs">0</text>
<line x1="678.10" y1="410.60" x2="680.70" y2="410.60" stroke="#000" stroke-width="0.80"/>
<text x="683.10" y="414.20" font-size="8.81" text-anchor="start" fill="#000" textLength="9.93" lengthAdjust="spacingAndGlyphs">20</text>
<line x1="678.10" y1="380.00" x2="680.70" y2="380.00" stroke="#000" stroke-width="0.80"/>
<text x="683.10" y="383.60" font-size="8.81" text-anchor="start" fill="#000" textLength="9.93" lengthAdjust="spacingAndGlyphs">40</text>
<text x="451.80" y="396.75" font-size="9.97" text-anchor="middle" fill="#000" textLength="41.77" lengthAdjust="spacingAndGlyphs" transform="rotate(-90 451.80 396.75)" stroke="#000" stroke-width="0.06">Accuracy</text>
<text x="702.80" y="396.45" font-size="9.81" text-anchor="middle" fill="#000" textLength="19.74" lengthAdjust="spacingAndGlyphs" transform="rotate(-90 702.80 396.45)" stroke="#000" stroke-width="0.06">Loss</text>
<text x="192.90" y="71.15" font-size="9.92" text-anchor="middle" fill="#000" textLength="74.22" lengthAdjust="spacingAndGlyphs" transform="rotate(-90 192.90 71.15)" stroke="#000" stroke-width="0.06">Blocked,Blocked</text>
<text x="192.90" y="179.75" font-size="9.92" text-anchor="middle" fill="#000" textLength="90.38" lengthAdjust="spacingAndGlyphs" transform="rotate(-90 192.90 179.75)" stroke="#000" stroke-width="0.06">Blocked,Interleaved</text>
<text x="192.90" y="288.35" font-size="9.92" text-anchor="middle" fill="#000" textLength="90.38" lengthAdjust="spacingAndGlyphs" transform="rotate(-90 192.90 288.35)" stroke="#000" stroke-width="0.06">Interleaved,Blocked</text>
<text x="192.90" y="396.95" font-size="9.92" text-anchor="middle" fill="#000" textLength="106.54" lengthAdjust="spacingAndGlyphs" transform="rotate(-90 192.90 396.95)" stroke="#000" stroke-width="0.06">Interleaved,Interleaved</text>
<text x="177.60" y="233.10" font-size="10.17" text-anchor="middle" fill="#000" textLength="123.41" lengthAdjust="spacingAndGlyphs" transform="rotate(-90 177.60 233.10)" stroke="#000" stroke-width="0.06">Curriculum: context, steps</text>
<text x="320.30" y="21.70" font-size="10.92" text-anchor="middle" fill="#000" textLength="44.65" lengthAdjust="spacingAndGlyphs">Rule-like</text>
<text x="578.30" y="21.70" font-size="10.92" text-anchor="middle" fill="#000" textLength="41.04" lengthAdjust="spacingAndGlyphs">Rotated</text>
<text x="320.30" y="463.60" font-size="10.03" text-anchor="middle" fill="#000" textLength="20.95" lengthAdjust="spacingAndGlyphs" stroke="#000" stroke-width="0.06">Step</text>
<text x="578.30" y="463.60" font-size="10.03" text-anchor="middle" fill="#000" textLength="20.95" lengthAdjust="spacingAndGlyphs" stroke="#000" stroke-width="0.06">Step</text>
<rect x="709.6" y="204.6" width="61.6" height="56.4" rx="1.5" ry="1.5" fill="#fff" fill-opacity="0.8" stroke="#dedede" stroke-width="1"/>
<line x1="712.30" y1="211.45" x2="731.80" y2="211.45" stroke="#9467bd" stroke-width="1.30" stroke-opacity="0.8"/>
<text x="739.00" y="215.40" font-size="9.95" text-anchor="start" fill="#000" textLength="28.06" lengthAdjust="spacingAndGlyphs" stroke="#000" stroke-width="0.06">TrainA</text>
<line x1="712.30" y1="225.20" x2="731.80" y2="225.20" stroke="#ff7f0e" stroke-width="1.30" stroke-opacity="0.8"/>
<text x="739.00" y="229.15" font-size="9.95" text-anchor="start" fill="#000" textLength="28.08" lengthAdjust="spacingAndGlyphs" stroke="#000" stroke-width="0.06">TrainB</text>
<line x1="712.30" y1="238.95" x2="731.80" y2="238.95" stroke="#2ca02c" stroke-width="1.30" stroke-opacity="0.8"/>
<text x="739.00" y="242.90" font-size="9.95" text-anchor="start" fill="#000" textLength="17.92" lengthAdjust="spacingAndGlyphs" stroke="#000" stroke-width="0.06">Test</text>
<line x1="712.30" y1="252.70" x2="731.80" y2="252.70" stroke="#7f7f7f" stroke-width="1.30" stroke-opacity="0.8"/>
<text x="739.00" y="256.65" font-size="9.95" text-anchor="start" fill="#000" textLength="19.96" lengthAdjust="spacingAndGlyphs" stroke="#000" stroke-width="0.06">Loss</text>
</svg>
</body></html>
